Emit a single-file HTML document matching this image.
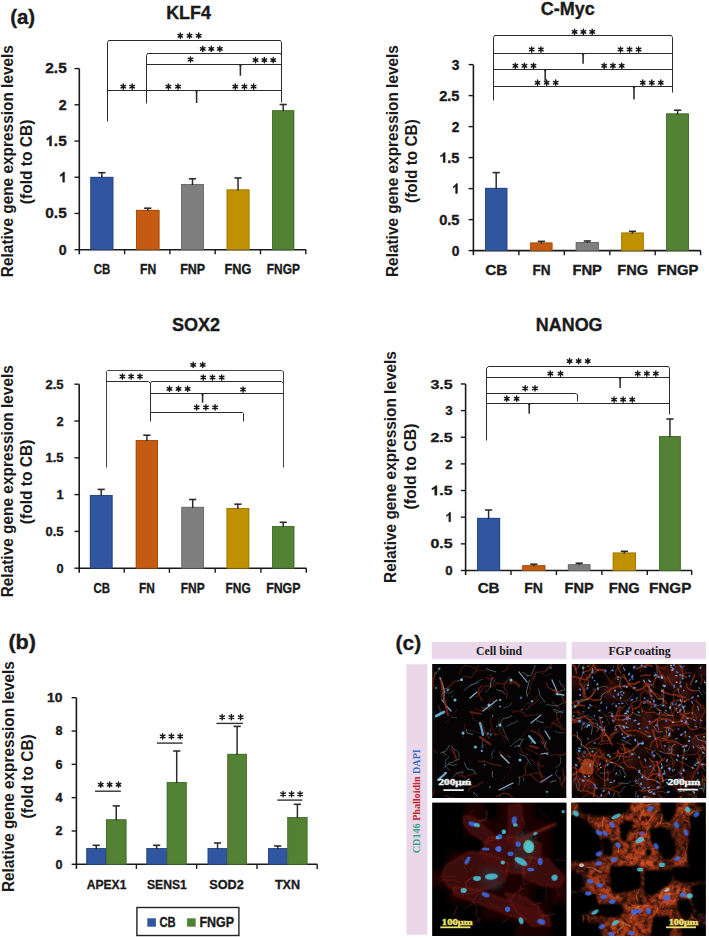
<!DOCTYPE html>
<html><head><meta charset="utf-8"><style>html,body{margin:0;padding:0;background:#fff}svg{display:block}</style></head>
<body>
<svg width="709" height="938" viewBox="0 0 709 938">
<rect width="709" height="938" fill="#fff"/>
<text x="10.20" y="24.00" font-size="19.8" font-weight="bold" text-anchor="start" fill="#1a1a1a" font-family="'Liberation Sans', sans-serif" textLength="25.0" lengthAdjust="spacingAndGlyphs"  stroke="#1a1a1a" stroke-width="0.35">(a)</text>
<text x="188.50" y="18.60" font-size="18" font-weight="bold" text-anchor="middle" fill="#1a1a1a" font-family="'Liberation Sans', sans-serif" textLength="44.7" lengthAdjust="spacingAndGlyphs"  stroke="#1a1a1a" stroke-width="0.35">KLF4</text>
<text transform="translate(13.30,161.10) rotate(-90)" font-size="15.6" font-weight="bold" text-anchor="middle" fill="#1a1a1a" font-family="'Liberation Sans', sans-serif" textLength="232.1" lengthAdjust="spacingAndGlyphs">Relative gene expression levels</text>
<text transform="translate(31.60,161.90) rotate(-90)" font-size="15.6" font-weight="bold" text-anchor="middle" fill="#1a1a1a" font-family="'Liberation Sans', sans-serif" textLength="84.6" lengthAdjust="spacingAndGlyphs">(fold to CB)</text>
<line x1="79.30" y1="68.57" x2="79.30" y2="254.30" stroke="#1a1a1a" stroke-width="1.6"/>
<line x1="78.50" y1="249.70" x2="306.20" y2="249.70" stroke="#1a1a1a" stroke-width="1.6"/>
<line x1="74.50" y1="249.70" x2="79.30" y2="249.70" stroke="#1a1a1a" stroke-width="1.4"/>
<text x="66.70" y="254.60" font-size="14.2" font-weight="bold" text-anchor="end" fill="#1a1a1a" font-family="'Liberation Sans', sans-serif"  stroke="#1a1a1a" stroke-width="0.35">0</text>
<line x1="74.50" y1="213.47" x2="79.30" y2="213.47" stroke="#1a1a1a" stroke-width="1.4"/>
<text x="66.70" y="218.38" font-size="14.2" font-weight="bold" text-anchor="end" fill="#1a1a1a" font-family="'Liberation Sans', sans-serif" textLength="21.4" lengthAdjust="spacingAndGlyphs"  stroke="#1a1a1a" stroke-width="0.35">0.5</text>
<line x1="74.50" y1="177.25" x2="79.30" y2="177.25" stroke="#1a1a1a" stroke-width="1.4"/>
<path transform="translate(58.80,182.15) scale(0.01420,-0.01420)" d="M410,0 L270,0 L270,505 Q195,435 95,395 L95,520 Q165,550 230,605 Q290,660 320,716 L410,716 Z" fill="#1a1a1a" stroke="#1a1a1a" stroke-width="24.6"/>
<line x1="74.50" y1="141.02" x2="79.30" y2="141.02" stroke="#1a1a1a" stroke-width="1.4"/>
<path transform="translate(45.30,145.92) scale(0.01540,-0.01420)" d="M410,0 L270,0 L270,505 Q195,435 95,395 L95,520 Q165,550 230,605 Q290,660 320,716 L410,716 Z" fill="#1a1a1a" stroke="#1a1a1a" stroke-width="24.6"/>
<text x="66.70" y="145.92" font-size="14.2" font-weight="bold" text-anchor="end" fill="#1a1a1a" font-family="'Liberation Sans', sans-serif" textLength="12.839999999999996" lengthAdjust="spacingAndGlyphs"  stroke="#1a1a1a" stroke-width="0.35">.5</text>
<line x1="74.50" y1="104.80" x2="79.30" y2="104.80" stroke="#1a1a1a" stroke-width="1.4"/>
<text x="66.70" y="109.70" font-size="14.2" font-weight="bold" text-anchor="end" fill="#1a1a1a" font-family="'Liberation Sans', sans-serif"  stroke="#1a1a1a" stroke-width="0.35">2</text>
<line x1="74.50" y1="68.57" x2="79.30" y2="68.57" stroke="#1a1a1a" stroke-width="1.4"/>
<text x="66.70" y="73.47" font-size="14.2" font-weight="bold" text-anchor="end" fill="#1a1a1a" font-family="'Liberation Sans', sans-serif" textLength="21.4" lengthAdjust="spacingAndGlyphs"  stroke="#1a1a1a" stroke-width="0.35">2.5</text>
<line x1="124.60" y1="249.70" x2="124.60" y2="254.30" stroke="#1a1a1a" stroke-width="1.4"/>
<line x1="169.90" y1="249.70" x2="169.90" y2="254.30" stroke="#1a1a1a" stroke-width="1.4"/>
<line x1="215.20" y1="249.70" x2="215.20" y2="254.30" stroke="#1a1a1a" stroke-width="1.4"/>
<line x1="260.50" y1="249.70" x2="260.50" y2="254.30" stroke="#1a1a1a" stroke-width="1.4"/>
<line x1="305.80" y1="249.70" x2="305.80" y2="254.30" stroke="#1a1a1a" stroke-width="1.4"/>
<rect x="90.40" y="176.90" width="22.90" height="72.80" fill="#3056a0" />
<rect x="90.80" y="177.30" width="22.10" height="72.40" fill="none" stroke="#274683" stroke-width="0.8"/>
<line x1="101.85" y1="177.90" x2="101.85" y2="172.70" stroke="#2c2c2c" stroke-width="1.5"/>
<line x1="98.25" y1="172.70" x2="105.45" y2="172.70" stroke="#2c2c2c" stroke-width="1.6"/>
<rect x="136.10" y="209.90" width="23.30" height="39.80" fill="#c55a11" />
<rect x="136.50" y="210.30" width="22.50" height="39.40" fill="none" stroke="#a1490d" stroke-width="0.8"/>
<line x1="147.75" y1="210.90" x2="147.75" y2="208.20" stroke="#2c2c2c" stroke-width="1.5"/>
<line x1="144.15" y1="208.20" x2="151.35" y2="208.20" stroke="#2c2c2c" stroke-width="1.6"/>
<rect x="181.10" y="184.10" width="22.80" height="65.60" fill="#7f7f7f" />
<rect x="181.50" y="184.50" width="22.00" height="65.20" fill="none" stroke="#686868" stroke-width="0.8"/>
<line x1="192.50" y1="185.10" x2="192.50" y2="178.80" stroke="#2c2c2c" stroke-width="1.5"/>
<line x1="188.90" y1="178.80" x2="196.10" y2="178.80" stroke="#2c2c2c" stroke-width="1.6"/>
<rect x="226.70" y="189.50" width="22.70" height="60.20" fill="#bf9000" />
<rect x="227.10" y="189.90" width="21.90" height="59.80" fill="none" stroke="#9c7600" stroke-width="0.8"/>
<line x1="238.05" y1="190.50" x2="238.05" y2="178.00" stroke="#2c2c2c" stroke-width="1.5"/>
<line x1="234.45" y1="178.00" x2="241.65" y2="178.00" stroke="#2c2c2c" stroke-width="1.6"/>
<rect x="272.20" y="110.30" width="22.00" height="139.40" fill="#548235" />
<rect x="272.60" y="110.70" width="21.20" height="139.00" fill="none" stroke="#446a2b" stroke-width="0.8"/>
<line x1="283.20" y1="111.30" x2="283.20" y2="104.50" stroke="#2c2c2c" stroke-width="1.5"/>
<line x1="279.60" y1="104.50" x2="286.80" y2="104.50" stroke="#2c2c2c" stroke-width="1.6"/>
<text x="101.90" y="274.00" font-size="13.8" font-weight="bold" text-anchor="middle" fill="#1a1a1a" font-family="'Liberation Sans', sans-serif" textLength="16.5" lengthAdjust="spacingAndGlyphs"  stroke="#1a1a1a" stroke-width="0.35">CB</text>
<text x="148.10" y="274.00" font-size="13.8" font-weight="bold" text-anchor="middle" fill="#1a1a1a" font-family="'Liberation Sans', sans-serif" textLength="16.2" lengthAdjust="spacingAndGlyphs"  stroke="#1a1a1a" stroke-width="0.35">FN</text>
<text x="192.70" y="274.00" font-size="13.8" font-weight="bold" text-anchor="middle" fill="#1a1a1a" font-family="'Liberation Sans', sans-serif" textLength="24.9" lengthAdjust="spacingAndGlyphs"  stroke="#1a1a1a" stroke-width="0.35">FNP</text>
<text x="237.90" y="274.00" font-size="13.8" font-weight="bold" text-anchor="middle" fill="#1a1a1a" font-family="'Liberation Sans', sans-serif" textLength="26.8" lengthAdjust="spacingAndGlyphs"  stroke="#1a1a1a" stroke-width="0.35">FNG</text>
<text x="283.40" y="274.00" font-size="13.8" font-weight="bold" text-anchor="middle" fill="#1a1a1a" font-family="'Liberation Sans', sans-serif" textLength="33.1" lengthAdjust="spacingAndGlyphs"  stroke="#1a1a1a" stroke-width="0.35">FNGP</text>
<polyline points="107.50,121.50 107.50,42.50 108.50,40.50 280.50,40.50 281.50,42.50 281.50,102.50" fill="none" stroke="#2a2a2a" stroke-width="1.0" stroke-linejoin="round"/>
<polyline points="146.50,103.50 146.50,55.50 147.50,53.50 280.50,53.50 281.50,55.50" fill="none" stroke="#2a2a2a" stroke-width="1.0" stroke-linejoin="round"/>
<line x1="146.20" y1="64.50" x2="281.80" y2="64.50" stroke="#2a2a2a" stroke-width="1.0"/>
<polygon points="238.80,64.00 242.00,64.00 241.20,66.50 241.15,75.70 239.65,75.70 239.60,66.50" fill="#2a2a2a"/>
<line x1="107.00" y1="90.50" x2="281.80" y2="90.50" stroke="#2a2a2a" stroke-width="1.0"/>
<polygon points="195.00,90.00 198.20,90.00 197.40,92.50 197.35,103.00 195.85,103.00 195.80,92.50" fill="#2a2a2a"/>
<path d="M180.28,33.05L180.28,38.35M177.99,34.37L182.58,37.02M182.58,34.37L177.99,37.02" stroke="#151515" stroke-width="1.4" stroke-linecap="round"/>
<path d="M189.50,33.05L189.50,38.35M187.21,34.37L191.79,37.02M191.79,34.37L187.21,37.02" stroke="#151515" stroke-width="1.4" stroke-linecap="round"/>
<path d="M198.72,33.05L198.72,38.35M196.42,34.37L201.01,37.02M201.01,34.37L196.42,37.02" stroke="#151515" stroke-width="1.4" stroke-linecap="round"/>
<path d="M202.78,46.25L202.78,51.55M200.49,47.57L205.08,50.23M205.08,47.57L200.49,50.23" stroke="#151515" stroke-width="1.4" stroke-linecap="round"/>
<path d="M211.30,46.25L211.30,51.55M209.01,47.57L213.59,50.23M213.59,47.57L209.01,50.23" stroke="#151515" stroke-width="1.4" stroke-linecap="round"/>
<path d="M219.82,46.25L219.82,51.55M217.52,47.57L222.11,50.23M222.11,47.57L217.52,50.23" stroke="#151515" stroke-width="1.4" stroke-linecap="round"/>
<path d="M190.50,56.85L190.50,62.15M188.21,58.17L192.79,60.83M192.79,58.17L188.21,60.83" stroke="#151515" stroke-width="1.4" stroke-linecap="round"/>
<path d="M255.48,57.45L255.48,62.75M253.19,58.77L257.78,61.43M257.78,58.77L253.19,61.43" stroke="#151515" stroke-width="1.4" stroke-linecap="round"/>
<path d="M264.35,57.45L264.35,62.75M262.06,58.77L266.64,61.43M266.64,58.77L262.06,61.43" stroke="#151515" stroke-width="1.4" stroke-linecap="round"/>
<path d="M273.22,57.45L273.22,62.75M270.92,58.77L275.51,61.43M275.51,58.77L270.92,61.43" stroke="#151515" stroke-width="1.4" stroke-linecap="round"/>
<path d="M123.28,83.95L123.28,89.25M120.99,85.27L125.58,87.92M125.58,85.27L120.99,87.92" stroke="#151515" stroke-width="1.4" stroke-linecap="round"/>
<path d="M132.22,83.95L132.22,89.25M129.92,85.27L134.51,87.92M134.51,85.27L129.92,87.92" stroke="#151515" stroke-width="1.4" stroke-linecap="round"/>
<path d="M168.38,83.95L168.38,89.25M166.09,85.27L170.68,87.92M170.68,85.27L166.09,87.92" stroke="#151515" stroke-width="1.4" stroke-linecap="round"/>
<path d="M178.02,83.95L178.02,89.25M175.72,85.27L180.31,87.92M180.31,85.27L175.72,87.92" stroke="#151515" stroke-width="1.4" stroke-linecap="round"/>
<path d="M235.28,83.95L235.28,89.25M232.99,85.27L237.58,87.92M237.58,85.27L232.99,87.92" stroke="#151515" stroke-width="1.4" stroke-linecap="round"/>
<path d="M244.45,83.95L244.45,89.25M242.16,85.27L246.74,87.92M246.74,85.27L242.16,87.92" stroke="#151515" stroke-width="1.4" stroke-linecap="round"/>
<path d="M253.62,83.95L253.62,89.25M251.32,85.27L255.91,87.92M255.91,85.27L251.32,87.92" stroke="#151515" stroke-width="1.4" stroke-linecap="round"/>
<text x="567.80" y="15.20" font-size="18" font-weight="bold" text-anchor="middle" fill="#1a1a1a" font-family="'Liberation Sans', sans-serif" textLength="53.9" lengthAdjust="spacingAndGlyphs"  stroke="#1a1a1a" stroke-width="0.35">C-Myc</text>
<text transform="translate(398.00,161.05) rotate(-90)" font-size="16.3" font-weight="bold" text-anchor="middle" fill="#1a1a1a" font-family="'Liberation Sans', sans-serif" textLength="232" lengthAdjust="spacingAndGlyphs">Relative gene expression levels</text>
<text transform="translate(417.20,161.05) rotate(-90)" font-size="16.3" font-weight="bold" text-anchor="middle" fill="#1a1a1a" font-family="'Liberation Sans', sans-serif" textLength="83.7" lengthAdjust="spacingAndGlyphs">(fold to CB)</text>
<line x1="473.40" y1="64.60" x2="473.40" y2="255.20" stroke="#1a1a1a" stroke-width="1.6"/>
<line x1="472.60" y1="250.60" x2="700.80" y2="250.60" stroke="#1a1a1a" stroke-width="1.6"/>
<line x1="468.60" y1="250.60" x2="473.40" y2="250.60" stroke="#1a1a1a" stroke-width="1.4"/>
<text x="459.50" y="255.50" font-size="13.8" font-weight="bold" text-anchor="end" fill="#1a1a1a" font-family="'Liberation Sans', sans-serif"  stroke="#1a1a1a" stroke-width="0.35">0</text>
<line x1="468.60" y1="219.60" x2="473.40" y2="219.60" stroke="#1a1a1a" stroke-width="1.4"/>
<text x="459.50" y="224.50" font-size="13.8" font-weight="bold" text-anchor="end" fill="#1a1a1a" font-family="'Liberation Sans', sans-serif" textLength="20.3" lengthAdjust="spacingAndGlyphs"  stroke="#1a1a1a" stroke-width="0.35">0.5</text>
<line x1="468.60" y1="188.60" x2="473.40" y2="188.60" stroke="#1a1a1a" stroke-width="1.4"/>
<path transform="translate(451.83,193.50) scale(0.01380,-0.01380)" d="M410,0 L270,0 L270,505 Q195,435 95,395 L95,520 Q165,550 230,605 Q290,660 320,716 L410,716 Z" fill="#1a1a1a" stroke="#1a1a1a" stroke-width="25.4"/>
<line x1="468.60" y1="157.60" x2="473.40" y2="157.60" stroke="#1a1a1a" stroke-width="1.4"/>
<path transform="translate(439.20,162.50) scale(0.01460,-0.01380)" d="M410,0 L270,0 L270,505 Q195,435 95,395 L95,520 Q165,550 230,605 Q290,660 320,716 L410,716 Z" fill="#1a1a1a" stroke="#1a1a1a" stroke-width="25.4"/>
<text x="459.50" y="162.50" font-size="13.8" font-weight="bold" text-anchor="end" fill="#1a1a1a" font-family="'Liberation Sans', sans-serif" textLength="12.179999999999998" lengthAdjust="spacingAndGlyphs"  stroke="#1a1a1a" stroke-width="0.35">.5</text>
<line x1="468.60" y1="126.60" x2="473.40" y2="126.60" stroke="#1a1a1a" stroke-width="1.4"/>
<text x="459.50" y="131.50" font-size="13.8" font-weight="bold" text-anchor="end" fill="#1a1a1a" font-family="'Liberation Sans', sans-serif"  stroke="#1a1a1a" stroke-width="0.35">2</text>
<line x1="468.60" y1="95.60" x2="473.40" y2="95.60" stroke="#1a1a1a" stroke-width="1.4"/>
<text x="459.50" y="100.50" font-size="13.8" font-weight="bold" text-anchor="end" fill="#1a1a1a" font-family="'Liberation Sans', sans-serif" textLength="20.3" lengthAdjust="spacingAndGlyphs"  stroke="#1a1a1a" stroke-width="0.35">2.5</text>
<line x1="468.60" y1="64.60" x2="473.40" y2="64.60" stroke="#1a1a1a" stroke-width="1.4"/>
<text x="459.50" y="69.50" font-size="13.8" font-weight="bold" text-anchor="end" fill="#1a1a1a" font-family="'Liberation Sans', sans-serif"  stroke="#1a1a1a" stroke-width="0.35">3</text>
<line x1="518.90" y1="250.60" x2="518.90" y2="255.20" stroke="#1a1a1a" stroke-width="1.4"/>
<line x1="564.30" y1="250.60" x2="564.30" y2="255.20" stroke="#1a1a1a" stroke-width="1.4"/>
<line x1="609.80" y1="250.60" x2="609.80" y2="255.20" stroke="#1a1a1a" stroke-width="1.4"/>
<line x1="655.20" y1="250.60" x2="655.20" y2="255.20" stroke="#1a1a1a" stroke-width="1.4"/>
<line x1="700.60" y1="250.60" x2="700.60" y2="255.20" stroke="#1a1a1a" stroke-width="1.4"/>
<rect x="485.10" y="187.90" width="22.20" height="62.70" fill="#3056a0" />
<rect x="485.50" y="188.30" width="21.40" height="62.30" fill="none" stroke="#274683" stroke-width="0.8"/>
<line x1="496.20" y1="188.90" x2="496.20" y2="172.60" stroke="#2c2c2c" stroke-width="1.5"/>
<line x1="492.60" y1="172.60" x2="499.80" y2="172.60" stroke="#2c2c2c" stroke-width="1.6"/>
<rect x="530.30" y="242.60" width="22.10" height="8.00" fill="#c55a11" />
<rect x="530.70" y="243.00" width="21.30" height="7.60" fill="none" stroke="#a1490d" stroke-width="0.8"/>
<line x1="541.35" y1="243.60" x2="541.35" y2="241.40" stroke="#2c2c2c" stroke-width="1.5"/>
<line x1="537.75" y1="241.40" x2="544.95" y2="241.40" stroke="#2c2c2c" stroke-width="1.6"/>
<rect x="575.80" y="242.00" width="23.10" height="8.60" fill="#7f7f7f" />
<rect x="576.20" y="242.40" width="22.30" height="8.20" fill="none" stroke="#686868" stroke-width="0.8"/>
<line x1="587.35" y1="243.00" x2="587.35" y2="241.00" stroke="#2c2c2c" stroke-width="1.5"/>
<line x1="583.75" y1="241.00" x2="590.95" y2="241.00" stroke="#2c2c2c" stroke-width="1.6"/>
<rect x="621.30" y="232.60" width="22.40" height="18.00" fill="#bf9000" />
<rect x="621.70" y="233.00" width="21.60" height="17.60" fill="none" stroke="#9c7600" stroke-width="0.8"/>
<line x1="632.50" y1="233.60" x2="632.50" y2="231.30" stroke="#2c2c2c" stroke-width="1.5"/>
<line x1="628.90" y1="231.30" x2="636.10" y2="231.30" stroke="#2c2c2c" stroke-width="1.6"/>
<rect x="666.20" y="113.50" width="22.80" height="137.10" fill="#548235" />
<rect x="666.60" y="113.90" width="22.00" height="136.70" fill="none" stroke="#446a2b" stroke-width="0.8"/>
<line x1="677.60" y1="114.50" x2="677.60" y2="110.20" stroke="#2c2c2c" stroke-width="1.5"/>
<line x1="674.00" y1="110.20" x2="681.20" y2="110.20" stroke="#2c2c2c" stroke-width="1.6"/>
<text x="496.20" y="275.00" font-size="14.8" font-weight="bold" text-anchor="middle" fill="#1a1a1a" font-family="'Liberation Sans', sans-serif" textLength="22.1" lengthAdjust="spacingAndGlyphs"  stroke="#1a1a1a" stroke-width="0.35">CB</text>
<text x="541.60" y="275.00" font-size="14.8" font-weight="bold" text-anchor="middle" fill="#1a1a1a" font-family="'Liberation Sans', sans-serif" textLength="18.1" lengthAdjust="spacingAndGlyphs"  stroke="#1a1a1a" stroke-width="0.35">FN</text>
<text x="587.20" y="275.00" font-size="14.8" font-weight="bold" text-anchor="middle" fill="#1a1a1a" font-family="'Liberation Sans', sans-serif" textLength="29.6" lengthAdjust="spacingAndGlyphs"  stroke="#1a1a1a" stroke-width="0.35">FNP</text>
<text x="632.70" y="275.00" font-size="14.8" font-weight="bold" text-anchor="middle" fill="#1a1a1a" font-family="'Liberation Sans', sans-serif" textLength="30.9" lengthAdjust="spacingAndGlyphs"  stroke="#1a1a1a" stroke-width="0.35">FNG</text>
<text x="677.80" y="275.00" font-size="14.8" font-weight="bold" text-anchor="middle" fill="#1a1a1a" font-family="'Liberation Sans', sans-serif" textLength="41.3" lengthAdjust="spacingAndGlyphs"  stroke="#1a1a1a" stroke-width="0.35">FNGP</text>
<polyline points="493.50,100.50 493.50,37.50 494.50,35.50 671.50,35.50 672.50,37.50 672.50,92.50" fill="none" stroke="#2a2a2a" stroke-width="1.0" stroke-linejoin="round"/>
<line x1="493.30" y1="53.50" x2="672.80" y2="53.50" stroke="#2a2a2a" stroke-width="1.0"/>
<polygon points="581.50,53.00 584.70,53.00 583.90,55.50 583.85,63.80 582.35,63.80 582.30,55.50" fill="#2a2a2a"/>
<line x1="493.30" y1="69.50" x2="672.80" y2="69.50" stroke="#2a2a2a" stroke-width="1.0"/>
<polygon points="543.60,69.00 546.80,69.00 546.00,71.50 545.95,80.70 544.45,80.70 544.40,71.50" fill="#2a2a2a"/>
<line x1="493.30" y1="86.50" x2="672.80" y2="86.50" stroke="#2a2a2a" stroke-width="1.0"/>
<polygon points="632.40,86.00 635.60,86.00 634.80,88.50 634.75,99.40 633.25,99.40 633.20,88.50" fill="#2a2a2a"/>
<path d="M574.58,29.25L574.58,34.55M572.29,30.58L576.88,33.23M576.88,30.58L572.29,33.23" stroke="#151515" stroke-width="1.4" stroke-linecap="round"/>
<path d="M583.40,29.25L583.40,34.55M581.11,30.58L585.69,33.23M585.69,30.58L581.11,33.23" stroke="#151515" stroke-width="1.4" stroke-linecap="round"/>
<path d="M592.22,29.25L592.22,34.55M589.92,30.58L594.51,33.23M594.51,30.58L589.92,33.23" stroke="#151515" stroke-width="1.4" stroke-linecap="round"/>
<path d="M531.68,46.85L531.68,52.15M529.39,48.17L533.98,50.83M533.98,48.17L529.39,50.83" stroke="#151515" stroke-width="1.4" stroke-linecap="round"/>
<path d="M540.92,46.85L540.92,52.15M538.62,48.17L543.21,50.83M543.21,48.17L538.62,50.83" stroke="#151515" stroke-width="1.4" stroke-linecap="round"/>
<path d="M620.48,46.85L620.48,52.15M618.19,48.17L622.78,50.83M622.78,48.17L618.19,50.83" stroke="#151515" stroke-width="1.4" stroke-linecap="round"/>
<path d="M629.55,46.85L629.55,52.15M627.26,48.17L631.84,50.83M631.84,48.17L627.26,50.83" stroke="#151515" stroke-width="1.4" stroke-linecap="round"/>
<path d="M638.62,46.85L638.62,52.15M636.32,48.17L640.91,50.83M640.91,48.17L636.32,50.83" stroke="#151515" stroke-width="1.4" stroke-linecap="round"/>
<path d="M515.38,63.15L515.38,68.45M513.09,64.47L517.68,67.12M517.68,64.47L513.09,67.12" stroke="#151515" stroke-width="1.4" stroke-linecap="round"/>
<path d="M524.45,63.15L524.45,68.45M522.16,64.47L526.74,67.12M526.74,64.47L522.16,67.12" stroke="#151515" stroke-width="1.4" stroke-linecap="round"/>
<path d="M533.52,63.15L533.52,68.45M531.22,64.47L535.81,67.12M535.81,64.47L531.22,67.12" stroke="#151515" stroke-width="1.4" stroke-linecap="round"/>
<path d="M604.18,63.15L604.18,68.45M601.89,64.47L606.48,67.12M606.48,64.47L601.89,67.12" stroke="#151515" stroke-width="1.4" stroke-linecap="round"/>
<path d="M612.95,63.15L612.95,68.45M610.66,64.47L615.24,67.12M615.24,64.47L610.66,67.12" stroke="#151515" stroke-width="1.4" stroke-linecap="round"/>
<path d="M621.72,63.15L621.72,68.45M619.42,64.47L624.01,67.12M624.01,64.47L619.42,67.12" stroke="#151515" stroke-width="1.4" stroke-linecap="round"/>
<path d="M537.58,80.05L537.58,85.35M535.29,81.37L539.88,84.02M539.88,81.37L535.29,84.02" stroke="#151515" stroke-width="1.4" stroke-linecap="round"/>
<path d="M546.65,80.05L546.65,85.35M544.36,81.37L548.94,84.02M548.94,81.37L544.36,84.02" stroke="#151515" stroke-width="1.4" stroke-linecap="round"/>
<path d="M555.72,80.05L555.72,85.35M553.42,81.37L558.01,84.02M558.01,81.37L553.42,84.02" stroke="#151515" stroke-width="1.4" stroke-linecap="round"/>
<path d="M642.78,80.05L642.78,85.35M640.49,81.37L645.08,84.02M645.08,81.37L640.49,84.02" stroke="#151515" stroke-width="1.4" stroke-linecap="round"/>
<path d="M651.80,80.05L651.80,85.35M649.51,81.37L654.09,84.02M654.09,81.37L649.51,84.02" stroke="#151515" stroke-width="1.4" stroke-linecap="round"/>
<path d="M660.82,80.05L660.82,85.35M658.52,81.37L663.11,84.02M663.11,81.37L658.52,84.02" stroke="#151515" stroke-width="1.4" stroke-linecap="round"/>
<text x="196.00" y="331.30" font-size="18" font-weight="bold" text-anchor="middle" fill="#1a1a1a" font-family="'Liberation Sans', sans-serif" textLength="48.2" lengthAdjust="spacingAndGlyphs"  stroke="#1a1a1a" stroke-width="0.35">SOX2</text>
<text transform="translate(13.30,481.25) rotate(-90)" font-size="15.6" font-weight="bold" text-anchor="middle" fill="#1a1a1a" font-family="'Liberation Sans', sans-serif" textLength="232.2" lengthAdjust="spacingAndGlyphs">Relative gene expression levels</text>
<text transform="translate(31.60,481.90) rotate(-90)" font-size="15.6" font-weight="bold" text-anchor="middle" fill="#1a1a1a" font-family="'Liberation Sans', sans-serif" textLength="84.6" lengthAdjust="spacingAndGlyphs">(fold to CB)</text>
<line x1="79.20" y1="384.20" x2="79.20" y2="572.80" stroke="#1a1a1a" stroke-width="1.6"/>
<line x1="78.40" y1="568.20" x2="306.50" y2="568.20" stroke="#1a1a1a" stroke-width="1.6"/>
<line x1="74.40" y1="568.20" x2="79.20" y2="568.20" stroke="#1a1a1a" stroke-width="1.4"/>
<text x="63.60" y="572.70" font-size="12.8" font-weight="bold" text-anchor="end" fill="#1a1a1a" font-family="'Liberation Sans', sans-serif"  stroke="#1a1a1a" stroke-width="0.35">0</text>
<line x1="74.40" y1="531.40" x2="79.20" y2="531.40" stroke="#1a1a1a" stroke-width="1.4"/>
<text x="63.60" y="535.90" font-size="12.8" font-weight="bold" text-anchor="end" fill="#1a1a1a" font-family="'Liberation Sans', sans-serif" textLength="18.1" lengthAdjust="spacingAndGlyphs"  stroke="#1a1a1a" stroke-width="0.35">0.5</text>
<line x1="74.40" y1="494.60" x2="79.20" y2="494.60" stroke="#1a1a1a" stroke-width="1.4"/>
<text x="63.60" y="499.10" font-size="12.8" font-weight="bold" text-anchor="end" fill="#1a1a1a" font-family="'Liberation Sans', sans-serif"  stroke="#1a1a1a" stroke-width="0.35">1</text>
<line x1="74.40" y1="457.80" x2="79.20" y2="457.80" stroke="#1a1a1a" stroke-width="1.4"/>
<text x="63.60" y="462.30" font-size="12.8" font-weight="bold" text-anchor="end" fill="#1a1a1a" font-family="'Liberation Sans', sans-serif" textLength="18.1" lengthAdjust="spacingAndGlyphs"  stroke="#1a1a1a" stroke-width="0.35">1.5</text>
<line x1="74.40" y1="421.00" x2="79.20" y2="421.00" stroke="#1a1a1a" stroke-width="1.4"/>
<text x="63.60" y="425.50" font-size="12.8" font-weight="bold" text-anchor="end" fill="#1a1a1a" font-family="'Liberation Sans', sans-serif"  stroke="#1a1a1a" stroke-width="0.35">2</text>
<line x1="74.40" y1="384.20" x2="79.20" y2="384.20" stroke="#1a1a1a" stroke-width="1.4"/>
<text x="63.60" y="388.70" font-size="12.8" font-weight="bold" text-anchor="end" fill="#1a1a1a" font-family="'Liberation Sans', sans-serif" textLength="18.1" lengthAdjust="spacingAndGlyphs"  stroke="#1a1a1a" stroke-width="0.35">2.5</text>
<line x1="124.20" y1="568.20" x2="124.20" y2="572.80" stroke="#1a1a1a" stroke-width="1.4"/>
<line x1="169.40" y1="568.20" x2="169.40" y2="572.80" stroke="#1a1a1a" stroke-width="1.4"/>
<line x1="215.20" y1="568.20" x2="215.20" y2="572.80" stroke="#1a1a1a" stroke-width="1.4"/>
<line x1="260.90" y1="568.20" x2="260.90" y2="572.80" stroke="#1a1a1a" stroke-width="1.4"/>
<line x1="306.30" y1="568.20" x2="306.30" y2="572.80" stroke="#1a1a1a" stroke-width="1.4"/>
<rect x="89.90" y="495.10" width="22.60" height="73.10" fill="#3056a0" />
<rect x="90.30" y="495.50" width="21.80" height="72.70" fill="none" stroke="#274683" stroke-width="0.8"/>
<line x1="101.20" y1="496.10" x2="101.20" y2="489.40" stroke="#2c2c2c" stroke-width="1.5"/>
<line x1="97.60" y1="489.40" x2="104.80" y2="489.40" stroke="#2c2c2c" stroke-width="1.6"/>
<rect x="135.80" y="440.10" width="22.20" height="128.10" fill="#c55a11" />
<rect x="136.20" y="440.50" width="21.40" height="127.70" fill="none" stroke="#a1490d" stroke-width="0.8"/>
<line x1="146.90" y1="441.10" x2="146.90" y2="435.20" stroke="#2c2c2c" stroke-width="1.5"/>
<line x1="143.30" y1="435.20" x2="150.50" y2="435.20" stroke="#2c2c2c" stroke-width="1.6"/>
<rect x="181.40" y="506.90" width="22.60" height="61.30" fill="#7f7f7f" />
<rect x="181.80" y="507.30" width="21.80" height="60.90" fill="none" stroke="#686868" stroke-width="0.8"/>
<line x1="192.70" y1="507.90" x2="192.70" y2="499.50" stroke="#2c2c2c" stroke-width="1.5"/>
<line x1="189.10" y1="499.50" x2="196.30" y2="499.50" stroke="#2c2c2c" stroke-width="1.6"/>
<rect x="226.60" y="508.00" width="22.60" height="60.20" fill="#bf9000" />
<rect x="227.00" y="508.40" width="21.80" height="59.80" fill="none" stroke="#9c7600" stroke-width="0.8"/>
<line x1="237.90" y1="509.00" x2="237.90" y2="504.20" stroke="#2c2c2c" stroke-width="1.5"/>
<line x1="234.30" y1="504.20" x2="241.50" y2="504.20" stroke="#2c2c2c" stroke-width="1.6"/>
<rect x="272.20" y="526.10" width="22.10" height="42.10" fill="#548235" />
<rect x="272.60" y="526.50" width="21.30" height="41.70" fill="none" stroke="#446a2b" stroke-width="0.8"/>
<line x1="283.25" y1="527.10" x2="283.25" y2="522.30" stroke="#2c2c2c" stroke-width="1.5"/>
<line x1="279.65" y1="522.30" x2="286.85" y2="522.30" stroke="#2c2c2c" stroke-width="1.6"/>
<text x="101.80" y="593.40" font-size="13.8" font-weight="bold" text-anchor="middle" fill="#1a1a1a" font-family="'Liberation Sans', sans-serif" textLength="16.5" lengthAdjust="spacingAndGlyphs"  stroke="#1a1a1a" stroke-width="0.35">CB</text>
<text x="146.90" y="593.40" font-size="13.8" font-weight="bold" text-anchor="middle" fill="#1a1a1a" font-family="'Liberation Sans', sans-serif" textLength="15.8" lengthAdjust="spacingAndGlyphs"  stroke="#1a1a1a" stroke-width="0.35">FN</text>
<text x="192.70" y="593.40" font-size="13.8" font-weight="bold" text-anchor="middle" fill="#1a1a1a" font-family="'Liberation Sans', sans-serif" textLength="23.9" lengthAdjust="spacingAndGlyphs"  stroke="#1a1a1a" stroke-width="0.35">FNP</text>
<text x="238.10" y="593.40" font-size="13.8" font-weight="bold" text-anchor="middle" fill="#1a1a1a" font-family="'Liberation Sans', sans-serif" textLength="25.2" lengthAdjust="spacingAndGlyphs"  stroke="#1a1a1a" stroke-width="0.35">FNG</text>
<text x="283.30" y="593.40" font-size="13.8" font-weight="bold" text-anchor="middle" fill="#1a1a1a" font-family="'Liberation Sans', sans-serif" textLength="34.3" lengthAdjust="spacingAndGlyphs"  stroke="#1a1a1a" stroke-width="0.35">FNGP</text>
<polyline points="106.50,467.50 106.50,371.50 107.50,370.50 281.50,370.50 283.50,371.50 283.50,467.50" fill="none" stroke="#444" stroke-width="1.0" stroke-linejoin="round"/>
<polyline points="106.50,381.50 148.50,381.50 150.50,383.50 150.50,421.50" fill="none" stroke="#2a2a2a" stroke-width="1.0" stroke-linejoin="round"/>
<polyline points="150.50,383.50 151.50,381.50 281.50,381.50 283.50,383.50" fill="none" stroke="#2a2a2a" stroke-width="1.0" stroke-linejoin="round"/>
<line x1="150.20" y1="393.50" x2="283.60" y2="393.50" stroke="#2a2a2a" stroke-width="1.0"/>
<polygon points="201.00,393.00 204.20,393.00 203.40,395.50 203.35,402.70 201.85,402.70 201.80,395.50" fill="#2a2a2a"/>
<polyline points="150.50,412.50 242.50,412.50 243.50,413.50 243.50,421.50" fill="none" stroke="#2a2a2a" stroke-width="1.0" stroke-linejoin="round"/>
<path d="M193.18,362.25L193.18,367.55M190.89,363.58L195.48,366.23M195.48,363.58L190.89,366.23" stroke="#151515" stroke-width="1.4" stroke-linecap="round"/>
<path d="M202.72,362.25L202.72,367.55M200.42,363.58L205.01,366.23M205.01,363.58L200.42,366.23" stroke="#151515" stroke-width="1.4" stroke-linecap="round"/>
<path d="M122.38,373.85L122.38,379.15M120.09,375.18L124.68,377.83M124.68,375.18L120.09,377.83" stroke="#151515" stroke-width="1.4" stroke-linecap="round"/>
<path d="M131.15,373.85L131.15,379.15M128.86,375.18L133.44,377.83M133.44,375.18L128.86,377.83" stroke="#151515" stroke-width="1.4" stroke-linecap="round"/>
<path d="M139.92,373.85L139.92,379.15M137.62,375.18L142.21,377.83M142.21,375.18L137.62,377.83" stroke="#151515" stroke-width="1.4" stroke-linecap="round"/>
<path d="M203.28,374.85L203.28,380.15M200.99,376.18L205.58,378.83M205.58,376.18L200.99,378.83" stroke="#151515" stroke-width="1.4" stroke-linecap="round"/>
<path d="M212.50,374.85L212.50,380.15M210.21,376.18L214.79,378.83M214.79,376.18L210.21,378.83" stroke="#151515" stroke-width="1.4" stroke-linecap="round"/>
<path d="M221.72,374.85L221.72,380.15M219.42,376.18L224.01,378.83M224.01,376.18L219.42,378.83" stroke="#151515" stroke-width="1.4" stroke-linecap="round"/>
<path d="M169.48,386.25L169.48,391.55M167.19,387.58L171.78,390.23M171.78,387.58L167.19,390.23" stroke="#151515" stroke-width="1.4" stroke-linecap="round"/>
<path d="M178.55,386.25L178.55,391.55M176.26,387.58L180.84,390.23M180.84,387.58L176.26,390.23" stroke="#151515" stroke-width="1.4" stroke-linecap="round"/>
<path d="M187.62,386.25L187.62,391.55M185.32,387.58L189.91,390.23M189.91,387.58L185.32,390.23" stroke="#151515" stroke-width="1.4" stroke-linecap="round"/>
<path d="M243.05,386.85L243.05,392.15M240.76,388.18L245.34,390.83M245.34,388.18L240.76,390.83" stroke="#151515" stroke-width="1.4" stroke-linecap="round"/>
<path d="M196.68,404.75L196.68,410.05M194.39,406.08L198.98,408.73M198.98,406.08L194.39,408.73" stroke="#151515" stroke-width="1.4" stroke-linecap="round"/>
<path d="M205.90,404.75L205.90,410.05M203.61,406.08L208.19,408.73M208.19,406.08L203.61,408.73" stroke="#151515" stroke-width="1.4" stroke-linecap="round"/>
<path d="M215.12,404.75L215.12,410.05M212.82,406.08L217.41,408.73M217.41,406.08L212.82,408.73" stroke="#151515" stroke-width="1.4" stroke-linecap="round"/>
<text x="569.20" y="331.30" font-size="18" font-weight="bold" text-anchor="middle" fill="#1a1a1a" font-family="'Liberation Sans', sans-serif" textLength="66.7" lengthAdjust="spacingAndGlyphs"  stroke="#1a1a1a" stroke-width="0.35">NANOG</text>
<text transform="translate(396.30,467.00) rotate(-90)" font-size="16.3" font-weight="bold" text-anchor="middle" fill="#1a1a1a" font-family="'Liberation Sans', sans-serif" textLength="231.8" lengthAdjust="spacingAndGlyphs">Relative gene expression levels</text>
<text transform="translate(415.50,466.50) rotate(-90)" font-size="16.3" font-weight="bold" text-anchor="middle" fill="#1a1a1a" font-family="'Liberation Sans', sans-serif" textLength="86" lengthAdjust="spacingAndGlyphs">(fold to CB)</text>
<line x1="465.60" y1="383.95" x2="465.60" y2="575.10" stroke="#1a1a1a" stroke-width="1.6"/>
<line x1="464.80" y1="570.50" x2="691.90" y2="570.50" stroke="#1a1a1a" stroke-width="1.6"/>
<line x1="460.80" y1="570.50" x2="465.60" y2="570.50" stroke="#1a1a1a" stroke-width="1.4"/>
<text x="452.60" y="575.10" font-size="13.3" font-weight="bold" text-anchor="end" fill="#1a1a1a" font-family="'Liberation Sans', sans-serif"  stroke="#1a1a1a" stroke-width="0.35">0</text>
<line x1="460.80" y1="543.85" x2="465.60" y2="543.85" stroke="#1a1a1a" stroke-width="1.4"/>
<text x="452.60" y="548.45" font-size="13.3" font-weight="bold" text-anchor="end" fill="#1a1a1a" font-family="'Liberation Sans', sans-serif" textLength="22.2" lengthAdjust="spacingAndGlyphs"  stroke="#1a1a1a" stroke-width="0.35">0.5</text>
<line x1="460.80" y1="517.20" x2="465.60" y2="517.20" stroke="#1a1a1a" stroke-width="1.4"/>
<path transform="translate(445.21,521.80) scale(0.01330,-0.01330)" d="M410,0 L270,0 L270,505 Q195,435 95,395 L95,520 Q165,550 230,605 Q290,660 320,716 L410,716 Z" fill="#1a1a1a" stroke="#1a1a1a" stroke-width="26.3"/>
<line x1="460.80" y1="490.55" x2="465.60" y2="490.55" stroke="#1a1a1a" stroke-width="1.4"/>
<path transform="translate(430.40,495.15) scale(0.01597,-0.01330)" d="M410,0 L270,0 L270,505 Q195,435 95,395 L95,520 Q165,550 230,605 Q290,660 320,716 L410,716 Z" fill="#1a1a1a" stroke="#1a1a1a" stroke-width="26.3"/>
<text x="452.60" y="495.15" font-size="13.3" font-weight="bold" text-anchor="end" fill="#1a1a1a" font-family="'Liberation Sans', sans-serif" textLength="13.319999999999997" lengthAdjust="spacingAndGlyphs"  stroke="#1a1a1a" stroke-width="0.35">.5</text>
<line x1="460.80" y1="463.90" x2="465.60" y2="463.90" stroke="#1a1a1a" stroke-width="1.4"/>
<text x="452.60" y="468.50" font-size="13.3" font-weight="bold" text-anchor="end" fill="#1a1a1a" font-family="'Liberation Sans', sans-serif"  stroke="#1a1a1a" stroke-width="0.35">2</text>
<line x1="460.80" y1="437.25" x2="465.60" y2="437.25" stroke="#1a1a1a" stroke-width="1.4"/>
<text x="452.60" y="441.85" font-size="13.3" font-weight="bold" text-anchor="end" fill="#1a1a1a" font-family="'Liberation Sans', sans-serif" textLength="22.2" lengthAdjust="spacingAndGlyphs"  stroke="#1a1a1a" stroke-width="0.35">2.5</text>
<line x1="460.80" y1="410.60" x2="465.60" y2="410.60" stroke="#1a1a1a" stroke-width="1.4"/>
<text x="452.60" y="415.20" font-size="13.3" font-weight="bold" text-anchor="end" fill="#1a1a1a" font-family="'Liberation Sans', sans-serif"  stroke="#1a1a1a" stroke-width="0.35">3</text>
<line x1="460.80" y1="383.95" x2="465.60" y2="383.95" stroke="#1a1a1a" stroke-width="1.4"/>
<text x="452.60" y="388.55" font-size="13.3" font-weight="bold" text-anchor="end" fill="#1a1a1a" font-family="'Liberation Sans', sans-serif" textLength="22.2" lengthAdjust="spacingAndGlyphs"  stroke="#1a1a1a" stroke-width="0.35">3.5</text>
<line x1="511.00" y1="570.50" x2="511.00" y2="575.10" stroke="#1a1a1a" stroke-width="1.4"/>
<line x1="556.40" y1="570.50" x2="556.40" y2="575.10" stroke="#1a1a1a" stroke-width="1.4"/>
<line x1="601.90" y1="570.50" x2="601.90" y2="575.10" stroke="#1a1a1a" stroke-width="1.4"/>
<line x1="647.30" y1="570.50" x2="647.30" y2="575.10" stroke="#1a1a1a" stroke-width="1.4"/>
<line x1="691.70" y1="570.50" x2="691.70" y2="575.10" stroke="#1a1a1a" stroke-width="1.4"/>
<rect x="477.10" y="517.90" width="23.00" height="52.60" fill="#3056a0" />
<rect x="477.50" y="518.30" width="22.20" height="52.20" fill="none" stroke="#274683" stroke-width="0.8"/>
<line x1="488.60" y1="518.90" x2="488.60" y2="510.00" stroke="#2c2c2c" stroke-width="1.5"/>
<line x1="485.00" y1="510.00" x2="492.20" y2="510.00" stroke="#2c2c2c" stroke-width="1.6"/>
<rect x="522.30" y="565.30" width="23.00" height="5.20" fill="#c55a11" />
<rect x="522.70" y="565.70" width="22.20" height="4.80" fill="none" stroke="#a1490d" stroke-width="0.8"/>
<line x1="533.80" y1="566.30" x2="533.80" y2="564.20" stroke="#2c2c2c" stroke-width="1.5"/>
<line x1="530.20" y1="564.20" x2="537.40" y2="564.20" stroke="#2c2c2c" stroke-width="1.6"/>
<rect x="567.90" y="564.30" width="22.50" height="6.20" fill="#7f7f7f" />
<rect x="568.30" y="564.70" width="21.70" height="5.80" fill="none" stroke="#686868" stroke-width="0.8"/>
<line x1="579.15" y1="565.30" x2="579.15" y2="563.20" stroke="#2c2c2c" stroke-width="1.5"/>
<line x1="575.55" y1="563.20" x2="582.75" y2="563.20" stroke="#2c2c2c" stroke-width="1.6"/>
<rect x="612.80" y="552.60" width="23.10" height="17.90" fill="#bf9000" />
<rect x="613.20" y="553.00" width="22.30" height="17.50" fill="none" stroke="#9c7600" stroke-width="0.8"/>
<line x1="624.35" y1="553.60" x2="624.35" y2="551.30" stroke="#2c2c2c" stroke-width="1.5"/>
<line x1="620.75" y1="551.30" x2="627.95" y2="551.30" stroke="#2c2c2c" stroke-width="1.6"/>
<rect x="659.20" y="436.20" width="21.50" height="134.30" fill="#548235" />
<rect x="659.60" y="436.60" width="20.70" height="133.90" fill="none" stroke="#446a2b" stroke-width="0.8"/>
<line x1="669.95" y1="437.20" x2="669.95" y2="419.00" stroke="#2c2c2c" stroke-width="1.5"/>
<line x1="666.35" y1="419.00" x2="673.55" y2="419.00" stroke="#2c2c2c" stroke-width="1.6"/>
<text x="488.60" y="593.40" font-size="14.8" font-weight="bold" text-anchor="middle" fill="#1a1a1a" font-family="'Liberation Sans', sans-serif" textLength="21.9" lengthAdjust="spacingAndGlyphs"  stroke="#1a1a1a" stroke-width="0.35">CB</text>
<text x="533.60" y="593.40" font-size="14.8" font-weight="bold" text-anchor="middle" fill="#1a1a1a" font-family="'Liberation Sans', sans-serif" textLength="18.7" lengthAdjust="spacingAndGlyphs"  stroke="#1a1a1a" stroke-width="0.35">FN</text>
<text x="579.10" y="593.40" font-size="14.8" font-weight="bold" text-anchor="middle" fill="#1a1a1a" font-family="'Liberation Sans', sans-serif" textLength="29.1" lengthAdjust="spacingAndGlyphs"  stroke="#1a1a1a" stroke-width="0.35">FNP</text>
<text x="624.20" y="593.40" font-size="14.8" font-weight="bold" text-anchor="middle" fill="#1a1a1a" font-family="'Liberation Sans', sans-serif" textLength="30.9" lengthAdjust="spacingAndGlyphs"  stroke="#1a1a1a" stroke-width="0.35">FNG</text>
<text x="670.20" y="593.40" font-size="14.8" font-weight="bold" text-anchor="middle" fill="#1a1a1a" font-family="'Liberation Sans', sans-serif" textLength="42.2" lengthAdjust="spacingAndGlyphs"  stroke="#1a1a1a" stroke-width="0.35">FNGP</text>
<polyline points="486.50,440.50 486.50,368.50 488.50,366.50 668.50,366.50 669.50,368.50 669.50,414.50" fill="none" stroke="#2a2a2a" stroke-width="1.0" stroke-linejoin="round"/>
<line x1="486.80" y1="377.50" x2="669.90" y2="377.50" stroke="#2a2a2a" stroke-width="1.0"/>
<polygon points="618.50,377.00 621.70,377.00 620.90,379.50 620.85,387.90 619.35,387.90 619.30,379.50" fill="#2a2a2a"/>
<polyline points="486.50,393.50 575.50,393.50 577.50,394.50 577.50,401.50" fill="none" stroke="#2a2a2a" stroke-width="1.0" stroke-linejoin="round"/>
<line x1="486.80" y1="403.50" x2="669.90" y2="403.50" stroke="#2a2a2a" stroke-width="1.0"/>
<polygon points="527.60,403.00 530.80,403.00 530.00,405.50 529.95,413.70 528.45,413.70 528.40,405.50" fill="#2a2a2a"/>
<path d="M569.58,358.45L569.58,363.75M567.29,359.78L571.88,362.43M571.88,359.78L567.29,362.43" stroke="#151515" stroke-width="1.4" stroke-linecap="round"/>
<path d="M578.65,358.45L578.65,363.75M576.36,359.78L580.94,362.43M580.94,359.78L576.36,362.43" stroke="#151515" stroke-width="1.4" stroke-linecap="round"/>
<path d="M587.72,358.45L587.72,363.75M585.42,359.78L590.01,362.43M590.01,359.78L585.42,362.43" stroke="#151515" stroke-width="1.4" stroke-linecap="round"/>
<path d="M550.38,370.95L550.38,376.25M548.09,372.28L552.68,374.93M552.68,372.28L548.09,374.93" stroke="#151515" stroke-width="1.4" stroke-linecap="round"/>
<path d="M560.52,370.95L560.52,376.25M558.22,372.28L562.81,374.93M562.81,372.28L558.22,374.93" stroke="#151515" stroke-width="1.4" stroke-linecap="round"/>
<path d="M637.78,370.95L637.78,376.25M635.49,372.28L640.08,374.93M640.08,372.28L635.49,374.93" stroke="#151515" stroke-width="1.4" stroke-linecap="round"/>
<path d="M646.80,370.95L646.80,376.25M644.51,372.28L649.09,374.93M649.09,372.28L644.51,374.93" stroke="#151515" stroke-width="1.4" stroke-linecap="round"/>
<path d="M655.82,370.95L655.82,376.25M653.52,372.28L658.11,374.93M658.11,372.28L653.52,374.93" stroke="#151515" stroke-width="1.4" stroke-linecap="round"/>
<path d="M525.18,385.75L525.18,391.05M522.89,387.08L527.48,389.73M527.48,387.08L522.89,389.73" stroke="#151515" stroke-width="1.4" stroke-linecap="round"/>
<path d="M535.02,385.75L535.02,391.05M532.72,387.08L537.31,389.73M537.31,387.08L532.72,389.73" stroke="#151515" stroke-width="1.4" stroke-linecap="round"/>
<path d="M506.78,396.05L506.78,401.35M504.49,397.38L509.08,400.03M509.08,397.38L504.49,400.03" stroke="#151515" stroke-width="1.4" stroke-linecap="round"/>
<path d="M516.62,396.05L516.62,401.35M514.32,397.38L518.91,400.03M518.91,397.38L514.32,400.03" stroke="#151515" stroke-width="1.4" stroke-linecap="round"/>
<path d="M614.08,396.95L614.08,402.25M611.79,398.28L616.38,400.93M616.38,398.28L611.79,400.93" stroke="#151515" stroke-width="1.4" stroke-linecap="round"/>
<path d="M623.15,396.95L623.15,402.25M620.86,398.28L625.44,400.93M625.44,398.28L620.86,400.93" stroke="#151515" stroke-width="1.4" stroke-linecap="round"/>
<path d="M632.22,396.95L632.22,402.25M629.92,398.28L634.51,400.93M634.51,398.28L629.92,400.93" stroke="#151515" stroke-width="1.4" stroke-linecap="round"/>
<text x="8.40" y="649.30" font-size="19.8" font-weight="bold" text-anchor="start" fill="#1a1a1a" font-family="'Liberation Sans', sans-serif" textLength="27.6" lengthAdjust="spacingAndGlyphs"  stroke="#1a1a1a" stroke-width="0.35">(b)</text>
<text transform="translate(13.80,776.60) rotate(-90)" font-size="15.6" font-weight="bold" text-anchor="middle" fill="#1a1a1a" font-family="'Liberation Sans', sans-serif" textLength="231" lengthAdjust="spacingAndGlyphs">Relative gene expression levels</text>
<text transform="translate(33.20,776.35) rotate(-90)" font-size="16" font-weight="bold" text-anchor="middle" fill="#1a1a1a" font-family="'Liberation Sans', sans-serif" textLength="84.1" lengthAdjust="spacingAndGlyphs">(fold to CB)</text>
<line x1="76.40" y1="697.70" x2="76.40" y2="868.90" stroke="#1a1a1a" stroke-width="1.6"/>
<line x1="75.60" y1="864.30" x2="317.40" y2="864.30" stroke="#1a1a1a" stroke-width="1.6"/>
<line x1="71.60" y1="864.30" x2="76.40" y2="864.30" stroke="#1a1a1a" stroke-width="1.4"/>
<text x="62.40" y="868.70" font-size="12.6" font-weight="bold" text-anchor="end" fill="#1a1a1a" font-family="'Liberation Sans', sans-serif"  stroke="#1a1a1a" stroke-width="0.35">0</text>
<line x1="71.60" y1="830.98" x2="76.40" y2="830.98" stroke="#1a1a1a" stroke-width="1.4"/>
<text x="62.40" y="835.38" font-size="12.6" font-weight="bold" text-anchor="end" fill="#1a1a1a" font-family="'Liberation Sans', sans-serif"  stroke="#1a1a1a" stroke-width="0.35">2</text>
<line x1="71.60" y1="797.66" x2="76.40" y2="797.66" stroke="#1a1a1a" stroke-width="1.4"/>
<text x="62.40" y="802.06" font-size="12.6" font-weight="bold" text-anchor="end" fill="#1a1a1a" font-family="'Liberation Sans', sans-serif"  stroke="#1a1a1a" stroke-width="0.35">4</text>
<line x1="71.60" y1="764.34" x2="76.40" y2="764.34" stroke="#1a1a1a" stroke-width="1.4"/>
<text x="62.40" y="768.74" font-size="12.6" font-weight="bold" text-anchor="end" fill="#1a1a1a" font-family="'Liberation Sans', sans-serif"  stroke="#1a1a1a" stroke-width="0.35">6</text>
<line x1="71.60" y1="731.02" x2="76.40" y2="731.02" stroke="#1a1a1a" stroke-width="1.4"/>
<text x="62.40" y="735.42" font-size="12.6" font-weight="bold" text-anchor="end" fill="#1a1a1a" font-family="'Liberation Sans', sans-serif"  stroke="#1a1a1a" stroke-width="0.35">8</text>
<line x1="71.60" y1="697.70" x2="76.40" y2="697.70" stroke="#1a1a1a" stroke-width="1.4"/>
<text x="62.40" y="702.10" font-size="12.6" font-weight="bold" text-anchor="end" fill="#1a1a1a" font-family="'Liberation Sans', sans-serif" textLength="15.4" lengthAdjust="spacingAndGlyphs"  stroke="#1a1a1a" stroke-width="0.35">10</text>
<line x1="136.40" y1="864.30" x2="136.40" y2="868.90" stroke="#1a1a1a" stroke-width="1.4"/>
<line x1="196.60" y1="864.30" x2="196.60" y2="868.90" stroke="#1a1a1a" stroke-width="1.4"/>
<line x1="257.00" y1="864.30" x2="257.00" y2="868.90" stroke="#1a1a1a" stroke-width="1.4"/>
<line x1="317.20" y1="864.30" x2="317.20" y2="868.90" stroke="#1a1a1a" stroke-width="1.4"/>
<rect x="86.40" y="848.20" width="19.70" height="16.10" fill="#3056a0" />
<rect x="86.80" y="848.60" width="18.90" height="15.70" fill="none" stroke="#274683" stroke-width="0.8"/>
<line x1="96.25" y1="849.20" x2="96.25" y2="845.30" stroke="#2c2c2c" stroke-width="1.5"/>
<line x1="92.65" y1="845.30" x2="99.85" y2="845.30" stroke="#2c2c2c" stroke-width="1.6"/>
<rect x="106.10" y="819.40" width="20.30" height="44.90" fill="#548235" />
<rect x="106.50" y="819.80" width="19.50" height="44.50" fill="none" stroke="#446a2b" stroke-width="0.8"/>
<line x1="116.25" y1="820.40" x2="116.25" y2="805.90" stroke="#2c2c2c" stroke-width="1.5"/>
<line x1="112.65" y1="805.90" x2="119.85" y2="805.90" stroke="#2c2c2c" stroke-width="1.6"/>
<rect x="146.50" y="848.20" width="20.30" height="16.10" fill="#3056a0" />
<rect x="146.90" y="848.60" width="19.50" height="15.70" fill="none" stroke="#274683" stroke-width="0.8"/>
<line x1="156.65" y1="849.20" x2="156.65" y2="845.30" stroke="#2c2c2c" stroke-width="1.5"/>
<line x1="153.05" y1="845.30" x2="160.25" y2="845.30" stroke="#2c2c2c" stroke-width="1.6"/>
<rect x="166.80" y="782.10" width="19.80" height="82.20" fill="#548235" />
<rect x="167.20" y="782.50" width="19.00" height="81.80" fill="none" stroke="#446a2b" stroke-width="0.8"/>
<line x1="176.70" y1="783.10" x2="176.70" y2="751.00" stroke="#2c2c2c" stroke-width="1.5"/>
<line x1="173.10" y1="751.00" x2="180.30" y2="751.00" stroke="#2c2c2c" stroke-width="1.6"/>
<rect x="207.70" y="848.20" width="19.70" height="16.10" fill="#3056a0" />
<rect x="208.10" y="848.60" width="18.90" height="15.70" fill="none" stroke="#274683" stroke-width="0.8"/>
<line x1="217.55" y1="849.20" x2="217.55" y2="843.00" stroke="#2c2c2c" stroke-width="1.5"/>
<line x1="213.95" y1="843.00" x2="221.15" y2="843.00" stroke="#2c2c2c" stroke-width="1.6"/>
<rect x="227.40" y="753.90" width="19.40" height="110.40" fill="#548235" />
<rect x="227.80" y="754.30" width="18.60" height="110.00" fill="none" stroke="#446a2b" stroke-width="0.8"/>
<line x1="237.10" y1="754.90" x2="237.10" y2="726.40" stroke="#2c2c2c" stroke-width="1.5"/>
<line x1="233.50" y1="726.40" x2="240.70" y2="726.40" stroke="#2c2c2c" stroke-width="1.6"/>
<rect x="268.00" y="848.20" width="19.40" height="16.10" fill="#3056a0" />
<rect x="268.40" y="848.60" width="18.60" height="15.70" fill="none" stroke="#274683" stroke-width="0.8"/>
<line x1="277.70" y1="849.20" x2="277.70" y2="846.00" stroke="#2c2c2c" stroke-width="1.5"/>
<line x1="274.10" y1="846.00" x2="281.30" y2="846.00" stroke="#2c2c2c" stroke-width="1.6"/>
<rect x="287.40" y="817.20" width="20.00" height="47.10" fill="#548235" />
<rect x="287.80" y="817.60" width="19.20" height="46.70" fill="none" stroke="#446a2b" stroke-width="0.8"/>
<line x1="297.40" y1="818.20" x2="297.40" y2="804.30" stroke="#2c2c2c" stroke-width="1.5"/>
<line x1="293.80" y1="804.30" x2="301.00" y2="804.30" stroke="#2c2c2c" stroke-width="1.6"/>
<text x="106.60" y="888.60" font-size="13.6" font-weight="bold" text-anchor="middle" fill="#1a1a1a" font-family="'Liberation Sans', sans-serif" textLength="39.5" lengthAdjust="spacingAndGlyphs"  stroke="#1a1a1a" stroke-width="0.35">APEX1</text>
<text x="166.90" y="888.60" font-size="13.6" font-weight="bold" text-anchor="middle" fill="#1a1a1a" font-family="'Liberation Sans', sans-serif" textLength="39.8" lengthAdjust="spacingAndGlyphs"  stroke="#1a1a1a" stroke-width="0.35">SENS1</text>
<text x="226.50" y="888.60" font-size="13.6" font-weight="bold" text-anchor="middle" fill="#1a1a1a" font-family="'Liberation Sans', sans-serif" textLength="34.5" lengthAdjust="spacingAndGlyphs"  stroke="#1a1a1a" stroke-width="0.35">SOD2</text>
<text x="287.50" y="888.60" font-size="13.6" font-weight="bold" text-anchor="middle" fill="#1a1a1a" font-family="'Liberation Sans', sans-serif" textLength="25.1" lengthAdjust="spacingAndGlyphs"  stroke="#1a1a1a" stroke-width="0.35">TXN</text>
<line x1="95.00" y1="791.20" x2="120.80" y2="791.20" stroke="#333" stroke-width="1.4"/>
<path d="M100.78,782.05L100.78,787.35M98.49,783.37L103.08,786.02M103.08,783.37L98.49,786.02" stroke="#151515" stroke-width="1.4" stroke-linecap="round"/>
<path d="M109.65,782.05L109.65,787.35M107.36,783.37L111.94,786.02M111.94,783.37L107.36,786.02" stroke="#151515" stroke-width="1.4" stroke-linecap="round"/>
<path d="M118.52,782.05L118.52,787.35M116.22,783.37L120.81,786.02M120.81,783.37L116.22,786.02" stroke="#151515" stroke-width="1.4" stroke-linecap="round"/>
<line x1="156.90" y1="743.10" x2="182.50" y2="743.10" stroke="#333" stroke-width="1.4"/>
<path d="M162.68,733.75L162.68,739.05M160.39,735.07L164.98,737.73M164.98,735.07L160.39,737.73" stroke="#151515" stroke-width="1.4" stroke-linecap="round"/>
<path d="M171.45,733.75L171.45,739.05M169.16,735.07L173.74,737.73M173.74,735.07L169.16,737.73" stroke="#151515" stroke-width="1.4" stroke-linecap="round"/>
<path d="M180.22,733.75L180.22,739.05M177.92,735.07L182.51,737.73M182.51,735.07L177.92,737.73" stroke="#151515" stroke-width="1.4" stroke-linecap="round"/>
<line x1="216.40" y1="723.40" x2="242.90" y2="723.40" stroke="#333" stroke-width="1.4"/>
<path d="M222.18,714.55L222.18,719.85M219.89,715.87L224.48,718.52M224.48,715.87L219.89,718.52" stroke="#151515" stroke-width="1.4" stroke-linecap="round"/>
<path d="M231.40,714.55L231.40,719.85M229.11,715.87L233.69,718.52M233.69,715.87L229.11,718.52" stroke="#151515" stroke-width="1.4" stroke-linecap="round"/>
<path d="M240.62,714.55L240.62,719.85M238.32,715.87L242.91,718.52M242.91,715.87L238.32,718.52" stroke="#151515" stroke-width="1.4" stroke-linecap="round"/>
<line x1="277.30" y1="800.10" x2="302.40" y2="800.10" stroke="#333" stroke-width="1.4"/>
<path d="M283.08,791.55L283.08,796.85M280.79,792.87L285.38,795.52M285.38,792.87L280.79,795.52" stroke="#151515" stroke-width="1.4" stroke-linecap="round"/>
<path d="M291.60,791.55L291.60,796.85M289.31,792.87L293.89,795.52M293.89,792.87L289.31,795.52" stroke="#151515" stroke-width="1.4" stroke-linecap="round"/>
<path d="M300.12,791.55L300.12,796.85M297.82,792.87L302.41,795.52M302.41,792.87L297.82,795.52" stroke="#151515" stroke-width="1.4" stroke-linecap="round"/>
<rect x="136.9" y="907.5" width="102" height="28" fill="none" stroke="#222" stroke-width="1.4"/>
<rect x="147.30" y="918.30" width="8.60" height="8.40" fill="#3056a0" />
<text x="167.60" y="926.60" font-size="14.4" font-weight="bold" text-anchor="middle" fill="#1a1a1a" font-family="'Liberation Sans', sans-serif" textLength="16.2" lengthAdjust="spacingAndGlyphs"  stroke="#1a1a1a" stroke-width="0.35">CB</text>
<rect x="187.10" y="918.30" width="8.60" height="8.40" fill="#548235" />
<text x="216.80" y="926.60" font-size="14.4" font-weight="bold" text-anchor="middle" fill="#1a1a1a" font-family="'Liberation Sans', sans-serif" textLength="34.7" lengthAdjust="spacingAndGlyphs"  stroke="#1a1a1a" stroke-width="0.35">FNGP</text>
<text x="395.60" y="649.60" font-size="20.2" font-weight="bold" text-anchor="start" fill="#1a1a1a" font-family="'Liberation Sans', sans-serif" textLength="25.6" lengthAdjust="spacingAndGlyphs"  stroke="#1a1a1a" stroke-width="0.35">(c)</text>
<rect x="431.80" y="641.90" width="134.60" height="17.30" fill="#ead7ea" />
<rect x="571.70" y="641.90" width="134.20" height="17.30" fill="#ead7ea" />
<text x="499.00" y="655.00" font-size="11.5" font-weight="bold" text-anchor="middle" fill="#1a1a1a" font-family="'Liberation Serif', serif" textLength="46.2" lengthAdjust="spacingAndGlyphs" >Cell bind</text>
<text x="639.50" y="655.00" font-size="11.5" font-weight="bold" text-anchor="middle" fill="#1a1a1a" font-family="'Liberation Serif', serif" textLength="62.2" lengthAdjust="spacingAndGlyphs" >FGP coating</text>
<rect x="406.40" y="664.20" width="21.00" height="270.50" fill="#ead7ea" />
<text transform="translate(419.8,801.2) rotate(-90)" font-size="10.6" font-weight="bold" text-anchor="middle" font-family="'Liberation Serif', serif" textLength="104" lengthAdjust="spacingAndGlyphs"><tspan fill="#3aa58a">CD146 </tspan><tspan fill="#c0282a">Phalloidin </tspan><tspan fill="#3a6fc0">DAPI</tspan></text>
<rect x="432.20" y="664.00" width="134.10" height="134.00" fill="#050303" />
<rect x="571.80" y="664.00" width="134.40" height="134.00" fill="#050303" />
<rect x="432.40" y="802.80" width="133.90" height="133.20" fill="#050303" />
<rect x="571.30" y="802.80" width="134.30" height="133.20" fill="#050303" />
<defs>
<clipPath id="cpTL"><rect x="432.2" y="664.0" width="134.10" height="134.00"/></clipPath>
<clipPath id="cpTR"><rect x="571.8" y="664.0" width="134.40" height="134.00"/></clipPath>
<clipPath id="cpBL"><rect x="432.4" y="802.8" width="133.90" height="133.20"/></clipPath>
<clipPath id="cpBR"><rect x="571.3" y="802.8" width="134.30" height="133.20"/></clipPath>
<filter id="bl4" x="-10%" y="-10%" width="120%" height="120%"><feGaussianBlur stdDeviation="4.5"/></filter>
<filter id="bl3" x="-10%" y="-10%" width="120%" height="120%"><feGaussianBlur stdDeviation="3"/></filter>
<filter id="nz1" x="0" y="0" width="100%" height="100%"><feTurbulence type="fractalNoise" baseFrequency="0.18" numOctaves="3" seed="7"/><feColorMatrix type="matrix" values="0 0 0 0 0  0 0 0 0 0  0 0 0 0 0  2.4 0 0 0 -0.9"/></filter>
<filter id="nz2" x="0" y="0" width="100%" height="100%"><feTurbulence type="fractalNoise" baseFrequency="0.3" numOctaves="2" seed="3"/><feColorMatrix type="matrix" values="0 0 0 0 0.95  0 0 0 0 0.55  0 0 0 0 0.3  0 2.2 0 0 -1.1"/></filter>
<filter id="bl1"><feGaussianBlur stdDeviation="0.9"/></filter>
<filter id="bl05"><feGaussianBlur stdDeviation="0.5"/></filter>
</defs>
<g clip-path="url(#cpBR)"><g filter="url(#bl3)">
<rect x="563.3" y="794.8" width="25.4" height="25.3" fill="#6a200e"/>
<rect x="588.1" y="794.8" width="17.4" height="25.3" fill="#2e0e08"/>
<rect x="604.9" y="794.8" width="17.4" height="25.3" fill="#6a200e"/>
<rect x="621.7" y="794.8" width="17.4" height="25.3" fill="#a83818"/>
<rect x="638.5" y="794.8" width="17.4" height="25.3" fill="#a83818"/>
<rect x="655.2" y="794.8" width="17.4" height="25.3" fill="#6a200e"/>
<rect x="672.0" y="794.8" width="17.4" height="25.3" fill="#a83818"/>
<rect x="688.8" y="794.8" width="25.4" height="25.3" fill="#6a200e"/>
<rect x="563.3" y="819.4" width="25.4" height="17.3" fill="#2e0e08"/>
<rect x="588.1" y="819.4" width="17.4" height="17.3" fill="#a83818"/>
<rect x="604.9" y="819.4" width="17.4" height="17.3" fill="#a83818"/>
<rect x="621.7" y="819.4" width="17.4" height="17.3" fill="#6a200e"/>
<rect x="638.5" y="819.4" width="17.4" height="17.3" fill="#a83818"/>
<rect x="655.2" y="819.4" width="17.4" height="17.3" fill="#6a200e"/>
<rect x="672.0" y="819.4" width="17.4" height="17.3" fill="#6a200e"/>
<rect x="688.8" y="819.4" width="25.4" height="17.3" fill="#2e0e08"/>
<rect x="563.3" y="836.1" width="25.4" height="17.3" fill="#050303"/>
<rect x="588.1" y="836.1" width="17.4" height="17.3" fill="#2e0e08"/>
<rect x="604.9" y="836.1" width="17.4" height="17.3" fill="#6a200e"/>
<rect x="621.7" y="836.1" width="17.4" height="17.3" fill="#a83818"/>
<rect x="638.5" y="836.1" width="17.4" height="17.3" fill="#cc4a20"/>
<rect x="655.2" y="836.1" width="17.4" height="17.3" fill="#2e0e08"/>
<rect x="672.0" y="836.1" width="17.4" height="17.3" fill="#6a200e"/>
<rect x="688.8" y="836.1" width="25.4" height="17.3" fill="#050303"/>
<rect x="563.3" y="852.8" width="25.4" height="17.3" fill="#6a200e"/>
<rect x="588.1" y="852.8" width="17.4" height="17.3" fill="#6a200e"/>
<rect x="604.9" y="852.8" width="17.4" height="17.3" fill="#a83818"/>
<rect x="621.7" y="852.8" width="17.4" height="17.3" fill="#a83818"/>
<rect x="638.5" y="852.8" width="17.4" height="17.3" fill="#cc4a20"/>
<rect x="655.2" y="852.8" width="17.4" height="17.3" fill="#6a200e"/>
<rect x="672.0" y="852.8" width="17.4" height="17.3" fill="#a83818"/>
<rect x="688.8" y="852.8" width="25.4" height="17.3" fill="#050303"/>
<rect x="563.3" y="869.4" width="25.4" height="17.3" fill="#2e0e08"/>
<rect x="588.1" y="869.4" width="17.4" height="17.3" fill="#a83818"/>
<rect x="604.9" y="869.4" width="17.4" height="17.3" fill="#6a200e"/>
<rect x="621.7" y="869.4" width="17.4" height="17.3" fill="#050303"/>
<rect x="638.5" y="869.4" width="17.4" height="17.3" fill="#6a200e"/>
<rect x="655.2" y="869.4" width="17.4" height="17.3" fill="#6a200e"/>
<rect x="672.0" y="869.4" width="17.4" height="17.3" fill="#2e0e08"/>
<rect x="688.8" y="869.4" width="25.4" height="17.3" fill="#2e0e08"/>
<rect x="563.3" y="886.0" width="25.4" height="17.3" fill="#2e0e08"/>
<rect x="588.1" y="886.0" width="17.4" height="17.3" fill="#a83818"/>
<rect x="604.9" y="886.0" width="17.4" height="17.3" fill="#a83818"/>
<rect x="621.7" y="886.0" width="17.4" height="17.3" fill="#6a200e"/>
<rect x="638.5" y="886.0" width="17.4" height="17.3" fill="#6a200e"/>
<rect x="655.2" y="886.0" width="17.4" height="17.3" fill="#cc4a20"/>
<rect x="672.0" y="886.0" width="17.4" height="17.3" fill="#cc4a20"/>
<rect x="688.8" y="886.0" width="25.4" height="17.3" fill="#6a200e"/>
<rect x="563.3" y="902.7" width="25.4" height="17.3" fill="#050303"/>
<rect x="588.1" y="902.7" width="17.4" height="17.3" fill="#6a200e"/>
<rect x="604.9" y="902.7" width="17.4" height="17.3" fill="#2e0e08"/>
<rect x="621.7" y="902.7" width="17.4" height="17.3" fill="#a83818"/>
<rect x="638.5" y="902.7" width="17.4" height="17.3" fill="#a83818"/>
<rect x="655.2" y="902.7" width="17.4" height="17.3" fill="#a83818"/>
<rect x="672.0" y="902.7" width="17.4" height="17.3" fill="#6a200e"/>
<rect x="688.8" y="902.7" width="25.4" height="17.3" fill="#2e0e08"/>
<rect x="563.3" y="919.4" width="25.4" height="25.3" fill="#050303"/>
<rect x="588.1" y="919.4" width="17.4" height="25.3" fill="#2e0e08"/>
<rect x="604.9" y="919.4" width="17.4" height="25.3" fill="#a83818"/>
<rect x="621.7" y="919.4" width="17.4" height="25.3" fill="#a83818"/>
<rect x="638.5" y="919.4" width="17.4" height="25.3" fill="#a83818"/>
<rect x="655.2" y="919.4" width="17.4" height="25.3" fill="#a83818"/>
<rect x="672.0" y="919.4" width="17.4" height="25.3" fill="#6a200e"/>
<rect x="688.8" y="919.4" width="25.4" height="25.3" fill="#2e0e08"/>
</g>
<rect x="571.3" y="802.8" width="134.3" height="133.2" filter="url(#nz1)" opacity="0.8"/>
<rect x="571.3" y="802.8" width="134.3" height="133.2" filter="url(#nz2)" opacity="0.25"/>
<path d="M635.0,890.4 Q632.7,887.8 630.3,885.2 Q629.1,883.1 628.7,880.7" fill="none" stroke="#d06030" stroke-width="0.83" stroke-linecap="round" stroke-linejoin="round" opacity="0.55"/>
<path d="M660.1,822.2 Q658.6,823.3 657.0,824.4 Q656.0,826.7 654.3,828.6" fill="none" stroke="#d06030" stroke-width="1.28" stroke-linecap="round" stroke-linejoin="round" opacity="0.55"/>
<path d="M573.8,810.9 Q575.6,807.9 577.2,804.8 Q578.2,802.2 580.2,800.2 Q582.7,798.1 585.3,796.1 Q588.5,796.8 591.6,797.6" fill="none" stroke="#d06030" stroke-width="1.11" stroke-linecap="round" stroke-linejoin="round" opacity="0.55"/>
<path d="M625.1,858.6 Q623.3,856.7 621.7,854.7 Q619.9,854.3 618.2,853.6 Q614.8,853.5 611.6,852.4" fill="none" stroke="#701a0c" stroke-width="0.99" stroke-linecap="round" stroke-linejoin="round" opacity="0.55"/>
<path d="M586.6,834.1 Q584.3,836.1 582.7,838.7 Q581.6,841.7 581.9,844.9 Q584.2,846.6 587.0,847.3 Q589.6,846.4 592.3,846.2" fill="none" stroke="#d06030" stroke-width="0.82" stroke-linecap="round" stroke-linejoin="round" opacity="0.55"/>
<path d="M664.8,807.7 Q663.7,810.5 662.7,813.2 Q662.4,815.4 662.2,817.6 Q660.9,820.5 660.2,823.6" fill="none" stroke="#c07040" stroke-width="1.59" stroke-linecap="round" stroke-linejoin="round" opacity="0.55"/>
<path d="M695.4,851.3 Q697.5,853.0 698.8,855.4 Q698.0,858.4 698.1,861.5 Q696.8,863.7 696.1,866.1 Q697.0,868.2 697.8,870.2" fill="none" stroke="#701a0c" stroke-width="0.75" stroke-linecap="round" stroke-linejoin="round" opacity="0.55"/>
<path d="M689.7,891.9 Q690.5,894.3 691.3,896.7 Q691.5,898.7 690.9,900.7" fill="none" stroke="#a83818" stroke-width="1.49" stroke-linecap="round" stroke-linejoin="round" opacity="0.55"/>
<path d="M631.6,885.0 Q632.7,887.2 633.5,889.6 Q633.4,891.5 633.6,893.5 Q635.2,895.9 636.3,898.5" fill="none" stroke="#701a0c" stroke-width="0.73" stroke-linecap="round" stroke-linejoin="round" opacity="0.55"/>
<path d="M627.7,834.9 Q625.1,835.7 622.4,835.5 Q620.5,833.1 618.5,830.9" fill="none" stroke="#c07040" stroke-width="1.19" stroke-linecap="round" stroke-linejoin="round" opacity="0.55"/>
<path d="M677.3,880.1 Q675.6,881.6 674.4,883.5 Q673.0,884.6 672.1,886.2 Q672.7,887.8 673.4,889.3" fill="none" stroke="#c07040" stroke-width="0.80" stroke-linecap="round" stroke-linejoin="round" opacity="0.55"/>
<path d="M677.7,897.4 Q676.6,900.1 675.4,902.7 Q674.3,904.1 673.2,905.4 Q671.2,906.6 669.6,908.1" fill="none" stroke="#701a0c" stroke-width="1.01" stroke-linecap="round" stroke-linejoin="round" opacity="0.55"/>
<path d="M582.4,847.1 Q580.4,844.9 579.0,842.4 Q578.3,839.1 577.2,835.9 Q574.9,835.0 572.6,834.2 Q569.8,834.9 567.2,835.9" fill="none" stroke="#701a0c" stroke-width="0.84" stroke-linecap="round" stroke-linejoin="round" opacity="0.55"/>
<path d="M584.3,832.7 Q585.9,831.6 587.3,830.4 Q588.6,827.3 589.8,824.2 Q591.1,822.8 592.2,821.4" fill="none" stroke="#a83818" stroke-width="1.21" stroke-linecap="round" stroke-linejoin="round" opacity="0.55"/>
<path d="M633.1,907.4 Q636.0,907.8 638.6,909.0 Q640.8,910.0 643.2,910.1" fill="none" stroke="#e07838" stroke-width="0.71" stroke-linecap="round" stroke-linejoin="round" opacity="0.55"/>
<path d="M662.7,849.5 Q664.0,846.4 665.5,843.5 Q665.3,841.1 665.8,838.7 Q664.6,836.4 663.3,834.3" fill="none" stroke="#c07040" stroke-width="0.96" stroke-linecap="round" stroke-linejoin="round" opacity="0.55"/>
<path d="M697.0,882.6 Q696.1,884.1 695.0,885.4 Q692.4,886.2 689.7,886.2 Q687.0,886.7 684.5,887.7 Q682.5,888.9 680.8,890.3" fill="none" stroke="#a83818" stroke-width="1.00" stroke-linecap="round" stroke-linejoin="round" opacity="0.55"/>
<path d="M594.1,830.1 Q594.0,831.7 593.4,833.2 Q590.7,834.8 588.2,836.7 Q586.1,837.2 584.4,838.3" fill="none" stroke="#a83818" stroke-width="1.47" stroke-linecap="round" stroke-linejoin="round" opacity="0.55"/>
<path d="M671.9,917.3 Q670.3,918.2 669.1,919.6 Q667.2,920.5 665.6,921.9" fill="none" stroke="#701a0c" stroke-width="0.78" stroke-linecap="round" stroke-linejoin="round" opacity="0.55"/>
<path d="M644.6,805.7 Q647.2,805.1 649.6,804.4 Q652.4,803.8 655.2,803.9 Q657.9,804.1 660.7,804.2" fill="none" stroke="#c07040" stroke-width="1.23" stroke-linecap="round" stroke-linejoin="round" opacity="0.55"/>
<path d="M685.8,921.7 Q687.2,920.6 688.9,919.8 Q690.2,918.7 691.8,918.0 Q694.3,918.4 696.5,919.8" fill="none" stroke="#d06030" stroke-width="0.97" stroke-linecap="round" stroke-linejoin="round" opacity="0.55"/>
<path d="M684.0,820.0 Q687.0,820.8 689.6,822.4 Q690.0,824.0 690.1,825.5" fill="none" stroke="#d06030" stroke-width="1.16" stroke-linecap="round" stroke-linejoin="round" opacity="0.55"/>
<path d="M651.0,881.0 Q650.4,878.0 649.6,875.1 Q649.2,873.0 648.4,871.1 Q645.9,870.0 644.0,868.0 Q644.4,865.0 645.9,862.4" fill="none" stroke="#701a0c" stroke-width="0.96" stroke-linecap="round" stroke-linejoin="round" opacity="0.55"/>
<path d="M587.7,867.5 Q589.7,867.4 591.7,867.4 Q594.6,868.5 597.2,870.4 Q599.3,871.1 601.1,872.5" fill="none" stroke="#c07040" stroke-width="1.59" stroke-linecap="round" stroke-linejoin="round" opacity="0.55"/>
<path d="M617.3,921.3 Q615.7,920.2 614.0,919.2 Q612.6,918.1 611.3,916.9 Q611.3,913.9 610.6,911.0 Q609.9,909.4 609.6,907.8" fill="none" stroke="#a83818" stroke-width="1.23" stroke-linecap="round" stroke-linejoin="round" opacity="0.55"/>
<path d="M620.0,823.6 Q618.2,822.5 616.2,821.6 Q615.7,819.6 615.1,817.5 Q614.5,815.7 613.8,814.0" fill="none" stroke="#701a0c" stroke-width="0.80" stroke-linecap="round" stroke-linejoin="round" opacity="0.55"/>
<path d="M654.6,884.9 Q655.3,882.8 656.3,880.9 Q656.9,878.4 657.9,876.1" fill="none" stroke="#e07838" stroke-width="0.67" stroke-linecap="round" stroke-linejoin="round" opacity="0.55"/>
<path d="M584.9,836.1 Q586.1,834.7 587.1,833.2 Q587.9,830.1 587.9,826.9" fill="none" stroke="#d06030" stroke-width="0.80" stroke-linecap="round" stroke-linejoin="round" opacity="0.55"/>
<path d="M656.9,881.4 Q653.6,882.1 650.4,883.1 Q648.3,883.9 646.1,884.2 Q644.2,883.7 642.3,883.1" fill="none" stroke="#e07838" stroke-width="1.33" stroke-linecap="round" stroke-linejoin="round" opacity="0.55"/>
<path d="M659.8,898.1 Q660.6,896.1 660.4,894.0 Q662.3,891.6 663.9,888.9 Q667.1,888.3 670.0,886.7" fill="none" stroke="#c07040" stroke-width="1.44" stroke-linecap="round" stroke-linejoin="round" opacity="0.55"/>
<path d="M648.8,826.7 Q647.8,828.9 646.7,831.0 Q646.7,832.9 646.2,834.8" fill="none" stroke="#e07838" stroke-width="1.15" stroke-linecap="round" stroke-linejoin="round" opacity="0.55"/>
<path d="M637.1,882.9 Q639.4,883.3 641.6,883.8 Q644.9,883.0 648.3,883.3" fill="none" stroke="#a83818" stroke-width="1.39" stroke-linecap="round" stroke-linejoin="round" opacity="0.55"/>
<path d="M693.6,904.7 Q691.0,905.0 688.6,904.4 Q686.1,905.5 684.1,907.4" fill="none" stroke="#d06030" stroke-width="1.44" stroke-linecap="round" stroke-linejoin="round" opacity="0.55"/>
<path d="M629.8,805.7 Q628.4,804.8 627.1,803.8 Q626.6,801.4 626.7,799.0 Q629.0,797.1 631.2,795.0" fill="none" stroke="#e07838" stroke-width="0.61" stroke-linecap="round" stroke-linejoin="round" opacity="0.55"/>
<path d="M621.3,922.7 Q624.0,923.3 626.2,924.9 Q628.5,925.3 630.6,926.2" fill="none" stroke="#e07838" stroke-width="1.35" stroke-linecap="round" stroke-linejoin="round" opacity="0.55"/>
<path d="M582.1,893.3 Q584.0,894.5 586.1,895.3 Q587.7,894.6 589.0,893.4 Q590.7,893.5 592.5,893.7" fill="none" stroke="#e07838" stroke-width="0.73" stroke-linecap="round" stroke-linejoin="round" opacity="0.55"/>
<path d="M642.8,826.4 Q644.7,825.9 646.6,825.3 Q648.7,825.3 650.7,825.3 Q653.5,826.5 655.8,828.4" fill="none" stroke="#701a0c" stroke-width="1.35" stroke-linecap="round" stroke-linejoin="round" opacity="0.55"/>
<path d="M629.4,904.5 Q628.3,906.5 627.6,908.6 Q626.5,910.5 625.7,912.6" fill="none" stroke="#701a0c" stroke-width="0.64" stroke-linecap="round" stroke-linejoin="round" opacity="0.55"/>
<path d="M643.7,873.4 Q646.6,872.0 649.3,870.1 Q650.8,870.4 652.5,870.4" fill="none" stroke="#a83818" stroke-width="1.53" stroke-linecap="round" stroke-linejoin="round" opacity="0.55"/>
<path d="M690.1,814.4 Q691.6,812.7 693.6,811.4 Q697.1,810.6 700.5,810.7 Q703.9,810.4 707.1,809.5 Q708.7,806.5 711.3,804.2" fill="none" stroke="#c07040" stroke-width="1.26" stroke-linecap="round" stroke-linejoin="round" opacity="0.55"/>
<path d="M692.4,917.4 Q691.2,915.2 690.6,912.8 Q689.2,911.5 688.3,909.8" fill="none" stroke="#c07040" stroke-width="1.13" stroke-linecap="round" stroke-linejoin="round" opacity="0.55"/>
<path d="M666.2,934.0 Q666.0,931.1 665.9,928.3 Q667.1,925.0 667.2,921.5 Q667.7,919.7 667.9,917.8 Q666.3,915.9 665.5,913.6" fill="none" stroke="#d06030" stroke-width="1.05" stroke-linecap="round" stroke-linejoin="round" opacity="0.55"/>
<path d="M629.6,855.0 Q629.7,857.8 630.7,860.4 Q631.2,862.1 632.0,863.8 Q632.5,865.6 633.4,867.2 Q633.7,869.6 633.1,872.0" fill="none" stroke="#d06030" stroke-width="0.76" stroke-linecap="round" stroke-linejoin="round" opacity="0.55"/>
<path d="M686.5,864.1 Q688.3,864.2 689.8,865.1 Q692.8,866.7 696.0,867.2 Q698.6,866.6 700.9,865.5 Q702.9,865.8 704.9,865.4" fill="none" stroke="#701a0c" stroke-width="0.76" stroke-linecap="round" stroke-linejoin="round" opacity="0.55"/>
<path d="M694.3,875.4 Q692.8,874.9 691.5,873.9 Q689.6,874.0 687.7,874.2" fill="none" stroke="#a83818" stroke-width="1.46" stroke-linecap="round" stroke-linejoin="round" opacity="0.55"/>
<path d="M661.6,892.4 Q663.1,893.3 664.8,893.9 Q667.1,893.5 669.4,894.0" fill="none" stroke="#e07838" stroke-width="1.44" stroke-linecap="round" stroke-linejoin="round" opacity="0.55"/>
<path d="M680.9,870.8 Q683.3,868.5 684.5,865.4 Q684.7,862.0 683.9,858.7" fill="none" stroke="#701a0c" stroke-width="0.68" stroke-linecap="round" stroke-linejoin="round" opacity="0.55"/>
<path d="M673.3,852.2 Q674.3,854.9 676.0,857.1 Q677.3,859.8 677.7,862.8 Q678.5,866.1 679.7,869.4" fill="none" stroke="#701a0c" stroke-width="1.55" stroke-linecap="round" stroke-linejoin="round" opacity="0.55"/>
<path d="M705.4,816.9 Q706.0,820.2 705.7,823.6 Q705.6,825.8 706.2,827.9 Q707.1,829.5 708.0,831.0 Q709.3,833.3 709.8,835.8" fill="none" stroke="#c07040" stroke-width="1.41" stroke-linecap="round" stroke-linejoin="round" opacity="0.55"/>
<path d="M664.2,815.1 Q665.8,814.2 667.7,814.1 Q669.7,815.4 671.7,816.7" fill="none" stroke="#a83818" stroke-width="1.56" stroke-linecap="round" stroke-linejoin="round" opacity="0.55"/>
<path d="M577.6,919.2 Q576.1,921.8 573.7,923.5 Q570.6,923.1 567.5,922.9 Q565.8,924.3 564.3,925.8" fill="none" stroke="#701a0c" stroke-width="0.92" stroke-linecap="round" stroke-linejoin="round" opacity="0.55"/>
<path d="M619.0,844.1 Q618.5,846.0 618.4,847.9 Q618.7,849.8 618.5,851.7" fill="none" stroke="#e07838" stroke-width="1.58" stroke-linecap="round" stroke-linejoin="round" opacity="0.55"/>
<path d="M680.6,901.2 Q683.1,902.9 685.4,905.1 Q686.0,906.5 686.9,907.8" fill="none" stroke="#701a0c" stroke-width="1.46" stroke-linecap="round" stroke-linejoin="round" opacity="0.55"/>
<path d="M599.6,931.7 Q599.0,928.4 598.5,925.1 Q599.4,923.4 600.5,921.9" fill="none" stroke="#701a0c" stroke-width="1.32" stroke-linecap="round" stroke-linejoin="round" opacity="0.55"/>
<path d="M628.7,827.6 Q629.2,830.9 631.1,833.6 Q633.6,834.1 636.1,834.0 Q637.5,833.4 638.8,832.6" fill="none" stroke="#c07040" stroke-width="1.15" stroke-linecap="round" stroke-linejoin="round" opacity="0.55"/>
<path d="M687.3,846.5 Q687.1,849.4 685.7,851.8 Q686.5,855.0 686.1,858.3 Q684.5,860.4 682.6,862.3" fill="none" stroke="#c07040" stroke-width="1.08" stroke-linecap="round" stroke-linejoin="round" opacity="0.55"/>
<path d="M649.0,875.7 Q648.3,877.1 647.8,878.5 Q646.0,879.1 644.2,878.9 Q642.6,877.6 641.0,876.2 Q640.4,874.4 640.4,872.5" fill="none" stroke="#d06030" stroke-width="1.43" stroke-linecap="round" stroke-linejoin="round" opacity="0.55"/>
<path d="M594.2,877.3 Q597.7,877.1 601.1,877.4 Q602.8,878.2 604.1,879.4 Q604.4,882.7 604.6,886.0" fill="none" stroke="#a83818" stroke-width="0.92" stroke-linecap="round" stroke-linejoin="round" opacity="0.55"/>
<path d="M695.5,933.9 Q698.3,932.0 701.5,930.9 Q703.7,928.9 705.9,927.0 Q707.8,925.1 709.7,923.0 Q712.2,921.5 713.8,919.1" fill="none" stroke="#e07838" stroke-width="1.24" stroke-linecap="round" stroke-linejoin="round" opacity="0.55"/>
<path d="M687.7,874.2 Q685.8,872.5 684.6,870.2 Q681.6,869.4 678.4,868.7" fill="none" stroke="#d06030" stroke-width="1.04" stroke-linecap="round" stroke-linejoin="round" opacity="0.55"/>
<path d="M653.6,915.3 Q654.5,914.0 655.9,913.1 Q656.6,910.3 657.7,907.7" fill="none" stroke="#e07838" stroke-width="0.88" stroke-linecap="round" stroke-linejoin="round" opacity="0.55"/>
<path d="M596.5,855.0 Q594.7,855.7 593.0,856.4 Q590.2,857.8 587.2,858.2" fill="none" stroke="#d06030" stroke-width="1.36" stroke-linecap="round" stroke-linejoin="round" opacity="0.55"/>
<path d="M643.9,815.0 Q642.2,812.5 640.3,810.1 Q638.6,808.0 637.0,805.9 Q635.9,803.8 635.3,801.5" fill="none" stroke="#c07040" stroke-width="0.74" stroke-linecap="round" stroke-linejoin="round" opacity="0.55"/>
<path d="M631.4,893.3 Q630.4,891.6 629.4,889.9 Q628.4,886.9 626.3,884.5 Q626.8,881.4 627.3,878.2" fill="none" stroke="#701a0c" stroke-width="1.25" stroke-linecap="round" stroke-linejoin="round" opacity="0.55"/>
<path d="M602.3,808.6 Q600.1,807.0 597.9,805.4 Q597.0,804.0 596.3,802.4 Q594.1,800.9 592.1,799.1 Q591.5,796.4 590.2,794.1" fill="none" stroke="#701a0c" stroke-width="1.42" stroke-linecap="round" stroke-linejoin="round" opacity="0.55"/>
<path d="M704.9,881.9 Q706.4,883.6 707.4,885.5 Q707.0,887.4 705.8,889.0" fill="none" stroke="#701a0c" stroke-width="1.17" stroke-linecap="round" stroke-linejoin="round" opacity="0.55"/>
<path d="M587.0,842.3 Q587.4,845.1 586.8,847.8 Q585.4,848.5 583.8,849.0 Q582.9,850.6 582.6,852.5" fill="none" stroke="#c07040" stroke-width="1.46" stroke-linecap="round" stroke-linejoin="round" opacity="0.55"/>
<path d="M587.8,916.3 Q588.2,917.9 588.8,919.5 Q589.2,921.2 590.0,922.8 Q589.3,924.6 588.0,926.0 Q586.3,928.2 585.2,930.9" fill="none" stroke="#a83818" stroke-width="1.14" stroke-linecap="round" stroke-linejoin="round" opacity="0.55"/>
<path d="M606.9,841.4 Q608.2,839.8 610.0,838.8 Q612.5,839.2 615.0,839.6 Q617.6,838.7 620.0,837.4" fill="none" stroke="#e07838" stroke-width="0.61" stroke-linecap="round" stroke-linejoin="round" opacity="0.55"/>
<path d="M639.1,886.4 Q639.0,888.3 638.9,890.1 Q638.2,892.9 636.4,895.0 Q636.4,897.6 637.3,900.1" fill="none" stroke="#c07040" stroke-width="1.10" stroke-linecap="round" stroke-linejoin="round" opacity="0.55"/>
<path d="M626.9,879.5 Q624.8,881.4 622.4,882.8 Q620.0,885.0 618.9,888.1 Q616.5,889.2 614.3,890.7" fill="none" stroke="#e07838" stroke-width="0.63" stroke-linecap="round" stroke-linejoin="round" opacity="0.55"/>
<path d="M640.2,820.2 Q640.0,818.4 640.1,816.6 Q641.6,813.9 643.0,811.2 Q643.7,809.6 644.0,807.8" fill="none" stroke="#e07838" stroke-width="1.19" stroke-linecap="round" stroke-linejoin="round" opacity="0.55"/>
<path d="M626.0,814.4 Q624.5,817.2 622.5,819.7 Q620.7,822.0 619.5,824.8 Q617.9,826.6 615.7,827.7 Q613.5,829.6 611.3,831.5" fill="none" stroke="#701a0c" stroke-width="1.19" stroke-linecap="round" stroke-linejoin="round" opacity="0.55"/>
<path d="M646.6,824.1 Q647.5,822.8 648.5,821.6 Q650.3,819.0 652.4,816.4 Q653.8,813.6 656.2,811.5" fill="none" stroke="#c07040" stroke-width="1.33" stroke-linecap="round" stroke-linejoin="round" opacity="0.55"/>
<path d="M611.6,926.3 Q614.2,924.9 616.5,923.0 Q619.0,922.0 621.4,921.0 Q624.2,922.3 626.6,924.0 Q629.1,925.2 631.0,927.1" fill="none" stroke="#d06030" stroke-width="1.31" stroke-linecap="round" stroke-linejoin="round" opacity="0.55"/>
<path d="M572.4,814.7 Q570.1,815.6 567.6,815.9 Q566.2,817.9 564.5,819.8 Q563.9,822.3 563.8,824.9 Q563.1,827.4 562.8,830.0" fill="none" stroke="#c07040" stroke-width="1.39" stroke-linecap="round" stroke-linejoin="round" opacity="0.55"/>
<path d="M619.8,827.8 Q621.9,828.0 624.0,828.5 Q625.7,827.2 627.7,826.2 Q629.0,825.4 630.3,824.5 Q632.8,825.0 635.1,825.9" fill="none" stroke="#d06030" stroke-width="0.98" stroke-linecap="round" stroke-linejoin="round" opacity="0.55"/>
<path d="M641.8,910.8 Q640.2,909.1 638.9,907.2 Q635.9,906.3 632.9,905.2 Q630.6,903.7 628.2,902.2" fill="none" stroke="#e07838" stroke-width="0.73" stroke-linecap="round" stroke-linejoin="round" opacity="0.55"/>
<path d="M572.9,877.3 Q574.6,877.3 576.3,877.0 Q577.1,875.6 577.9,874.2 Q577.4,872.2 576.7,870.4 Q574.7,869.4 572.8,868.1" fill="none" stroke="#701a0c" stroke-width="1.19" stroke-linecap="round" stroke-linejoin="round" opacity="0.55"/>
<path d="M692.6,815.6 Q690.3,814.5 688.2,813.1 Q686.8,812.1 685.6,811.0 Q683.2,809.8 681.5,807.8" fill="none" stroke="#d06030" stroke-width="0.92" stroke-linecap="round" stroke-linejoin="round" opacity="0.55"/>
<path d="M638.3,914.7 Q640.3,913.1 642.2,911.4 Q644.9,910.8 647.0,909.1 Q649.4,907.6 651.6,905.8 Q654.6,905.5 657.4,906.2" fill="none" stroke="#a83818" stroke-width="0.89" stroke-linecap="round" stroke-linejoin="round" opacity="0.55"/>
<path d="M646.7,848.2 Q646.3,851.0 645.6,853.7 Q646.4,855.2 647.1,856.7" fill="none" stroke="#d06030" stroke-width="0.71" stroke-linecap="round" stroke-linejoin="round" opacity="0.55"/>
<path d="M572.3,865.2 Q570.0,864.6 568.2,863.0 Q568.3,860.8 568.8,858.8" fill="none" stroke="#d06030" stroke-width="0.93" stroke-linecap="round" stroke-linejoin="round" opacity="0.55"/>
<path d="M687.1,902.7 Q684.0,903.5 680.9,904.4 Q678.3,903.1 675.3,902.6" fill="none" stroke="#a83818" stroke-width="0.62" stroke-linecap="round" stroke-linejoin="round" opacity="0.55"/>
<path d="M689.4,898.4 Q689.9,899.9 690.6,901.3 Q691.1,903.2 691.1,905.2 Q692.0,907.2 693.1,909.1" fill="none" stroke="#d06030" stroke-width="1.45" stroke-linecap="round" stroke-linejoin="round" opacity="0.55"/>
<path d="M595.6,841.8 Q595.2,838.8 594.9,835.8 Q595.5,833.0 595.2,830.1" fill="none" stroke="#701a0c" stroke-width="0.79" stroke-linecap="round" stroke-linejoin="round" opacity="0.55"/>
<path d="M600.8,835.2 Q602.3,835.8 603.8,836.7 Q604.1,838.4 603.7,840.2 Q603.1,842.7 601.6,844.9 Q599.9,847.5 597.4,849.4" fill="none" stroke="#701a0c" stroke-width="1.12" stroke-linecap="round" stroke-linejoin="round" opacity="0.55"/>
<path d="M603.3,907.0 Q605.9,906.9 608.3,907.6 Q610.5,907.5 612.4,906.5 Q613.5,904.0 614.6,901.5 Q616.7,900.3 618.5,898.8" fill="none" stroke="#a83818" stroke-width="0.99" stroke-linecap="round" stroke-linejoin="round" opacity="0.55"/>
<path d="M647.9,905.5 Q644.5,905.9 641.0,905.6 Q638.3,906.3 636.0,907.9 Q635.1,910.9 633.8,913.7 Q632.1,915.7 630.8,917.9" fill="none" stroke="#e07838" stroke-width="1.44" stroke-linecap="round" stroke-linejoin="round" opacity="0.55"/>
<path d="M573.6,827.8 Q575.8,827.9 578.0,828.3 Q580.4,830.7 582.5,833.4 Q584.2,834.1 585.6,835.2 Q587.3,835.7 589.0,836.4" fill="none" stroke="#a83818" stroke-width="1.02" stroke-linecap="round" stroke-linejoin="round" opacity="0.55"/>
<path d="M698.7,879.8 Q700.0,878.0 700.6,875.7 Q699.8,873.8 699.1,871.7 Q696.8,870.2 694.3,868.9 Q691.2,868.6 688.1,867.5" fill="none" stroke="#701a0c" stroke-width="1.05" stroke-linecap="round" stroke-linejoin="round" opacity="0.55"/>
<path d="M612.0,813.2 Q610.9,812.2 609.5,811.6 Q608.8,809.1 608.1,806.6 Q605.6,804.8 603.8,802.4" fill="none" stroke="#701a0c" stroke-width="0.91" stroke-linecap="round" stroke-linejoin="round" opacity="0.55"/>
<path d="M687.4,870.1 Q687.3,871.6 687.7,873.1 Q689.8,875.4 690.8,878.4" fill="none" stroke="#c07040" stroke-width="1.46" stroke-linecap="round" stroke-linejoin="round" opacity="0.55"/>
<path d="M589.1,822.6 Q588.5,819.8 589.0,816.9 Q589.4,814.9 590.2,813.1" fill="none" stroke="#a83818" stroke-width="1.53" stroke-linecap="round" stroke-linejoin="round" opacity="0.55"/>
<path d="M700.9,905.3 Q704.0,906.0 707.1,906.0 Q708.3,905.0 709.5,903.9" fill="none" stroke="#a83818" stroke-width="1.05" stroke-linecap="round" stroke-linejoin="round" opacity="0.55"/>
<path d="M622.2,817.7 Q623.2,815.8 623.4,813.6 Q621.7,811.7 619.8,810.0" fill="none" stroke="#c07040" stroke-width="1.38" stroke-linecap="round" stroke-linejoin="round" opacity="0.55"/>
<path d="M680.0,930.3 Q681.6,927.9 682.5,925.2 Q683.2,922.3 684.2,919.4" fill="none" stroke="#701a0c" stroke-width="0.88" stroke-linecap="round" stroke-linejoin="round" opacity="0.55"/>
<path d="M654.8,887.6 Q652.4,885.9 650.9,883.5 Q647.6,883.1 644.5,881.8 Q642.2,880.8 640.0,879.8 Q638.1,876.8 635.2,874.8" fill="none" stroke="#701a0c" stroke-width="0.86" stroke-linecap="round" stroke-linejoin="round" opacity="0.55"/>
<path d="M633.8,843.7 Q634.6,846.4 635.9,849.0 Q636.7,850.3 637.9,851.2 Q639.6,851.3 641.2,851.3" fill="none" stroke="#a83818" stroke-width="1.41" stroke-linecap="round" stroke-linejoin="round" opacity="0.55"/>
<path d="M575.7,914.9 Q577.7,914.5 579.7,914.0 Q582.0,915.1 583.7,917.0 Q583.6,920.1 583.3,923.3 Q584.5,925.6 585.7,928.0" fill="none" stroke="#e07838" stroke-width="1.25" stroke-linecap="round" stroke-linejoin="round" opacity="0.55"/>
<path d="M689.5,814.0 Q692.0,814.3 694.5,814.3 Q697.6,813.4 700.8,813.4" fill="none" stroke="#c07040" stroke-width="1.22" stroke-linecap="round" stroke-linejoin="round" opacity="0.55"/>
<path d="M623.6,922.1 Q623.5,924.3 623.1,926.4 Q620.6,928.3 618.0,930.2 Q617.5,931.7 617.6,933.3" fill="none" stroke="#e07838" stroke-width="1.42" stroke-linecap="round" stroke-linejoin="round" opacity="0.55"/>
<path d="M590.1,880.0 Q592.8,881.7 594.5,884.2 Q594.3,887.7 595.3,890.9" fill="none" stroke="#701a0c" stroke-width="0.74" stroke-linecap="round" stroke-linejoin="round" opacity="0.55"/>
<path d="M662.6,823.3 Q664.5,823.5 666.3,823.2 Q668.6,823.6 670.8,824.5" fill="none" stroke="#e07838" stroke-width="0.81" stroke-linecap="round" stroke-linejoin="round" opacity="0.55"/>
<path d="M635.1,885.4 Q637.5,883.8 639.1,881.5 Q639.3,879.8 639.0,878.2 Q638.7,875.1 639.3,872.0" fill="none" stroke="#a83818" stroke-width="1.51" stroke-linecap="round" stroke-linejoin="round" opacity="0.55"/>
<path d="M608.2,832.2 Q607.3,834.1 606.8,836.0 Q606.5,838.2 605.8,840.3 Q603.5,841.8 601.9,844.2" fill="none" stroke="#701a0c" stroke-width="1.40" stroke-linecap="round" stroke-linejoin="round" opacity="0.55"/>
<path d="M703.4,827.9 Q706.8,827.6 710.3,827.5 Q711.8,825.9 713.2,824.1 Q714.4,822.7 716.1,821.9" fill="none" stroke="#e07838" stroke-width="0.98" stroke-linecap="round" stroke-linejoin="round" opacity="0.55"/>
<path d="M614.2,807.6 Q615.9,809.5 617.3,811.5 Q618.4,813.0 619.8,814.2 Q621.3,815.5 622.7,817.0" fill="none" stroke="#d06030" stroke-width="1.29" stroke-linecap="round" stroke-linejoin="round" opacity="0.55"/>
<path d="M599.2,912.5 Q601.0,911.4 602.8,910.3 Q604.7,907.8 606.4,905.1" fill="none" stroke="#a83818" stroke-width="0.75" stroke-linecap="round" stroke-linejoin="round" opacity="0.55"/>
<path d="M601.0,811.3 Q602.1,813.2 603.6,814.9 Q603.7,816.8 604.1,818.8 Q603.3,820.1 602.7,821.5 Q603.0,823.9 602.5,826.2" fill="none" stroke="#e07838" stroke-width="1.56" stroke-linecap="round" stroke-linejoin="round" opacity="0.55"/>
<g filter="url(#bl1)">
<polygon points="577.1,800.8 632.2,800.8 627.8,812.3 613.2,816.2 594.8,816.2 579.8,812.3" fill="#060303"/>
<polygon points="568.5,814.6 579.5,816.3 590.4,823.8 597.8,831.9 601.3,842.2 600.7,852.6 596.1,860.0 585.8,862.3 568.5,861.3" fill="#060303"/>
<polygon points="601.9,839.0 608.1,837.2 612.9,844.8 611.5,857.1 603.5,855.1" fill="#060303"/>
<polygon points="624.1,820.3 633.0,821.4 631.4,831.6 625.1,829.5" fill="#060303"/>
<polygon points="689.1,815.9 707.7,807.0 707.7,874.2 691.2,874.2 686.9,857.7 689.1,840.1 691.2,826.8" fill="#060303"/>
<polygon points="694.6,801.6 706.7,801.6 706.7,808.3 697.5,806.2" fill="#060303"/>
<polygon points="659.9,800.6 677.7,800.6 675.4,813.8 669.8,822.6 664.3,820.5 661.1,811.6" fill="#060303"/>
<polygon points="649.5,828.9 661.7,826.6 670.5,831.1 673.8,842.1 676.7,853.1 670.5,860.2 662.8,858.7 658.4,848.7 650.7,843.1" fill="#060303"/>
<polygon points="645.3,848.5 651.8,849.6 650.8,856.2 646.0,856.2" fill="#060303"/>
<polygon points="571.0,893.2 585.2,892.0 596.3,894.3 598.4,903.1 595.1,910.8 583.0,914.1 580.7,920.8 590.7,923.0 599.5,923.0 601.8,939.4 568.7,939.4 568.7,905.4" fill="#060303"/>
<polygon points="610.3,865.9 641.2,865.9 641.2,887.9 629.1,891.2 615.9,894.5 610.3,887.9" fill="#060303"/>
<polygon points="606.3,903.6 621.8,903.6 624.0,912.4 615.2,916.9 606.3,913.5" fill="#060303"/>
<polygon points="643.9,870.0 673.7,870.0 671.4,882.2 661.5,889.9 651.6,896.5 643.9,892.1" fill="#060303"/>
<polygon points="672.0,866.7 708.3,866.7 708.3,882.1 696.2,881.1 685.3,883.3 674.3,879.9" fill="#060303"/>
<polygon points="690.6,885.4 707.1,883.2 707.1,914.0 697.2,912.8 691.7,901.9" fill="#060303"/>
<polygon points="677.3,899.4 688.4,898.3 693.8,908.3 690.5,917.2 681.7,917.2 677.3,909.3" fill="#060303"/>
<polygon points="681.3,926.8 707.7,924.6 707.7,936.7 681.3,936.7" fill="#060303"/>
<polygon points="619.7,823.9 626.3,822.5 628.8,832.0 625.1,842.8 620.5,838.9" fill="#060303"/>
<polygon points="594.4,904.2 610.5,903.8 620.1,908.8 612.8,917.5 596.7,915.7" fill="#060303"/>
<polygon points="570.2,871.6 580.5,873.9 583.7,884.2 578.2,892.1 570.2,890.0" fill="#060303"/>
<polygon points="652.7,916.7 668.8,915.0 673.0,925.9 668.8,937.4 650.4,937.4" fill="#060303"/>
</g>
<ellipse cx="575.8" cy="813.5" rx="3.5" ry="2.5" transform="rotate(40 575.8 813.5)" fill="#4cc8e0" opacity="0.85" filter="url(#bl05)"/>
<ellipse cx="598.8" cy="832.7" rx="3.4" ry="2.3" transform="rotate(35 598.8 832.7)" fill="#3d6ee8" opacity="0.85" filter="url(#bl05)"/>
<ellipse cx="605.0" cy="833.6" rx="3" ry="2.2" transform="rotate(40 605.0 833.6)" fill="#3d6ee8" opacity="0.85" filter="url(#bl05)"/>
<ellipse cx="612.2" cy="825.0" rx="3.3" ry="2.2" transform="rotate(60 612.2 825.0)" fill="#3d6ee8" opacity="0.85" filter="url(#bl05)"/>
<ellipse cx="616.0" cy="816.4" rx="5" ry="1.8" transform="rotate(-25 616.0 816.4)" fill="#4cc8e0" opacity="0.85" filter="url(#bl05)"/>
<ellipse cx="618.0" cy="845.1" rx="3.2" ry="2.2" transform="rotate(45 618.0 845.1)" fill="#3d6ee8" opacity="0.85" filter="url(#bl05)"/>
<ellipse cx="598.8" cy="853.8" rx="3.2" ry="2.3" transform="rotate(-30 598.8 853.8)" fill="#3d6ee8" opacity="0.85" filter="url(#bl05)"/>
<ellipse cx="614.1" cy="859.5" rx="3.3" ry="2.3" transform="rotate(-20 614.1 859.5)" fill="#3d6ee8" opacity="0.85" filter="url(#bl05)"/>
<ellipse cx="598.8" cy="863.4" rx="3.3" ry="2.2" transform="rotate(-10 598.8 863.4)" fill="#3d6ee8" opacity="0.85" filter="url(#bl05)"/>
<ellipse cx="581.5" cy="865.3" rx="2.5" ry="2" transform="rotate(0 581.5 865.3)" fill="#e0d0c0" opacity="0.85" filter="url(#bl05)"/>
<ellipse cx="638.0" cy="841.3" rx="2.5" ry="2" transform="rotate(0 638.0 841.3)" fill="#4cc8e0" opacity="0.85" filter="url(#bl05)"/>
<ellipse cx="650.5" cy="808.7" rx="3.4" ry="2.4" transform="rotate(-30 650.5 808.7)" fill="#3d6ee8" opacity="0.85" filter="url(#bl05)"/>
<ellipse cx="640.9" cy="839.4" rx="3" ry="2.3" transform="rotate(0 640.9 839.4)" fill="#4cc8e0" opacity="0.85" filter="url(#bl05)"/>
<ellipse cx="656.2" cy="846.1" rx="3.2" ry="2.2" transform="rotate(60 656.2 846.1)" fill="#3d6ee8" opacity="0.85" filter="url(#bl05)"/>
<ellipse cx="662.0" cy="864.8" rx="3" ry="2.3" transform="rotate(0 662.0 864.8)" fill="#4cc8e0" opacity="0.85" filter="url(#bl05)"/>
<ellipse cx="676.4" cy="825.0" rx="3.3" ry="2.4" transform="rotate(60 676.4 825.0)" fill="#3d6ee8" opacity="0.85" filter="url(#bl05)"/>
<ellipse cx="686.0" cy="832.7" rx="3.2" ry="2.1" transform="rotate(70 686.0 832.7)" fill="#3d6ee8" opacity="0.85" filter="url(#bl05)"/>
<ellipse cx="677.3" cy="858.6" rx="3.4" ry="2.2" transform="rotate(-25 677.3 858.6)" fill="#3d6ee8" opacity="0.85" filter="url(#bl05)"/>
<ellipse cx="687.9" cy="809.7" rx="3" ry="2.4" transform="rotate(60 687.9 809.7)" fill="#4cc8e0" opacity="0.85" filter="url(#bl05)"/>
<ellipse cx="696.5" cy="814.5" rx="3.2" ry="2.2" transform="rotate(-40 696.5 814.5)" fill="#3d6ee8" opacity="0.85" filter="url(#bl05)"/>
<ellipse cx="641.8" cy="833.6" rx="2.5" ry="2" transform="rotate(0 641.8 833.6)" fill="#7050c0" opacity="0.85" filter="url(#bl05)"/>
<ellipse cx="590.2" cy="881.4" rx="3.3" ry="2.2" transform="rotate(20 590.2 881.4)" fill="#3d6ee8" opacity="0.85" filter="url(#bl05)"/>
<ellipse cx="599.8" cy="885.3" rx="3.1" ry="2.2" transform="rotate(20 599.8 885.3)" fill="#3d6ee8" opacity="0.85" filter="url(#bl05)"/>
<ellipse cx="588.3" cy="893.4" rx="3.2" ry="2.2" transform="rotate(0 588.3 893.4)" fill="#3d6ee8" opacity="0.85" filter="url(#bl05)"/>
<ellipse cx="603.6" cy="896.8" rx="3.3" ry="2.3" transform="rotate(-20 603.6 896.8)" fill="#3d6ee8" opacity="0.85" filter="url(#bl05)"/>
<ellipse cx="612.2" cy="901.6" rx="3.4" ry="2.3" transform="rotate(-10 612.2 901.6)" fill="#3d6ee8" opacity="0.85" filter="url(#bl05)"/>
<ellipse cx="595.0" cy="912.1" rx="4" ry="1.8" transform="rotate(-30 595.0 912.1)" fill="#4cc8e0" opacity="0.85" filter="url(#bl05)"/>
<ellipse cx="634.3" cy="912.1" rx="3.5" ry="2.8" transform="rotate(0 634.3 912.1)" fill="#3d6ee8" opacity="0.85" filter="url(#bl05)"/>
<ellipse cx="601.7" cy="926.5" rx="3.2" ry="2.3" transform="rotate(-30 601.7 926.5)" fill="#3d6ee8" opacity="0.85" filter="url(#bl05)"/>
<ellipse cx="615.1" cy="922.7" rx="4" ry="2" transform="rotate(-30 615.1 922.7)" fill="#4cc8e0" opacity="0.85" filter="url(#bl05)"/>
<ellipse cx="611.3" cy="934.2" rx="3" ry="2.2" transform="rotate(0 611.3 934.2)" fill="#3d6ee8" opacity="0.85" filter="url(#bl05)"/>
<ellipse cx="631.4" cy="933.2" rx="3" ry="2.2" transform="rotate(0 631.4 933.2)" fill="#3d6ee8" opacity="0.85" filter="url(#bl05)"/>
<ellipse cx="666.8" cy="897.7" rx="3.5" ry="3" transform="rotate(0 666.8 897.7)" fill="#3d6ee8" opacity="0.85" filter="url(#bl05)"/>
<ellipse cx="683.1" cy="894.8" rx="3.2" ry="2.5" transform="rotate(0 683.1 894.8)" fill="#3d6ee8" opacity="0.85" filter="url(#bl05)"/>
<ellipse cx="689.8" cy="895.8" rx="3" ry="2.6" transform="rotate(0 689.8 895.8)" fill="#4cc8e0" opacity="0.85" filter="url(#bl05)"/>
<ellipse cx="648.5" cy="911.1" rx="3.3" ry="2.5" transform="rotate(80 648.5 911.1)" fill="#3d6ee8" opacity="0.85" filter="url(#bl05)"/>
<ellipse cx="639.0" cy="911.1" rx="2.6" ry="2.2" transform="rotate(0 639.0 911.1)" fill="#3d6ee8" opacity="0.85" filter="url(#bl05)"/>
<ellipse cx="640.0" cy="869.5" rx="3" ry="2" transform="rotate(0 640.0 869.5)" fill="#4cc8e0" opacity="0.85" filter="url(#bl05)"/>
<ellipse cx="667.0" cy="890.0" rx="3" ry="1.6" transform="rotate(-30 667.0 890.0)" fill="#e0d0c0" opacity="0.85" filter="url(#bl05)"/>
</g>
<g clip-path="url(#cpBL)"><g filter="url(#bl3)">
<rect x="424.4" y="794.8" width="25.3" height="25.3" fill="#050303"/>
<rect x="449.1" y="794.8" width="17.3" height="25.3" fill="#050303"/>
<rect x="465.9" y="794.8" width="17.3" height="25.3" fill="#1c0606"/>
<rect x="482.6" y="794.8" width="17.3" height="25.3" fill="#050303"/>
<rect x="499.3" y="794.8" width="17.3" height="25.3" fill="#1c0606"/>
<rect x="516.1" y="794.8" width="17.3" height="25.3" fill="#1c0606"/>
<rect x="532.8" y="794.8" width="17.3" height="25.3" fill="#050303"/>
<rect x="549.6" y="794.8" width="25.3" height="25.3" fill="#050303"/>
<rect x="424.4" y="819.4" width="25.3" height="17.3" fill="#050303"/>
<rect x="449.1" y="819.4" width="17.3" height="17.3" fill="#050303"/>
<rect x="465.9" y="819.4" width="17.3" height="17.3" fill="#1c0606"/>
<rect x="482.6" y="819.4" width="17.3" height="17.3" fill="#1c0606"/>
<rect x="499.3" y="819.4" width="17.3" height="17.3" fill="#1c0606"/>
<rect x="516.1" y="819.4" width="17.3" height="17.3" fill="#1c0606"/>
<rect x="532.8" y="819.4" width="17.3" height="17.3" fill="#1c0606"/>
<rect x="549.6" y="819.4" width="25.3" height="17.3" fill="#050303"/>
<rect x="424.4" y="836.1" width="25.3" height="17.3" fill="#050303"/>
<rect x="449.1" y="836.1" width="17.3" height="17.3" fill="#050303"/>
<rect x="465.9" y="836.1" width="17.3" height="17.3" fill="#050303"/>
<rect x="482.6" y="836.1" width="17.3" height="17.3" fill="#1c0606"/>
<rect x="499.3" y="836.1" width="17.3" height="17.3" fill="#1c0606"/>
<rect x="516.1" y="836.1" width="17.3" height="17.3" fill="#143e44"/>
<rect x="532.8" y="836.1" width="17.3" height="17.3" fill="#1c0606"/>
<rect x="549.6" y="836.1" width="25.3" height="17.3" fill="#050303"/>
<rect x="424.4" y="852.8" width="25.3" height="17.3" fill="#050303"/>
<rect x="449.1" y="852.8" width="17.3" height="17.3" fill="#1c0606"/>
<rect x="465.9" y="852.8" width="17.3" height="17.3" fill="#1c0606"/>
<rect x="482.6" y="852.8" width="17.3" height="17.3" fill="#1c0606"/>
<rect x="499.3" y="852.8" width="17.3" height="17.3" fill="#1c0606"/>
<rect x="516.1" y="852.8" width="17.3" height="17.3" fill="#143e44"/>
<rect x="532.8" y="852.8" width="17.3" height="17.3" fill="#1c0606"/>
<rect x="549.6" y="852.8" width="25.3" height="17.3" fill="#050303"/>
<rect x="424.4" y="869.4" width="25.3" height="17.3" fill="#1c0606"/>
<rect x="449.1" y="869.4" width="17.3" height="17.3" fill="#1c0606"/>
<rect x="465.9" y="869.4" width="17.3" height="17.3" fill="#1c0606"/>
<rect x="482.6" y="869.4" width="17.3" height="17.3" fill="#143e44"/>
<rect x="499.3" y="869.4" width="17.3" height="17.3" fill="#1c0606"/>
<rect x="516.1" y="869.4" width="17.3" height="17.3" fill="#1c0606"/>
<rect x="532.8" y="869.4" width="17.3" height="17.3" fill="#1c0606"/>
<rect x="549.6" y="869.4" width="25.3" height="17.3" fill="#1c0606"/>
<rect x="424.4" y="886.0" width="25.3" height="17.3" fill="#050303"/>
<rect x="449.1" y="886.0" width="17.3" height="17.3" fill="#1c0606"/>
<rect x="465.9" y="886.0" width="17.3" height="17.3" fill="#1c0606"/>
<rect x="482.6" y="886.0" width="17.3" height="17.3" fill="#1c0606"/>
<rect x="499.3" y="886.0" width="17.3" height="17.3" fill="#1c0606"/>
<rect x="516.1" y="886.0" width="17.3" height="17.3" fill="#1c0606"/>
<rect x="532.8" y="886.0" width="17.3" height="17.3" fill="#050303"/>
<rect x="549.6" y="886.0" width="25.3" height="17.3" fill="#1c0606"/>
<rect x="424.4" y="902.7" width="25.3" height="17.3" fill="#050303"/>
<rect x="449.1" y="902.7" width="17.3" height="17.3" fill="#050303"/>
<rect x="465.9" y="902.7" width="17.3" height="17.3" fill="#050303"/>
<rect x="482.6" y="902.7" width="17.3" height="17.3" fill="#1c0606"/>
<rect x="499.3" y="902.7" width="17.3" height="17.3" fill="#1c0606"/>
<rect x="516.1" y="902.7" width="17.3" height="17.3" fill="#1c0606"/>
<rect x="532.8" y="902.7" width="17.3" height="17.3" fill="#1c0606"/>
<rect x="549.6" y="902.7" width="25.3" height="17.3" fill="#050303"/>
<rect x="424.4" y="919.4" width="25.3" height="25.3" fill="#050303"/>
<rect x="449.1" y="919.4" width="17.3" height="25.3" fill="#050303"/>
<rect x="465.9" y="919.4" width="17.3" height="25.3" fill="#050303"/>
<rect x="482.6" y="919.4" width="17.3" height="25.3" fill="#050303"/>
<rect x="499.3" y="919.4" width="17.3" height="25.3" fill="#050303"/>
<rect x="516.1" y="919.4" width="17.3" height="25.3" fill="#1c0606"/>
<rect x="532.8" y="919.4" width="17.3" height="25.3" fill="#1c0606"/>
<rect x="549.6" y="919.4" width="25.3" height="25.3" fill="#050303"/>
</g>
<g filter="url(#bl1)">
<polygon points="509.0,805.9 520.8,803.9 522.8,817.7 518.9,831.6 514.9,843.4 507.0,843.4 509.0,827.6" fill="#4c1212" fill-opacity="0.65" stroke="#9a2a1a" stroke-width="1.0" stroke-opacity="0.6"/>
<polygon points="463.6,815.8 475.4,817.7 485.3,827.6 497.1,837.5 503.1,845.4 495.2,849.3 483.3,841.4 469.5,831.6 463.6,823.7" fill="#4c1212" fill-opacity="0.65" stroke="#9a2a1a" stroke-width="1.0" stroke-opacity="0.6"/>
<polygon points="489.2,837.5 512.9,837.5 540.6,843.4 540.6,861.2 528.7,873.0 509.0,873.0 489.2,863.2 479.4,853.3" fill="#4c1212" fill-opacity="0.65" stroke="#9a2a1a" stroke-width="1.0" stroke-opacity="0.6"/>
<polygon points="445.8,865.1 469.5,851.3 493.2,855.3 509.0,863.2 505.0,880.9 485.3,888.8 461.6,892.8 447.8,886.9 441.8,877.0" fill="#4c1212" fill-opacity="0.65" stroke="#9a2a1a" stroke-width="1.0" stroke-opacity="0.6"/>
<polygon points="522.8,857.2 548.5,859.2 564.3,877.0 560.3,886.9 540.6,884.9 522.8,877.0" fill="#4c1212" fill-opacity="0.65" stroke="#9a2a1a" stroke-width="1.0" stroke-opacity="0.6"/>
<polygon points="453.7,886.9 481.3,890.8 512.9,902.7 548.5,916.5 550.5,926.4 512.9,916.5 481.3,904.6 453.7,894.8" fill="#4c1212" fill-opacity="0.65" stroke="#9a2a1a" stroke-width="1.0" stroke-opacity="0.6"/>
<polygon points="505.0,892.8 524.8,896.7 540.6,908.6 544.5,924.4 532.7,926.4 516.9,912.5" fill="#4c1212" fill-opacity="0.65" stroke="#9a2a1a" stroke-width="1.0" stroke-opacity="0.6"/>
<path d="M514.9,843.4 Q535,832 556.4,823.7" stroke="#6a1c14" stroke-width="3" fill="none"/>
</g>
<path d="M466.5,890.9 Q466.1,886.9 465.6,883.0 Q467.1,881.2 468.7,879.4 Q470.6,878.8 472.6,878.9" fill="none" stroke="#7a2218" stroke-width="0.86" stroke-linecap="round" stroke-linejoin="round" opacity="0.55"/>
<path d="M536.9,840.5 Q537.8,844.4 537.7,848.4 Q538.1,851.3 537.4,854.1" fill="none" stroke="#5a1810" stroke-width="0.92" stroke-linecap="round" stroke-linejoin="round" opacity="0.55"/>
<path d="M461.0,919.7 Q459.0,920.5 456.8,920.8 Q455.5,922.7 453.8,924.4" fill="none" stroke="#7a2218" stroke-width="0.84" stroke-linecap="round" stroke-linejoin="round" opacity="0.55"/>
<path d="M468.9,819.1 Q468.8,816.7 469.1,814.3 Q471.2,811.7 474.1,810.1" fill="none" stroke="#5a1810" stroke-width="1.14" stroke-linecap="round" stroke-linejoin="round" opacity="0.55"/>
<path d="M455.9,876.6 Q452.2,877.3 448.4,876.6 Q445.6,876.5 442.9,876.6 Q439.0,877.5 435.3,878.8" fill="none" stroke="#7a2218" stroke-width="0.62" stroke-linecap="round" stroke-linejoin="round" opacity="0.55"/>
<path d="M465.8,893.8 Q468.9,893.4 472.0,893.7 Q474.9,892.4 477.9,891.3" fill="none" stroke="#7a2218" stroke-width="0.97" stroke-linecap="round" stroke-linejoin="round" opacity="0.55"/>
<path d="M523.0,883.9 Q523.8,880.8 524.0,877.6 Q522.8,875.9 522.0,873.9 Q522.4,871.2 523.2,868.6" fill="none" stroke="#5a1810" stroke-width="1.01" stroke-linecap="round" stroke-linejoin="round" opacity="0.55"/>
<path d="M555.3,859.8 Q559.1,860.1 562.8,860.5 Q565.3,860.1 567.7,860.6 Q569.7,859.8 571.8,859.5 Q574.6,860.5 576.9,862.4" fill="none" stroke="#8a2a1c" stroke-width="0.63" stroke-linecap="round" stroke-linejoin="round" opacity="0.55"/>
<path d="M521.7,818.8 Q523.6,820.7 524.7,823.2 Q523.2,826.3 521.8,829.5 Q521.9,833.4 521.8,837.3" fill="none" stroke="#7a2218" stroke-width="1.04" stroke-linecap="round" stroke-linejoin="round" opacity="0.55"/>
<path d="M554.7,913.9 Q551.6,914.4 548.4,915.1 Q544.7,915.4 541.2,916.4" fill="none" stroke="#8a2a1c" stroke-width="0.92" stroke-linecap="round" stroke-linejoin="round" opacity="0.55"/>
<path d="M463.6,894.3 Q461.6,894.1 459.5,893.8 Q456.2,892.3 452.9,890.5" fill="none" stroke="#8a2a1c" stroke-width="0.75" stroke-linecap="round" stroke-linejoin="round" opacity="0.55"/>
<path d="M532.2,904.3 Q534.3,904.6 536.4,904.0 Q538.6,903.2 540.8,903.1" fill="none" stroke="#7a2218" stroke-width="0.99" stroke-linecap="round" stroke-linejoin="round" opacity="0.55"/>
<path d="M482.1,918.6 Q479.9,919.6 477.6,919.9 Q474.8,922.0 471.6,923.4" fill="none" stroke="#5a1810" stroke-width="0.96" stroke-linecap="round" stroke-linejoin="round" opacity="0.55"/>
<path d="M545.9,900.2 Q546.1,896.4 545.9,892.7 Q546.2,889.0 545.7,885.4" fill="none" stroke="#5a1810" stroke-width="1.18" stroke-linecap="round" stroke-linejoin="round" opacity="0.55"/>
<path d="M483.1,819.6 Q479.3,820.8 475.3,820.8 Q472.8,819.2 470.3,817.5 Q468.7,816.2 467.2,814.7" fill="none" stroke="#5a1810" stroke-width="0.79" stroke-linecap="round" stroke-linejoin="round" opacity="0.55"/>
<path d="M482.7,891.9 Q479.8,893.2 477.0,894.9 Q476.0,896.8 474.8,898.5 Q473.1,901.8 470.9,904.9 Q468.2,907.3 464.8,908.3" fill="none" stroke="#7a2218" stroke-width="0.90" stroke-linecap="round" stroke-linejoin="round" opacity="0.55"/>
<path d="M524.1,892.6 Q521.5,893.7 519.3,895.3 Q518.9,898.2 519.2,901.0 Q518.2,904.5 516.6,907.8 Q515.6,910.0 514.9,912.4" fill="none" stroke="#5a1810" stroke-width="0.89" stroke-linecap="round" stroke-linejoin="round" opacity="0.55"/>
<path d="M550.4,887.0 Q553.8,887.7 556.7,889.6 Q558.2,892.4 559.1,895.6" fill="none" stroke="#5a1810" stroke-width="1.00" stroke-linecap="round" stroke-linejoin="round" opacity="0.55"/>
<path d="M526.3,890.1 Q527.0,893.3 526.9,896.5 Q523.8,899.0 522.0,902.6 Q521.7,905.2 521.7,907.8" fill="none" stroke="#5a1810" stroke-width="0.69" stroke-linecap="round" stroke-linejoin="round" opacity="0.55"/>
<path d="M467.6,872.5 Q466.5,869.7 464.6,867.6 Q464.9,864.2 464.3,860.8 Q462.8,857.9 461.8,854.8" fill="none" stroke="#7a2218" stroke-width="0.76" stroke-linecap="round" stroke-linejoin="round" opacity="0.55"/>
<path d="M484.1,843.0 Q487.0,842.2 489.7,840.8 Q493.1,840.3 496.1,838.8" fill="none" stroke="#8a2a1c" stroke-width="0.84" stroke-linecap="round" stroke-linejoin="round" opacity="0.55"/>
<path d="M496.9,882.9 Q495.4,885.7 495.0,889.0 Q492.9,890.3 491.1,891.9" fill="none" stroke="#5a1810" stroke-width="0.98" stroke-linecap="round" stroke-linejoin="round" opacity="0.55"/>
<path d="M489.2,823.2 Q486.6,821.1 483.5,819.5 Q480.7,820.8 478.5,823.0 Q477.3,825.6 475.2,827.7" fill="none" stroke="#7a2218" stroke-width="0.82" stroke-linecap="round" stroke-linejoin="round" opacity="0.55"/>
<path d="M511.9,915.3 Q509.9,917.3 507.3,918.5 Q505.3,920.9 502.7,922.7" fill="none" stroke="#8a2a1c" stroke-width="0.95" stroke-linecap="round" stroke-linejoin="round" opacity="0.55"/>
<path d="M547.0,816.9 Q543.6,815.5 541.1,812.8 Q540.1,810.7 539.1,808.6" fill="none" stroke="#5a1810" stroke-width="0.92" stroke-linecap="round" stroke-linejoin="round" opacity="0.55"/>
<path d="M517.5,866.8 Q516.8,864.6 515.7,862.6 Q515.2,860.6 515.2,858.6 Q516.0,856.4 515.9,854.0" fill="none" stroke="#8a2a1c" stroke-width="1.10" stroke-linecap="round" stroke-linejoin="round" opacity="0.55"/>
<path d="M478.2,821.5 Q481.8,820.9 485.2,819.9 Q486.3,817.7 487.1,815.4 Q486.9,813.0 486.0,810.8" fill="none" stroke="#8a2a1c" stroke-width="1.17" stroke-linecap="round" stroke-linejoin="round" opacity="0.55"/>
<path d="M456.8,906.0 Q456.2,909.2 455.2,912.2 Q454.2,914.0 453.3,915.8" fill="none" stroke="#8a2a1c" stroke-width="0.89" stroke-linecap="round" stroke-linejoin="round" opacity="0.55"/>
<path d="M538.4,914.7 Q538.0,911.4 537.9,908.1 Q538.3,905.9 538.3,903.7" fill="none" stroke="#8a2a1c" stroke-width="0.73" stroke-linecap="round" stroke-linejoin="round" opacity="0.55"/>
<path d="M552.9,902.3 Q555.1,901.1 556.6,899.0 Q558.0,895.8 558.4,892.3 Q560.9,890.6 563.2,888.8" fill="none" stroke="#5a1810" stroke-width="0.74" stroke-linecap="round" stroke-linejoin="round" opacity="0.55"/>
<path d="M510.1,900.3 Q511.7,898.4 513.4,896.6 Q515.0,893.7 517.5,891.4 Q520.7,889.1 524.6,888.1" fill="none" stroke="#7a2218" stroke-width="1.17" stroke-linecap="round" stroke-linejoin="round" opacity="0.55"/>
<path d="M558.2,896.4 Q560.2,894.1 562.9,892.7 Q564.9,891.6 566.6,890.2" fill="none" stroke="#5a1810" stroke-width="0.85" stroke-linecap="round" stroke-linejoin="round" opacity="0.55"/>
<path d="M500.0,869.4 Q502.1,871.4 504.4,873.1 Q506.5,874.6 508.5,876.1" fill="none" stroke="#7a2218" stroke-width="0.88" stroke-linecap="round" stroke-linejoin="round" opacity="0.55"/>
<path d="M536.4,852.0 Q532.9,851.8 529.9,850.2 Q527.2,849.4 524.5,849.9 Q521.3,849.5 518.2,848.9" fill="none" stroke="#7a2218" stroke-width="1.20" stroke-linecap="round" stroke-linejoin="round" opacity="0.55"/>
<path d="M502.4,910.7 Q500.8,909.4 499.7,907.7 Q497.2,906.8 494.6,906.2 Q491.9,905.2 489.4,903.7" fill="none" stroke="#8a2a1c" stroke-width="0.64" stroke-linecap="round" stroke-linejoin="round" opacity="0.55"/>
<path d="M532.1,856.2 Q530.2,859.6 529.2,863.3 Q526.3,865.7 524.5,869.0 Q523.9,872.2 524.5,875.5" fill="none" stroke="#8a2a1c" stroke-width="1.10" stroke-linecap="round" stroke-linejoin="round" opacity="0.55"/>
<path d="M459.7,882.9 Q456.9,881.7 454.4,880.1 Q451.0,879.8 447.7,880.1 Q445.0,879.6 442.3,879.8 Q440.7,881.2 438.9,882.3" fill="none" stroke="#7a2218" stroke-width="0.85" stroke-linecap="round" stroke-linejoin="round" opacity="0.55"/>
<path d="M532.7,881.2 Q529.6,882.6 526.5,884.0 Q523.6,885.1 520.7,886.3 Q519.6,890.0 519.7,893.9 Q520.3,896.8 520.5,899.6" fill="none" stroke="#5a1810" stroke-width="1.03" stroke-linecap="round" stroke-linejoin="round" opacity="0.55"/>
<path d="M473.0,901.8 Q475.5,904.6 477.2,907.8 Q476.4,911.2 476.0,914.7 Q477.0,916.5 478.4,918.0 Q479.3,920.4 479.2,923.0" fill="none" stroke="#7a2218" stroke-width="0.87" stroke-linecap="round" stroke-linejoin="round" opacity="0.55"/>
<path d="M465.0,883.7 Q466.5,881.9 468.2,880.3 Q470.2,879.2 471.7,877.5" fill="none" stroke="#7a2218" stroke-width="1.02" stroke-linecap="round" stroke-linejoin="round" opacity="0.55"/>
<ellipse cx="472.3" cy="824.0" rx="4" ry="2.4" transform="rotate(20 472.3 824.0)" fill="#3d6ee8" opacity="0.85" filter="url(#bl05)"/>
<ellipse cx="477.0" cy="825.0" rx="3" ry="2" transform="rotate(20 477.0 825.0)" fill="#4cc8e0" opacity="0.85" filter="url(#bl05)"/>
<ellipse cx="498.2" cy="837.5" rx="2.6" ry="2" transform="rotate(0 498.2 837.5)" fill="#4cc8e0" opacity="0.85" filter="url(#bl05)"/>
<ellipse cx="485.7" cy="849.0" rx="4" ry="1.6" transform="rotate(0 485.7 849.0)" fill="#3d6ee8" opacity="0.85" filter="url(#bl05)"/>
<ellipse cx="498.2" cy="849.0" rx="3" ry="2.5" transform="rotate(0 498.2 849.0)" fill="#3d6ee8" opacity="0.85" filter="url(#bl05)"/>
<ellipse cx="467.5" cy="860.5" rx="4.5" ry="2" transform="rotate(-60 467.5 860.5)" fill="#3d6ee8" opacity="0.85" filter="url(#bl05)"/>
<ellipse cx="514.3" cy="820.2" rx="2.6" ry="4" transform="rotate(10 514.3 820.2)" fill="#3d6ee8" opacity="0.85" filter="url(#bl05)"/>
<ellipse cx="515.3" cy="825.0" rx="2.5" ry="1.8" transform="rotate(0 515.3 825.0)" fill="#4cc8e0" opacity="0.85" filter="url(#bl05)"/>
<ellipse cx="503.8" cy="831.7" rx="2.3" ry="2.5" transform="rotate(0 503.8 831.7)" fill="#4cc8e0" opacity="0.85" filter="url(#bl05)"/>
<ellipse cx="500.0" cy="836.5" rx="2.5" ry="2.5" transform="rotate(0 500.0 836.5)" fill="#3d6ee8" opacity="0.85" filter="url(#bl05)"/>
<ellipse cx="499.0" cy="849.0" rx="2.5" ry="3" transform="rotate(0 499.0 849.0)" fill="#3d6ee8" opacity="0.85" filter="url(#bl05)"/>
<ellipse cx="518.2" cy="844.2" rx="2.6" ry="2.6" transform="rotate(0 518.2 844.2)" fill="#3d6ee8" opacity="0.85" filter="url(#bl05)"/>
<ellipse cx="528.7" cy="846.6" rx="5.5" ry="6.5" transform="rotate(-10 528.7 846.6)" fill="#6ad0a0" opacity="0.85" filter="url(#bl05)"/>
<ellipse cx="529.0" cy="847.0" rx="4" ry="5" transform="rotate(-10 529.0 847.0)" fill="#4cc8e0" opacity="0.85" filter="url(#bl05)"/>
<ellipse cx="510.5" cy="853.8" rx="3" ry="2.3" transform="rotate(0 510.5 853.8)" fill="#3d6ee8" opacity="0.85" filter="url(#bl05)"/>
<ellipse cx="502.8" cy="862.4" rx="2.2" ry="2" transform="rotate(0 502.8 862.4)" fill="#4cc8e0" opacity="0.85" filter="url(#bl05)"/>
<ellipse cx="521.0" cy="861.4" rx="7" ry="3.2" transform="rotate(30 521.0 861.4)" fill="#4cc8e0" opacity="0.85" filter="url(#bl05)"/>
<ellipse cx="540.2" cy="861.4" rx="2.5" ry="3.5" transform="rotate(0 540.2 861.4)" fill="#3d6ee8" opacity="0.85" filter="url(#bl05)"/>
<ellipse cx="563.2" cy="811.6" rx="1.6" ry="1.6" transform="rotate(0 563.2 811.6)" fill="#4cc8e0" opacity="0.85" filter="url(#bl05)"/>
<ellipse cx="535.4" cy="833.6" rx="2.2" ry="1.5" transform="rotate(-30 535.4 833.6)" fill="#4cc8e0" opacity="0.85" filter="url(#bl05)"/>
<ellipse cx="477.0" cy="878.5" rx="4" ry="2.4" transform="rotate(0 477.0 878.5)" fill="#4cc8e0" opacity="0.85" filter="url(#bl05)"/>
<ellipse cx="491.4" cy="876.6" rx="6.5" ry="3.2" transform="rotate(-5 491.4 876.6)" fill="#4cc8e0" opacity="0.85" filter="url(#bl05)"/>
<ellipse cx="463.6" cy="890.5" rx="3" ry="2.4" transform="rotate(0 463.6 890.5)" fill="#4cc8e0" opacity="0.85" filter="url(#bl05)"/>
<ellipse cx="485.7" cy="894.8" rx="4" ry="2.4" transform="rotate(20 485.7 894.8)" fill="#3d6ee8" opacity="0.85" filter="url(#bl05)"/>
<ellipse cx="554.6" cy="877.6" rx="3" ry="3.2" transform="rotate(50 554.6 877.6)" fill="#4cc8e0" opacity="0.85" filter="url(#bl05)"/>
<ellipse cx="507.6" cy="909.2" rx="2.7" ry="2.7" transform="rotate(0 507.6 909.2)" fill="#3d6ee8" opacity="0.85" filter="url(#bl05)"/>
<ellipse cx="521.0" cy="920.7" rx="2.3" ry="3.5" transform="rotate(-20 521.0 920.7)" fill="#4cc8e0" opacity="0.85" filter="url(#bl05)"/>
<ellipse cx="541.2" cy="921.7" rx="4" ry="2.6" transform="rotate(20 541.2 921.7)" fill="#3d6ee8" opacity="0.85" filter="url(#bl05)"/>
<ellipse cx="530.6" cy="869.5" rx="3.5" ry="1.8" transform="rotate(0 530.6 869.5)" fill="#3d6ee8" opacity="0.85" filter="url(#bl05)"/>
</g>
<g clip-path="url(#cpTL)">
<path d="M433.8,679.1 Q433.6,683.0 433.1,686.8 Q432.1,688.8 430.3,690.2 Q430.1,692.3 430.4,694.4 Q429.6,697.4 429.7,700.4" fill="none" stroke="#6a1c10" stroke-width="1.23" stroke-linecap="round" stroke-linejoin="round" opacity="0.6"/>
<path d="M434.9,789.9 Q433.8,792.5 432.4,794.9 Q432.2,798.3 432.2,801.8" fill="none" stroke="#6a1c10" stroke-width="1.30" stroke-linecap="round" stroke-linejoin="round" opacity="0.6"/>
<path d="M560.1,776.4 Q560.0,780.0 560.3,783.6 Q562.5,785.6 564.9,787.6" fill="none" stroke="#5a1a10" stroke-width="1.43" stroke-linecap="round" stroke-linejoin="round" opacity="0.6"/>
<path d="M539.0,761.8 Q538.4,764.7 538.4,767.7 Q539.5,770.6 540.6,773.5 Q540.9,776.1 541.9,778.6 Q541.7,780.8 541.0,782.8" fill="none" stroke="#7a2a18" stroke-width="1.51" stroke-linecap="round" stroke-linejoin="round" opacity="0.6"/>
<path d="M444.7,689.8 Q447.7,687.2 451.0,685.1 Q452.5,683.0 454.6,681.4 Q456.8,681.5 459.0,681.0 Q461.4,679.6 463.1,677.4" fill="none" stroke="#7a2a18" stroke-width="1.34" stroke-linecap="round" stroke-linejoin="round" opacity="0.6"/>
<path d="M445.5,795.7 Q447.7,796.2 449.6,797.6 Q451.7,797.7 453.8,797.9" fill="none" stroke="#7a2a18" stroke-width="1.16" stroke-linecap="round" stroke-linejoin="round" opacity="0.6"/>
<path d="M563.8,729.7 Q560.7,727.8 557.9,725.7 Q554.9,723.5 551.3,722.8" fill="none" stroke="#8a3020" stroke-width="1.14" stroke-linecap="round" stroke-linejoin="round" opacity="0.6"/>
<path d="M479.0,665.5 Q476.4,668.6 475.0,672.3 Q473.5,675.2 471.1,677.3 Q467.5,677.3 464.2,676.0" fill="none" stroke="#5a1a10" stroke-width="1.48" stroke-linecap="round" stroke-linejoin="round" opacity="0.6"/>
<path d="M506.6,738.8 Q504.5,737.0 502.4,735.1 Q501.2,732.4 500.5,729.5 Q499.9,727.4 498.6,725.5 Q498.1,722.1 499.1,718.7" fill="none" stroke="#5a1a10" stroke-width="1.32" stroke-linecap="round" stroke-linejoin="round" opacity="0.6"/>
<path d="M437.8,753.5 Q435.9,751.5 433.7,749.9 Q430.7,748.2 427.8,746.4" fill="none" stroke="#7a2a18" stroke-width="0.92" stroke-linecap="round" stroke-linejoin="round" opacity="0.6"/>
<path d="M530.8,774.8 Q532.6,776.7 534.3,778.6 Q536.9,780.8 539.9,782.3 Q542.6,781.2 545.4,780.6 Q547.5,779.0 549.2,777.0" fill="none" stroke="#6a1c10" stroke-width="1.56" stroke-linecap="round" stroke-linejoin="round" opacity="0.6"/>
<path d="M535.6,672.8 Q534.3,676.4 533.2,680.0 Q531.4,682.8 529.8,685.7 Q530.5,687.9 530.5,690.2 Q528.2,693.5 526.7,697.2" fill="none" stroke="#7a2a18" stroke-width="0.95" stroke-linecap="round" stroke-linejoin="round" opacity="0.6"/>
<path d="M472.5,786.3 Q471.1,782.6 468.9,779.3 Q465.8,778.3 463.0,776.5 Q461.8,773.4 461.2,770.1" fill="none" stroke="#8a3020" stroke-width="0.72" stroke-linecap="round" stroke-linejoin="round" opacity="0.6"/>
<path d="M558.4,754.2 Q555.7,754.8 552.9,755.0 Q550.5,754.9 548.0,755.1 Q545.9,753.8 544.0,752.1" fill="none" stroke="#8a3020" stroke-width="0.74" stroke-linecap="round" stroke-linejoin="round" opacity="0.6"/>
<path d="M523.9,707.4 Q525.5,705.4 527.0,703.5 Q529.3,703.5 531.4,702.5 Q532.9,701.1 534.4,699.6 Q536.4,697.6 537.8,695.0" fill="none" stroke="#8a3020" stroke-width="0.72" stroke-linecap="round" stroke-linejoin="round" opacity="0.6"/>
<path d="M491.2,728.3 Q489.5,731.2 486.7,733.1 Q484.4,733.9 481.9,733.6 Q479.2,733.5 476.8,732.3 Q473.1,731.4 469.6,730.1" fill="none" stroke="#5a1a10" stroke-width="0.88" stroke-linecap="round" stroke-linejoin="round" opacity="0.6"/>
<path d="M558.9,755.7 Q561.5,754.8 564.3,754.5 Q567.2,751.8 570.7,750.0" fill="none" stroke="#7a2a18" stroke-width="1.56" stroke-linecap="round" stroke-linejoin="round" opacity="0.6"/>
<path d="M489.6,738.5 Q487.6,735.4 485.0,732.7 Q484.1,730.4 483.5,728.1 Q482.8,725.7 481.6,723.4" fill="none" stroke="#7a2a18" stroke-width="1.53" stroke-linecap="round" stroke-linejoin="round" opacity="0.6"/>
<path d="M544.0,744.1 Q544.4,741.8 544.2,739.4 Q542.3,736.1 539.6,733.5 Q538.8,731.4 538.6,729.2" fill="none" stroke="#8a3020" stroke-width="0.94" stroke-linecap="round" stroke-linejoin="round" opacity="0.6"/>
<path d="M490.1,674.5 Q491.0,677.3 492.8,679.7 Q494.4,681.4 496.3,682.7 Q499.8,683.7 503.5,684.1 Q505.6,682.5 507.9,681.2" fill="none" stroke="#5a1a10" stroke-width="1.46" stroke-linecap="round" stroke-linejoin="round" opacity="0.6"/>
<path d="M506.1,743.3 Q504.8,741.1 503.2,739.0 Q501.5,737.1 499.9,735.0 Q498.7,731.7 498.0,728.3" fill="none" stroke="#5a1a10" stroke-width="0.85" stroke-linecap="round" stroke-linejoin="round" opacity="0.6"/>
<path d="M495.8,735.6 Q495.2,732.7 493.8,730.2 Q492.6,728.3 492.0,726.1 Q490.7,723.7 490.3,720.9 Q491.4,718.5 492.6,716.1" fill="none" stroke="#5a1a10" stroke-width="1.30" stroke-linecap="round" stroke-linejoin="round" opacity="0.6"/>
<path d="M528.8,728.8 Q526.5,731.3 524.0,733.7 Q522.0,736.9 519.4,739.5" fill="none" stroke="#7a2a18" stroke-width="0.76" stroke-linecap="round" stroke-linejoin="round" opacity="0.6"/>
<path d="M541.3,672.7 Q543.3,674.5 545.7,675.7 Q548.4,674.9 550.9,673.5" fill="none" stroke="#7a2a18" stroke-width="0.75" stroke-linecap="round" stroke-linejoin="round" opacity="0.6"/>
<path d="M485.8,677.2 Q487.7,678.5 490.0,679.0 Q491.9,677.8 494.2,677.6" fill="none" stroke="#6a1c10" stroke-width="1.48" stroke-linecap="round" stroke-linejoin="round" opacity="0.6"/>
<path d="M475.8,697.4 Q478.1,694.7 480.5,692.1 Q482.7,688.7 485.4,685.8 Q488.8,685.8 492.2,686.3 Q494.5,685.5 496.2,683.8" fill="none" stroke="#6a1c10" stroke-width="1.36" stroke-linecap="round" stroke-linejoin="round" opacity="0.6"/>
<path d="M552.6,701.6 Q554.0,703.4 555.5,705.2 Q557.5,706.7 559.3,708.4" fill="none" stroke="#7a2a18" stroke-width="1.30" stroke-linecap="round" stroke-linejoin="round" opacity="0.6"/>
<path d="M562.1,726.4 Q560.1,724.4 558.3,722.2 Q557.7,720.3 557.1,718.3 Q556.4,715.2 556.6,712.1" fill="none" stroke="#8a3020" stroke-width="1.08" stroke-linecap="round" stroke-linejoin="round" opacity="0.6"/>
<path d="M498.1,734.4 Q494.7,734.8 491.5,733.8 Q490.3,731.6 490.2,729.0" fill="none" stroke="#8a3020" stroke-width="0.95" stroke-linecap="round" stroke-linejoin="round" opacity="0.6"/>
<path d="M465.1,723.7 Q463.9,727.4 464.1,731.3 Q463.3,734.4 463.2,737.6" fill="none" stroke="#7a2a18" stroke-width="0.73" stroke-linecap="round" stroke-linejoin="round" opacity="0.6"/>
<path d="M525.4,747.8 Q528.0,749.1 530.6,750.5 Q534.2,752.1 537.8,753.6 Q540.5,755.9 542.1,759.0" fill="none" stroke="#7a2a18" stroke-width="0.85" stroke-linecap="round" stroke-linejoin="round" opacity="0.6"/>
<path d="M482.0,685.7 Q480.2,687.1 478.7,688.8 Q479.0,692.1 479.3,695.4 Q480.5,698.1 482.3,700.3" fill="none" stroke="#8a3020" stroke-width="1.34" stroke-linecap="round" stroke-linejoin="round" opacity="0.6"/>
<path d="M502.3,671.6 Q504.4,670.7 506.5,669.9 Q507.4,668.0 507.7,665.8" fill="none" stroke="#7a2a18" stroke-width="1.04" stroke-linecap="round" stroke-linejoin="round" opacity="0.6"/>
<path d="M475.9,774.1 Q473.8,773.9 471.8,774.4 Q468.0,775.8 464.3,777.0 Q462.0,776.1 459.7,775.3 Q457.8,773.7 455.9,772.1" fill="none" stroke="#6a1c10" stroke-width="1.44" stroke-linecap="round" stroke-linejoin="round" opacity="0.6"/>
<path d="M525.6,775.1 Q528.9,775.1 532.0,774.1 Q534.1,773.2 536.3,772.5 Q538.3,773.3 540.4,774.1 Q542.7,775.7 544.5,777.7" fill="none" stroke="#7a2a18" stroke-width="1.13" stroke-linecap="round" stroke-linejoin="round" opacity="0.6"/>
<path d="M520.9,744.9 Q520.3,748.0 520.7,751.1 Q522.7,752.3 524.3,753.9 Q526.6,754.1 528.7,754.8" fill="none" stroke="#5a1a10" stroke-width="1.31" stroke-linecap="round" stroke-linejoin="round" opacity="0.6"/>
<path d="M526.6,709.8 Q528.5,707.8 530.0,705.4 Q533.2,704.2 536.0,702.3 Q537.3,700.5 538.8,698.9" fill="none" stroke="#7a2a18" stroke-width="1.08" stroke-linecap="round" stroke-linejoin="round" opacity="0.6"/>
<path d="M547.9,750.1 Q545.8,747.1 543.9,744.0 Q543.3,740.3 541.3,737.2 Q539.2,735.6 537.4,733.6 Q534.4,731.7 531.0,730.5" fill="none" stroke="#8a3020" stroke-width="1.55" stroke-linecap="round" stroke-linejoin="round" opacity="0.6"/>
<path d="M510.1,665.1 Q509.9,661.1 511.1,657.3 Q511.0,654.3 511.4,651.3 Q513.3,649.4 515.0,647.5 Q514.4,643.8 512.4,640.7" fill="none" stroke="#6a1c10" stroke-width="1.27" stroke-linecap="round" stroke-linejoin="round" opacity="0.6"/>
<path d="M512.1,764.1 Q511.6,767.0 510.8,769.9 Q508.4,772.7 507.1,776.1 Q504.3,778.2 502.1,780.8" fill="none" stroke="#5a1a10" stroke-width="0.78" stroke-linecap="round" stroke-linejoin="round" opacity="0.6"/>
<path d="M483.7,722.1 Q481.2,721.9 478.7,722.5 Q476.2,720.7 473.4,719.5 Q472.2,716.9 472.2,714.1 Q472.2,711.6 471.6,709.1" fill="none" stroke="#7a2a18" stroke-width="0.71" stroke-linecap="round" stroke-linejoin="round" opacity="0.6"/>
<path d="M509.6,677.1 Q507.7,680.0 505.5,682.6 Q504.4,684.7 503.8,687.0 Q505.6,689.8 507.1,692.7 Q507.0,695.6 506.3,698.4" fill="none" stroke="#7a2a18" stroke-width="1.20" stroke-linecap="round" stroke-linejoin="round" opacity="0.6"/>
<path d="M459.4,674.3 Q460.4,671.8 460.9,669.2 Q462.7,667.5 464.4,665.6 Q467.0,665.4 469.6,666.0 Q472.9,668.0 476.7,668.3" fill="none" stroke="#6a1c10" stroke-width="1.04" stroke-linecap="round" stroke-linejoin="round" opacity="0.6"/>
<path d="M562.7,769.5 Q563.4,771.6 563.2,773.8 Q564.3,776.3 564.5,779.1 Q563.5,781.4 563.0,783.8" fill="none" stroke="#7a2a18" stroke-width="1.34" stroke-linecap="round" stroke-linejoin="round" opacity="0.6"/>
<path d="M468.5,790.8 Q470.0,788.5 472.0,786.7 Q474.4,786.5 476.7,786.0 Q479.7,783.9 482.9,782.0" fill="none" stroke="#7a2a18" stroke-width="1.42" stroke-linecap="round" stroke-linejoin="round" opacity="0.6"/>
<path d="M499.8,751.6 Q500.7,753.8 501.5,756.2 Q504.1,758.6 506.8,761.0" fill="none" stroke="#8a3020" stroke-width="1.56" stroke-linecap="round" stroke-linejoin="round" opacity="0.6"/>
<path d="M532.0,678.7 Q534.4,675.6 536.6,672.3 Q539.9,671.5 543.2,671.8" fill="none" stroke="#8a3020" stroke-width="1.04" stroke-linecap="round" stroke-linejoin="round" opacity="0.6"/>
<path d="M493.6,699.0 Q493.5,702.6 492.3,705.9 Q490.7,707.9 488.4,709.2 Q485.3,707.9 482.0,707.4" fill="none" stroke="#8a3020" stroke-width="1.11" stroke-linecap="round" stroke-linejoin="round" opacity="0.6"/>
<path d="M561.5,714.3 Q560.9,716.5 560.0,718.4 Q557.3,719.7 554.5,720.5 Q552.5,724.0 549.8,726.9 Q546.6,727.1 543.4,726.7" fill="none" stroke="#5a1a10" stroke-width="1.11" stroke-linecap="round" stroke-linejoin="round" opacity="0.6"/>
<path d="M561.6,784.6 Q563.4,781.4 565.4,778.3 Q566.1,774.8 568.1,771.8 Q569.0,769.9 569.9,768.0" fill="none" stroke="#7a2a18" stroke-width="1.17" stroke-linecap="round" stroke-linejoin="round" opacity="0.6"/>
<path d="M557.5,690.8 Q559.6,692.8 561.7,694.7 Q562.2,698.2 564.1,701.3 Q566.2,703.6 568.7,705.4" fill="none" stroke="#8a3020" stroke-width="1.39" stroke-linecap="round" stroke-linejoin="round" opacity="0.6"/>
<path d="M546.0,682.1 Q546.9,685.4 549.1,688.1 Q551.2,689.2 553.4,690.1 Q555.8,692.4 558.8,693.6" fill="none" stroke="#8a3020" stroke-width="1.10" stroke-linecap="round" stroke-linejoin="round" opacity="0.6"/>
<path d="M538.6,714.7 Q534.7,714.4 530.9,715.4 Q528.4,716.0 525.7,715.8 Q523.2,713.0 520.4,710.6 Q516.5,710.8 512.7,712.0" fill="none" stroke="#6a1c10" stroke-width="1.44" stroke-linecap="round" stroke-linejoin="round" opacity="0.6"/>
<path d="M530.3,758.7 Q531.7,760.1 533.3,761.3 Q534.8,762.9 536.7,763.9 Q540.0,765.8 543.8,766.6" fill="none" stroke="#6a1c10" stroke-width="1.15" stroke-linecap="round" stroke-linejoin="round" opacity="0.6"/>
<path d="M501.2,765.8 Q499.0,765.6 496.8,765.0 Q493.6,764.5 490.6,763.4 Q487.5,762.8 484.8,761.0 Q481.8,761.8 478.8,761.3" fill="none" stroke="#7a2a18" stroke-width="1.49" stroke-linecap="round" stroke-linejoin="round" opacity="0.6"/>
<path d="M545.4,671.1 Q546.9,668.9 549.1,667.5 Q550.5,664.5 553.2,662.4" fill="none" stroke="#8a3020" stroke-width="1.58" stroke-linecap="round" stroke-linejoin="round" opacity="0.6"/>
<path d="M435.5,672.1 Q434.6,674.6 434.1,677.2 Q433.3,679.9 431.4,682.0 Q431.9,685.2 432.7,688.3" fill="none" stroke="#8a3020" stroke-width="1.60" stroke-linecap="round" stroke-linejoin="round" opacity="0.6"/>
<path d="M527.9,761.7 Q526.8,764.8 525.2,767.5 Q525.6,770.6 525.7,773.7 Q524.2,775.3 522.2,776.3 Q520.3,777.4 518.1,778.1" fill="none" stroke="#7a2a18" stroke-width="1.12" stroke-linecap="round" stroke-linejoin="round" opacity="0.6"/>
<path d="M561.5,684.2 Q564.5,685.6 567.6,686.8 Q570.5,685.2 572.5,682.6" fill="none" stroke="#8a3020" stroke-width="0.79" stroke-linecap="round" stroke-linejoin="round" opacity="0.6"/>
<path d="M500.1,795.6 Q500.5,799.5 499.6,803.2 Q501.2,806.2 502.8,809.2 Q505.5,809.8 507.9,811.1 Q509.4,812.9 511.3,814.4" fill="none" stroke="#8a3020" stroke-width="1.11" stroke-linecap="round" stroke-linejoin="round" opacity="0.6"/>
<path d="M564.7,728.9 Q568.6,729.5 572.5,728.4 Q574.8,725.5 577.5,723.0" fill="none" stroke="#7a2a18" stroke-width="0.82" stroke-linecap="round" stroke-linejoin="round" opacity="0.6"/>
<path d="M457.2,709.0 Q455.8,711.5 453.8,713.5 Q452.1,715.5 450.8,717.8 Q448.4,720.7 445.0,722.6" fill="none" stroke="#7a2a18" stroke-width="0.72" stroke-linecap="round" stroke-linejoin="round" opacity="0.6"/>
<path d="M512.5,797.6 Q510.8,796.3 509.5,794.7 Q506.4,793.5 503.1,793.2 Q499.9,795.1 496.5,796.5" fill="none" stroke="#8a3020" stroke-width="1.28" stroke-linecap="round" stroke-linejoin="round" opacity="0.6"/>
<path d="M474.9,708.3 Q477.8,710.3 481.2,711.0 Q483.5,709.2 485.1,706.7 Q486.8,704.7 489.0,703.3 Q490.2,700.6 491.1,697.7" fill="none" stroke="#7a2a18" stroke-width="0.91" stroke-linecap="round" stroke-linejoin="round" opacity="0.6"/>
<path d="M476.0,671.2 Q479.2,670.2 482.5,670.4 Q484.9,670.6 487.3,670.7" fill="none" stroke="#6a1c10" stroke-width="0.84" stroke-linecap="round" stroke-linejoin="round" opacity="0.6"/>
<path d="M442.6,692.6 Q441.6,695.4 441.7,698.3" fill="none" stroke="#8ab4d4" stroke-width="0.80" stroke-linecap="round" stroke-linejoin="round" opacity="0.5"/>
<path d="M502.3,790.6 Q504.5,789.2 507.0,788.4 Q509.3,787.8 511.8,787.8" fill="none" stroke="#70a0c8" stroke-width="0.68" stroke-linecap="round" stroke-linejoin="round" opacity="0.5"/>
<path d="M560.1,691.0 Q562.5,690.2 565.0,689.9" fill="none" stroke="#c0d8e8" stroke-width="0.78" stroke-linecap="round" stroke-linejoin="round" opacity="0.5"/>
<path d="M438.8,669.1 Q437.2,671.6 435.5,674.1" fill="none" stroke="#70a0c8" stroke-width="0.81" stroke-linecap="round" stroke-linejoin="round" opacity="0.5"/>
<path d="M508.4,741.1 Q507.9,739.1 506.7,737.5 Q505.6,734.4 504.0,731.7 Q503.5,728.7 501.7,726.1" fill="none" stroke="#a0c8e8" stroke-width="0.67" stroke-linecap="round" stroke-linejoin="round" opacity="0.5"/>
<path d="M526.4,676.2 Q529.0,676.1 531.4,675.2 Q532.5,672.7 533.5,670.2 Q534.6,667.9 535.2,665.4" fill="none" stroke="#c0d8e8" stroke-width="0.74" stroke-linecap="round" stroke-linejoin="round" opacity="0.5"/>
<path d="M560.2,779.6 Q558.9,778.1 557.5,776.7 Q556.1,774.9 555.3,772.9 Q556.1,771.3 557.1,769.9" fill="none" stroke="#70a0c8" stroke-width="0.74" stroke-linecap="round" stroke-linejoin="round" opacity="0.5"/>
<path d="M450.7,697.2 Q451.8,696.2 453.2,695.7" fill="none" stroke="#70a0c8" stroke-width="0.67" stroke-linecap="round" stroke-linejoin="round" opacity="0.5"/>
<path d="M536.5,719.9 Q538.2,721.2 540.1,722.0 Q541.8,722.2 543.4,722.7" fill="none" stroke="#a0c8e8" stroke-width="0.99" stroke-linecap="round" stroke-linejoin="round" opacity="0.5"/>
<path d="M449.6,756.7 Q448.0,758.3 446.0,759.3 Q445.1,762.6 445.2,766.0 Q447.8,768.0 449.9,770.5" fill="none" stroke="#70a0c8" stroke-width="0.87" stroke-linecap="round" stroke-linejoin="round" opacity="0.5"/>
<path d="M482.8,679.3 Q480.9,679.9 479.1,680.5 Q476.0,681.8 473.9,684.3 Q471.9,684.9 470.0,685.3" fill="none" stroke="#8ab4d4" stroke-width="0.65" stroke-linecap="round" stroke-linejoin="round" opacity="0.5"/>
<path d="M529.7,680.2 Q528.3,682.8 528.0,685.8 Q527.1,689.2 526.2,692.5 Q527.1,694.2 527.3,696.0" fill="none" stroke="#a0c8e8" stroke-width="0.99" stroke-linecap="round" stroke-linejoin="round" opacity="0.5"/>
<path d="M563.1,712.9 Q559.8,711.7 556.7,710.1 Q555.2,709.8 553.7,709.5" fill="none" stroke="#a0c8e8" stroke-width="0.90" stroke-linecap="round" stroke-linejoin="round" opacity="0.5"/>
<path d="M446.6,755.3 Q444.7,753.9 442.9,752.1" fill="none" stroke="#a0c8e8" stroke-width="0.81" stroke-linecap="round" stroke-linejoin="round" opacity="0.5"/>
<path d="M492.2,758.4 Q492.2,756.1 491.6,753.9 Q492.4,751.9 494.0,750.4" fill="none" stroke="#70a0c8" stroke-width="0.92" stroke-linecap="round" stroke-linejoin="round" opacity="0.5"/>
<path d="M519.3,776.8 Q519.6,778.5 519.9,780.3 Q519.1,782.5 518.8,784.9" fill="none" stroke="#70a0c8" stroke-width="0.97" stroke-linecap="round" stroke-linejoin="round" opacity="0.5"/>
<path d="M560.4,757.4 Q560.7,759.1 560.5,760.9 Q560.6,762.6 560.1,764.2 Q558.0,765.9 555.8,767.5" fill="none" stroke="#a0c8e8" stroke-width="0.63" stroke-linecap="round" stroke-linejoin="round" opacity="0.5"/>
<path d="M472.7,734.2 Q470.0,734.1 467.6,733.2 Q466.7,731.4 466.1,729.4" fill="none" stroke="#a0c8e8" stroke-width="0.96" stroke-linecap="round" stroke-linejoin="round" opacity="0.5"/>
<path d="M553.9,710.8 Q555.6,711.7 557.2,712.7 Q560.6,712.3 563.6,710.5" fill="none" stroke="#8ab4d4" stroke-width="0.75" stroke-linecap="round" stroke-linejoin="round" opacity="0.5"/>
<path d="M546.3,741.3 Q545.1,744.2 544.5,747.3" fill="none" stroke="#8ab4d4" stroke-width="0.87" stroke-linecap="round" stroke-linejoin="round" opacity="0.5"/>
<path d="M523.6,780.8 Q523.2,779.4 523.5,777.8" fill="none" stroke="#a0c8e8" stroke-width="0.68" stroke-linecap="round" stroke-linejoin="round" opacity="0.5"/>
<path d="M448.5,763.2 Q450.7,762.5 453.0,762.3 Q454.2,760.9 455.9,760.2 Q457.7,759.9 459.3,759.0" fill="none" stroke="#c0d8e8" stroke-width="0.78" stroke-linecap="round" stroke-linejoin="round" opacity="0.5"/>
<path d="M564.9,688.9 Q563.3,686.2 560.6,684.4 Q559.8,682.7 559.7,680.8" fill="none" stroke="#a0c8e8" stroke-width="0.73" stroke-linecap="round" stroke-linejoin="round" opacity="0.5"/>
<path d="M478.5,682.5 Q475.3,683.8 471.9,684.5 Q470.0,686.1 467.9,687.3 Q465.8,688.8 464.0,690.7" fill="none" stroke="#70a0c8" stroke-width="0.91" stroke-linecap="round" stroke-linejoin="round" opacity="0.5"/>
<path d="M464.3,762.7 Q465.7,765.8 467.2,768.7 Q470.0,769.8 473.0,769.8 Q474.5,771.5 475.5,773.4" fill="none" stroke="#a0c8e8" stroke-width="0.91" stroke-linecap="round" stroke-linejoin="round" opacity="0.5"/>
<path d="M440.8,753.0 Q442.9,751.9 445.2,751.6 Q446.2,750.0 447.6,748.6 Q448.4,747.0 449.4,745.4" fill="none" stroke="#c0d8e8" stroke-width="0.78" stroke-linecap="round" stroke-linejoin="round" opacity="0.5"/>
<path d="M492.5,776.9 Q491.9,774.1 492.4,771.3" fill="none" stroke="#c0d8e8" stroke-width="0.86" stroke-linecap="round" stroke-linejoin="round" opacity="0.5"/>
<path d="M452.3,717.5 Q454.4,717.6 456.5,717.6" fill="none" stroke="#8ab4d4" stroke-width="0.63" stroke-linecap="round" stroke-linejoin="round" opacity="0.5"/>
<path d="M522.1,672.3 Q525.3,673.7 528.3,675.4" fill="none" stroke="#a0c8e8" stroke-width="0.75" stroke-linecap="round" stroke-linejoin="round" opacity="0.5"/>
<path d="M500.1,724.3 Q501.1,721.2 502.9,718.5 Q505.8,718.1 508.7,717.5 Q510.3,716.5 511.9,715.5" fill="none" stroke="#c0d8e8" stroke-width="0.77" stroke-linecap="round" stroke-linejoin="round" opacity="0.5"/>
<path d="M459.1,757.7 Q459.4,754.9 458.6,752.1 Q456.3,750.0 453.3,749.0 Q452.3,747.4 451.4,745.8" fill="none" stroke="#8ab4d4" stroke-width="0.72" stroke-linecap="round" stroke-linejoin="round" opacity="0.5"/>
<path d="M540.7,741.2 Q541.5,742.6 542.7,743.7" fill="none" stroke="#8ab4d4" stroke-width="0.85" stroke-linecap="round" stroke-linejoin="round" opacity="0.5"/>
<path d="M481.8,746.9 Q482.7,745.8 483.8,744.7" fill="none" stroke="#c0d8e8" stroke-width="0.81" stroke-linecap="round" stroke-linejoin="round" opacity="0.5"/>
<path d="M544.7,702.2 Q544.0,700.2 542.5,698.6 Q540.8,697.0 539.6,695.0 Q539.7,691.9 538.5,689.1" fill="none" stroke="#8ab4d4" stroke-width="0.88" stroke-linecap="round" stroke-linejoin="round" opacity="0.5"/>
<path d="M493.1,678.2 Q492.2,679.5 491.0,680.3 Q490.6,683.8 490.3,687.3" fill="none" stroke="#c0d8e8" stroke-width="0.80" stroke-linecap="round" stroke-linejoin="round" opacity="0.5"/>
<path d="M495.5,679.5 Q493.4,681.7 491.2,683.8 Q490.8,685.7 490.1,687.5 Q488.0,690.1 485.4,692.1" fill="none" stroke="#70a0c8" stroke-width="0.71" stroke-linecap="round" stroke-linejoin="round" opacity="0.5"/>
<path d="M550.4,782.2 Q553.1,781.1 555.9,780.6" fill="none" stroke="#a0c8e8" stroke-width="1.00" stroke-linecap="round" stroke-linejoin="round" opacity="0.5"/>
<path d="M522.2,740.4 Q521.3,743.2 519.5,745.5 Q516.9,745.7 514.5,746.4" fill="none" stroke="#c0d8e8" stroke-width="0.75" stroke-linecap="round" stroke-linejoin="round" opacity="0.5"/>
<path d="M563.3,703.2 Q560.4,703.9 558.1,705.7 Q555.3,705.6 552.5,705.4 Q549.4,704.9 546.3,704.6" fill="none" stroke="#8ab4d4" stroke-width="0.73" stroke-linecap="round" stroke-linejoin="round" opacity="0.5"/>
<path d="M524.0,739.2 Q521.5,739.1 519.0,739.4 Q517.3,740.9 515.2,741.8 Q512.6,743.9 510.5,746.5" fill="none" stroke="#70a0c8" stroke-width="0.88" stroke-linecap="round" stroke-linejoin="round" opacity="0.5"/>
<path d="M452.9,777.0 Q454.6,774.7 457.1,773.3 Q460.3,772.6 463.5,772.0" fill="none" stroke="#70a0c8" stroke-width="0.92" stroke-linecap="round" stroke-linejoin="round" opacity="0.5"/>
<path d="M504.9,694.2 Q503.5,692.7 502.4,691.1 Q499.5,690.7 496.8,689.8" fill="none" stroke="#a0c8e8" stroke-width="0.85" stroke-linecap="round" stroke-linejoin="round" opacity="0.5"/>
<path d="M446.6,690.4 Q443.7,691.9 441.5,694.4" fill="none" stroke="#c0d8e8" stroke-width="0.67" stroke-linecap="round" stroke-linejoin="round" opacity="0.5"/>
<path d="M495.8,671.9 Q493.5,671.0 491.1,670.6 Q488.9,669.7 486.7,668.6" fill="none" stroke="#a0c8e8" stroke-width="0.97" stroke-linecap="round" stroke-linejoin="round" opacity="0.5"/>
<path d="M531.0,764.2 Q529.4,762.9 528.6,761.1 Q527.2,758.4 525.3,756.1 Q522.3,755.5 519.6,754.0" fill="none" stroke="#8ab4d4" stroke-width="0.89" stroke-linecap="round" stroke-linejoin="round" opacity="0.5"/>
<path d="M433.8,718.7 Q436.6,716.9 439.5,715.5 Q440.4,712.8 440.3,710.0 Q439.0,707.9 438.7,705.4" fill="none" stroke="#8ab4d4" stroke-width="0.62" stroke-linecap="round" stroke-linejoin="round" opacity="0.5"/>
<path d="M511.9,702.8 Q510.3,704.2 509.0,705.8 Q506.5,707.2 503.6,707.7" fill="none" stroke="#a0c8e8" stroke-width="0.65" stroke-linecap="round" stroke-linejoin="round" opacity="0.5"/>
<path d="M517.9,720.7 Q516.2,721.6 514.7,722.8 Q512.7,723.3 510.8,724.0 Q508.8,725.3 506.7,726.4" fill="none" stroke="#70a0c8" stroke-width="0.99" stroke-linecap="round" stroke-linejoin="round" opacity="0.5"/>
<path d="M443.6,767.8 Q445.8,766.0 448.0,764.1 Q450.6,764.5 453.0,765.4 Q454.6,764.8 456.3,764.6" fill="none" stroke="#8ab4d4" stroke-width="0.92" stroke-linecap="round" stroke-linejoin="round" opacity="0.5"/>
<path d="M555.0,731.0 Q557.6,732.5 560.6,733.0 Q562.4,732.4 564.2,732.6" fill="none" stroke="#70a0c8" stroke-width="0.75" stroke-linecap="round" stroke-linejoin="round" opacity="0.5"/>
<path d="M441.8,688.0 Q443.5,689.8 444.5,692.1 Q447.0,692.9 449.6,693.3 Q451.7,692.5 453.3,690.8" fill="none" stroke="#8ab4d4" stroke-width="0.74" stroke-linecap="round" stroke-linejoin="round" opacity="0.5"/>
<path d="M477.4,796.2 Q475.2,794.4 473.4,792.1" fill="none" stroke="#a0c8e8" stroke-width="0.93" stroke-linecap="round" stroke-linejoin="round" opacity="0.5"/>
<path d="M510.4,757.5 Q509.2,756.3 507.7,755.3" fill="none" stroke="#c0d8e8" stroke-width="0.87" stroke-linecap="round" stroke-linejoin="round" opacity="0.5"/>
<path d="M442.8,688.3 Q444.5,688.7 446.3,688.7 Q448.0,688.8 449.7,688.6" fill="none" stroke="#70a0c8" stroke-width="0.71" stroke-linecap="round" stroke-linejoin="round" opacity="0.5"/>
<path d="M482.5,738.0 Q482.1,741.3 482.4,744.7 Q482.1,746.5 482.4,748.2" fill="none" stroke="#70a0c8" stroke-width="0.85" stroke-linecap="round" stroke-linejoin="round" opacity="0.5"/>
<path d="M440,678 Q445,688 444,700" stroke="#b8d8f0" stroke-width="1.4" stroke-linecap="round" fill="none" opacity="0.85"/>
<path d="M436,716 L444,712" stroke="#70c8f0" stroke-width="2.6" stroke-linecap="round" fill="none" opacity="0.85"/>
<path d="M442,700 Q446,706 451,711" stroke="#90c0e0" stroke-width="1.3" stroke-linecap="round" fill="none" opacity="0.85"/>
<path d="M470,698 L477,692" stroke="#a0d0f0" stroke-width="1.2" stroke-linecap="round" fill="none" opacity="0.85"/>
<path d="M483,711 L497,700" stroke="#90c0e0" stroke-width="1.3" stroke-linecap="round" fill="none" opacity="0.85"/>
<path d="M480,723 Q482,730 483,735" stroke="#70c0f0" stroke-width="2.2" stroke-linecap="round" fill="none" opacity="0.85"/>
<path d="M519,672 L527,682" stroke="#a0c8e8" stroke-width="1.2" stroke-linecap="round" fill="none" opacity="0.85"/>
<path d="M529,736 L535,743" stroke="#80d0f0" stroke-width="2.0" stroke-linecap="round" fill="none" opacity="0.85"/>
<path d="M552,680 Q556,688 558,695" stroke="#a0c8e8" stroke-width="1.2" stroke-linecap="round" fill="none" opacity="0.85"/>
<path d="M556,694 L564,695" stroke="#80c8f0" stroke-width="1.4" stroke-linecap="round" fill="none" opacity="0.85"/>
<path d="M531,723 L541,715" stroke="#90c0e0" stroke-width="1.2" stroke-linecap="round" fill="none" opacity="0.85"/>
<path d="M545,731 L550,739" stroke="#90c8e8" stroke-width="1.3" stroke-linecap="round" fill="none" opacity="0.85"/>
<path d="M541,754 L548,753" stroke="#a0c8e8" stroke-width="1.2" stroke-linecap="round" fill="none" opacity="0.85"/>
<path d="M438,780 L446,773" stroke="#80d0f0" stroke-width="2.2" stroke-linecap="round" fill="none" opacity="0.85"/>
<path d="M460,786 L469,779" stroke="#90c0e0" stroke-width="1.3" stroke-linecap="round" fill="none" opacity="0.85"/>
<path d="M499,790 L513,783" stroke="#a0c8e8" stroke-width="1.3" stroke-linecap="round" fill="none" opacity="0.85"/>
<path d="M541,782 L552,775" stroke="#8080d0" stroke-width="1.4" stroke-linecap="round" fill="none" opacity="0.85"/>
<path d="M501,755 L509,763" stroke="#a0d0f0" stroke-width="1.4" stroke-linecap="round" fill="none" opacity="0.85"/>
<path d="M441,680 Q444,700 448,715" stroke="#7a2414" stroke-width="2.2" stroke-linecap="round" fill="none" opacity="0.85"/>
<path d="M452,748 L457,760" stroke="#6a1c10" stroke-width="2.0" stroke-linecap="round" fill="none" opacity="0.85"/>
<path d="M480,737 L490,744" stroke="#7a2414" stroke-width="2.2" stroke-linecap="round" fill="none" opacity="0.85"/>
<path d="M470,712 L481,714" stroke="#6a1c10" stroke-width="1.8" stroke-linecap="round" fill="none" opacity="0.85"/>
<path d="M530,746 L538,748" stroke="#7a2414" stroke-width="2.0" stroke-linecap="round" fill="none" opacity="0.85"/>
<path d="M553,690 L557,692" stroke="#7a2414" stroke-width="2.0" stroke-linecap="round" fill="none" opacity="0.85"/>
<path d="M510,683 Q515,680 519,686" stroke="#5a2010" stroke-width="3.0" stroke-linecap="round" fill="none" opacity="0.85"/>
<circle cx="461.6" cy="679.7" r="1.5" fill="#70d0f0" opacity="0.9"/>
<circle cx="475.4" cy="747" r="1.5" fill="#70d0f0" opacity="0.9"/>
<circle cx="511" cy="680" r="1.5" fill="#70d0f0" opacity="0.9"/>
<circle cx="500" cy="725" r="1.5" fill="#70d0f0" opacity="0.9"/>
<circle cx="489" cy="705" r="1.5" fill="#70d0f0" opacity="0.9"/>
<circle cx="463" cy="733" r="1.5" fill="#70d0f0" opacity="0.9"/>
<circle cx="520" cy="760" r="1.5" fill="#70d0f0" opacity="0.9"/>
<circle cx="455" cy="700" r="1.5" fill="#70d0f0" opacity="0.9"/>
<circle cx="519.0" cy="746.2" r="0.95" fill="#3a90e0" opacity="0.75"/>
<circle cx="488.0" cy="733.4" r="1.23" fill="#3a90e0" opacity="0.75"/>
<circle cx="481.8" cy="751.0" r="1.14" fill="#80d8f8" opacity="0.75"/>
<circle cx="458.3" cy="680.3" r="0.62" fill="#3a90e0" opacity="0.75"/>
<circle cx="547.0" cy="754.0" r="0.87" fill="#80d8f8" opacity="0.75"/>
<circle cx="521.1" cy="697.7" r="1.26" fill="#3a90e0" opacity="0.75"/>
<circle cx="500.2" cy="699.9" r="1.21" fill="#80d8f8" opacity="0.75"/>
<circle cx="484.7" cy="764.7" r="0.82" fill="#5ac8f0" opacity="0.75"/>
<circle cx="447.9" cy="690.1" r="1.10" fill="#80d8f8" opacity="0.75"/>
<circle cx="489.9" cy="787.0" r="0.83" fill="#80d8f8" opacity="0.75"/>
<circle cx="531.8" cy="742.3" r="0.96" fill="#3a90e0" opacity="0.75"/>
<circle cx="550.8" cy="667.7" r="0.94" fill="#3a90e0" opacity="0.75"/>
<circle cx="490.8" cy="734.7" r="0.86" fill="#5ac8f0" opacity="0.75"/>
<circle cx="439.4" cy="668.7" r="1.15" fill="#5ac8f0" opacity="0.75"/>
<circle cx="522.1" cy="709.5" r="0.66" fill="#80d8f8" opacity="0.75"/>
<circle cx="547.0" cy="791.8" r="1.13" fill="#5ac8f0" opacity="0.75"/>
<circle cx="532.0" cy="701.3" r="1.21" fill="#5ac8f0" opacity="0.75"/>
<circle cx="496.8" cy="726.3" r="0.83" fill="#5ac8f0" opacity="0.75"/>
<circle cx="492.6" cy="715.8" r="0.80" fill="#5ac8f0" opacity="0.75"/>
<circle cx="444.9" cy="772.8" r="0.73" fill="#80d8f8" opacity="0.75"/>
<circle cx="460.1" cy="780.8" r="0.90" fill="#80d8f8" opacity="0.75"/>
<circle cx="453.3" cy="785.1" r="0.95" fill="#80d8f8" opacity="0.75"/>
<circle cx="500.1" cy="706.4" r="0.98" fill="#80d8f8" opacity="0.75"/>
<circle cx="436.0" cy="688.0" r="0.94" fill="#5ac8f0" opacity="0.75"/>
</g>
<g clip-path="url(#cpTR)">
<g filter="url(#bl4)">
<circle cx="623.0" cy="694.9" r="4.8" fill="#5a1a0c" opacity="0.7"/>
<circle cx="694.6" cy="741.4" r="7.5" fill="#5a1a0c" opacity="0.7"/>
<circle cx="646.1" cy="715.4" r="7.7" fill="#5a1a0c" opacity="0.7"/>
<circle cx="649.3" cy="768.7" r="7.3" fill="#5a1a0c" opacity="0.7"/>
<circle cx="684.6" cy="722.9" r="4.8" fill="#5a1a0c" opacity="0.7"/>
<circle cx="591.9" cy="760.9" r="4.8" fill="#5a1a0c" opacity="0.7"/>
<circle cx="659.8" cy="747.2" r="4.3" fill="#5a1a0c" opacity="0.7"/>
<circle cx="677.2" cy="668.4" r="8.3" fill="#5a1a0c" opacity="0.7"/>
<circle cx="684.8" cy="692.9" r="7.6" fill="#5a1a0c" opacity="0.7"/>
<circle cx="670.2" cy="680.8" r="7.3" fill="#5a1a0c" opacity="0.7"/>
<circle cx="588.4" cy="786.4" r="7.4" fill="#5a1a0c" opacity="0.7"/>
<circle cx="703.5" cy="671.2" r="5.6" fill="#5a1a0c" opacity="0.7"/>
<circle cx="655.1" cy="745.5" r="4.9" fill="#5a1a0c" opacity="0.7"/>
<circle cx="691.1" cy="777.4" r="5.5" fill="#5a1a0c" opacity="0.7"/>
<circle cx="591.4" cy="753.5" r="6.0" fill="#5a1a0c" opacity="0.7"/>
<circle cx="661.0" cy="730.1" r="6.0" fill="#5a1a0c" opacity="0.7"/>
<circle cx="574.7" cy="682.1" r="6.3" fill="#5a1a0c" opacity="0.7"/>
<circle cx="669.7" cy="721.0" r="7.7" fill="#5a1a0c" opacity="0.7"/>
<circle cx="644.3" cy="782.0" r="7.3" fill="#5a1a0c" opacity="0.7"/>
<circle cx="615.1" cy="682.6" r="4.3" fill="#5a1a0c" opacity="0.7"/>
<circle cx="577.1" cy="779.6" r="8.4" fill="#5a1a0c" opacity="0.7"/>
<circle cx="672.8" cy="678.7" r="7.3" fill="#5a1a0c" opacity="0.7"/>
<circle cx="589.0" cy="783.1" r="7.3" fill="#5a1a0c" opacity="0.7"/>
<circle cx="672.5" cy="745.6" r="6.1" fill="#5a1a0c" opacity="0.7"/>
<circle cx="685.8" cy="792.9" r="5.2" fill="#5a1a0c" opacity="0.7"/>
<circle cx="630.6" cy="762.3" r="7.4" fill="#5a1a0c" opacity="0.7"/>
<circle cx="627.0" cy="724.3" r="8.8" fill="#5a1a0c" opacity="0.7"/>
<circle cx="608.9" cy="692.3" r="7.4" fill="#5a1a0c" opacity="0.7"/>
<circle cx="609.0" cy="784.3" r="5.6" fill="#5a1a0c" opacity="0.7"/>
<circle cx="696.1" cy="714.9" r="8.4" fill="#5a1a0c" opacity="0.7"/>
<circle cx="672.8" cy="762.1" r="5.1" fill="#5a1a0c" opacity="0.7"/>
<circle cx="593.9" cy="668.2" r="4.9" fill="#5a1a0c" opacity="0.7"/>
<circle cx="661.4" cy="672.6" r="5.2" fill="#5a1a0c" opacity="0.7"/>
<circle cx="648.0" cy="684.8" r="5.6" fill="#5a1a0c" opacity="0.7"/>
<circle cx="602.5" cy="754.6" r="4.6" fill="#5a1a0c" opacity="0.7"/>
<circle cx="705.9" cy="744.2" r="7.6" fill="#5a1a0c" opacity="0.7"/>
<circle cx="646.1" cy="730.7" r="8.9" fill="#5a1a0c" opacity="0.7"/>
<circle cx="691.9" cy="774.1" r="4.1" fill="#5a1a0c" opacity="0.7"/>
<circle cx="651.0" cy="790.2" r="7.2" fill="#5a1a0c" opacity="0.7"/>
<circle cx="640.7" cy="751.1" r="4.9" fill="#5a1a0c" opacity="0.7"/>
</g>
<path d="M657.7,667.4 Q658.8,669.3 659.4,671.4 Q660.0,674.5 661.8,677.1 Q664.2,677.7 666.6,678.5" fill="none" stroke="#80240f" stroke-width="1.32" stroke-linecap="round" stroke-linejoin="round" opacity="0.7"/>
<path d="M601.4,743.0 Q603.2,741.4 604.8,739.7 Q605.6,737.5 607.0,735.5" fill="none" stroke="#80240f" stroke-width="0.81" stroke-linecap="round" stroke-linejoin="round" opacity="0.7"/>
<path d="M584.8,777.6 Q583.3,774.9 583.1,771.8 Q582.2,768.8 582.1,765.7" fill="none" stroke="#b84420" stroke-width="1.38" stroke-linecap="round" stroke-linejoin="round" opacity="0.7"/>
<path d="M649.4,758.4 Q652.2,761.2 654.0,764.7 Q653.5,767.5 653.1,770.2 Q651.5,771.9 650.2,773.8" fill="none" stroke="#a83818" stroke-width="1.44" stroke-linecap="round" stroke-linejoin="round" opacity="0.7"/>
<path d="M653.7,686.9 Q653.2,684.4 653.6,681.9 Q654.8,679.8 655.7,677.6 Q657.3,676.2 659.2,675.3" fill="none" stroke="#80240f" stroke-width="1.59" stroke-linecap="round" stroke-linejoin="round" opacity="0.7"/>
<path d="M607.8,692.3 Q609.7,690.0 612.3,688.5 Q614.5,687.8 616.4,686.6 Q619.4,686.1 622.5,686.3 Q625.7,686.1 628.8,685.5" fill="none" stroke="#983014" stroke-width="1.80" stroke-linecap="round" stroke-linejoin="round" opacity="0.7"/>
<path d="M640.3,676.2 Q642.5,675.4 644.8,675.0 Q647.5,675.1 650.3,675.3" fill="none" stroke="#b84420" stroke-width="1.21" stroke-linecap="round" stroke-linejoin="round" opacity="0.7"/>
<path d="M702.3,779.3 Q705.1,780.5 708.2,781.1 Q710.2,782.1 712.2,782.9" fill="none" stroke="#b84420" stroke-width="1.20" stroke-linecap="round" stroke-linejoin="round" opacity="0.7"/>
<path d="M702.4,766.1 Q700.5,764.4 698.7,762.5 Q697.6,760.5 696.9,758.3" fill="none" stroke="#a83818" stroke-width="1.29" stroke-linecap="round" stroke-linejoin="round" opacity="0.7"/>
<path d="M652.3,729.5 Q653.0,733.1 654.3,736.5 Q657.7,738.0 660.3,740.8 Q663.2,741.0 666.1,740.1 Q669.5,740.6 673.0,740.0" fill="none" stroke="#983014" stroke-width="1.22" stroke-linecap="round" stroke-linejoin="round" opacity="0.7"/>
<path d="M607.4,780.9 Q604.1,779.9 600.9,778.3 Q599.1,776.3 597.5,773.9 Q594.8,771.3 592.0,768.7" fill="none" stroke="#a83818" stroke-width="0.97" stroke-linecap="round" stroke-linejoin="round" opacity="0.7"/>
<path d="M617.2,742.8 Q620.1,744.6 623.5,745.2 Q625.2,744.0 626.7,742.6 Q628.6,740.8 630.4,739.1" fill="none" stroke="#80240f" stroke-width="1.29" stroke-linecap="round" stroke-linejoin="round" opacity="0.7"/>
<path d="M604.5,727.4 Q603.7,730.1 603.2,733.0 Q602.7,736.4 601.7,739.7" fill="none" stroke="#a83818" stroke-width="1.78" stroke-linecap="round" stroke-linejoin="round" opacity="0.7"/>
<path d="M579.9,761.6 Q579.6,759.2 579.2,756.9 Q578.4,754.5 577.1,752.3" fill="none" stroke="#80240f" stroke-width="1.72" stroke-linecap="round" stroke-linejoin="round" opacity="0.7"/>
<path d="M680.4,778.7 Q680.8,782.5 680.1,786.3 Q681.2,789.0 683.0,791.4" fill="none" stroke="#a83818" stroke-width="1.14" stroke-linecap="round" stroke-linejoin="round" opacity="0.7"/>
<path d="M593.9,664.3 Q592.3,667.3 590.1,669.9 Q587.0,671.0 583.9,672.2 Q582.4,674.2 581.9,676.5 Q580.5,678.2 579.5,680.1 Q580.4,682.9 580.2,685.8" fill="none" stroke="#a83818" stroke-width="1.28" stroke-linecap="round" stroke-linejoin="round" opacity="0.7"/>
<path d="M700.9,674.7 Q701.1,677.2 702.2,679.4 Q701.5,681.8 700.6,684.2" fill="none" stroke="#80240f" stroke-width="1.38" stroke-linecap="round" stroke-linejoin="round" opacity="0.7"/>
<path d="M660.2,739.7 Q660.5,743.1 661.7,746.4 Q663.4,749.2 665.6,751.8 Q668.7,753.5 672.1,754.0 Q676.1,754.2 679.6,756.2" fill="none" stroke="#983014" stroke-width="0.78" stroke-linecap="round" stroke-linejoin="round" opacity="0.7"/>
<path d="M639.8,681.7 Q637.1,682.5 634.8,684.0 Q631.4,683.9 628.1,683.4" fill="none" stroke="#a83818" stroke-width="1.79" stroke-linecap="round" stroke-linejoin="round" opacity="0.7"/>
<path d="M661.6,738.3 Q663.7,739.1 666.0,739.2 Q668.3,737.2 670.3,734.7" fill="none" stroke="#b84420" stroke-width="1.37" stroke-linecap="round" stroke-linejoin="round" opacity="0.7"/>
<path d="M599.2,749.0 Q600.5,752.6 603.1,755.3 Q605.0,758.5 607.9,760.7 Q610.0,761.4 611.7,763.0 Q614.5,763.4 617.2,764.4 Q619.2,765.4 620.7,767.1" fill="none" stroke="#983014" stroke-width="1.46" stroke-linecap="round" stroke-linejoin="round" opacity="0.7"/>
<path d="M645.1,775.8 Q643.2,775.0 641.2,774.5 Q639.2,771.1 636.1,768.7 Q632.9,767.5 630.0,765.8" fill="none" stroke="#80240f" stroke-width="1.09" stroke-linecap="round" stroke-linejoin="round" opacity="0.7"/>
<path d="M702.7,764.4 Q706.6,765.2 710.1,767.0 Q710.9,768.8 711.3,770.8 Q713.2,774.2 714.1,778.0" fill="none" stroke="#983014" stroke-width="1.65" stroke-linecap="round" stroke-linejoin="round" opacity="0.7"/>
<path d="M607.7,769.5 Q608.3,771.9 608.2,774.3 Q608.2,776.9 607.6,779.5" fill="none" stroke="#a83818" stroke-width="0.95" stroke-linecap="round" stroke-linejoin="round" opacity="0.7"/>
<path d="M660.5,717.4 Q658.3,718.7 656.0,719.8 Q652.7,722.0 649.4,724.2" fill="none" stroke="#a83818" stroke-width="1.73" stroke-linecap="round" stroke-linejoin="round" opacity="0.7"/>
<path d="M689.7,699.0 Q686.6,700.0 683.8,701.4 Q680.9,701.3 678.4,700.0 Q674.7,700.7 671.3,702.5 Q670.5,705.3 669.7,708.0" fill="none" stroke="#983014" stroke-width="1.59" stroke-linecap="round" stroke-linejoin="round" opacity="0.7"/>
<path d="M620.8,673.4 Q619.7,670.2 617.7,667.6 Q617.9,664.6 618.5,661.6 Q618.2,658.2 618.0,654.9 Q616.1,652.1 614.0,649.6" fill="none" stroke="#983014" stroke-width="1.52" stroke-linecap="round" stroke-linejoin="round" opacity="0.7"/>
<path d="M654.5,704.3 Q652.1,704.5 649.7,704.0 Q647.3,702.9 644.8,702.0" fill="none" stroke="#80240f" stroke-width="1.44" stroke-linecap="round" stroke-linejoin="round" opacity="0.7"/>
<path d="M678.5,792.6 Q676.9,789.7 675.7,786.6 Q672.3,784.8 668.5,783.9" fill="none" stroke="#983014" stroke-width="1.04" stroke-linecap="round" stroke-linejoin="round" opacity="0.7"/>
<path d="M591.6,670.2 Q595.3,669.5 599.1,669.1 Q601.7,669.9 604.4,670.4" fill="none" stroke="#a83818" stroke-width="0.86" stroke-linecap="round" stroke-linejoin="round" opacity="0.7"/>
<path d="M691.8,779.3 Q693.0,775.9 694.8,772.8 Q696.2,770.0 698.5,767.9 Q698.8,765.6 699.1,763.4 Q699.6,760.3 699.7,757.2 Q701.0,754.6 703.0,752.5" fill="none" stroke="#80240f" stroke-width="1.68" stroke-linecap="round" stroke-linejoin="round" opacity="0.7"/>
<path d="M683.4,737.4 Q686.0,735.1 689.2,733.6 Q691.6,731.0 694.0,728.3 Q694.7,725.5 696.0,722.9 Q695.9,720.3 696.7,717.7 Q695.8,715.6 694.6,713.7" fill="none" stroke="#983014" stroke-width="0.87" stroke-linecap="round" stroke-linejoin="round" opacity="0.7"/>
<path d="M580.4,718.6 Q577.3,720.4 574.3,722.6 Q570.4,723.1 567.1,725.2 Q564.0,724.8 560.9,724.5 Q559.2,722.5 557.4,720.6 Q557.2,717.0 557.0,713.3" fill="none" stroke="#983014" stroke-width="1.51" stroke-linecap="round" stroke-linejoin="round" opacity="0.7"/>
<path d="M637.4,700.6 Q634.3,701.8 631.3,703.4 Q629.9,705.9 629.4,708.8 Q628.7,710.7 628.1,712.7 Q627.3,714.6 626.3,716.4 Q626.6,719.3 628.1,721.8" fill="none" stroke="#983014" stroke-width="1.12" stroke-linecap="round" stroke-linejoin="round" opacity="0.7"/>
<path d="M632.9,709.2 Q636.4,708.1 639.6,706.3 Q640.2,704.3 640.8,702.4 Q643.4,701.5 646.0,700.9 Q649.2,701.9 652.0,703.6" fill="none" stroke="#983014" stroke-width="1.74" stroke-linecap="round" stroke-linejoin="round" opacity="0.7"/>
<path d="M684.6,747.3 Q683.9,750.3 683.9,753.4 Q682.8,756.8 682.6,760.3 Q681.8,763.7 682.2,767.2 Q680.5,770.7 680.1,774.6 Q681.8,776.5 683.3,778.7" fill="none" stroke="#80240f" stroke-width="1.75" stroke-linecap="round" stroke-linejoin="round" opacity="0.7"/>
<path d="M698.3,690.6 Q694.8,691.1 691.3,690.4 Q689.2,689.7 687.7,688.1 Q686.9,685.5 686.1,682.9" fill="none" stroke="#b84420" stroke-width="1.11" stroke-linecap="round" stroke-linejoin="round" opacity="0.7"/>
<path d="M573.5,720.3 Q571.1,718.0 569.6,715.2 Q569.2,712.3 569.4,709.4 Q571.4,707.9 573.8,707.0 Q576.6,706.1 579.4,705.0 Q581.9,705.1 584.3,706.0" fill="none" stroke="#a83818" stroke-width="1.61" stroke-linecap="round" stroke-linejoin="round" opacity="0.7"/>
<path d="M609.3,724.4 Q608.4,721.5 607.1,718.9 Q605.9,716.4 604.2,714.3 Q601.4,712.9 599.2,710.5 Q597.4,708.1 595.0,706.2 Q592.2,705.7 589.5,705.1" fill="none" stroke="#80240f" stroke-width="0.96" stroke-linecap="round" stroke-linejoin="round" opacity="0.7"/>
<path d="M658.6,729.8 Q658.3,727.0 657.4,724.3 Q657.3,721.6 657.3,718.8" fill="none" stroke="#b84420" stroke-width="1.08" stroke-linecap="round" stroke-linejoin="round" opacity="0.7"/>
<path d="M619.1,724.8 Q619.8,727.1 621.3,728.9 Q623.3,731.8 626.1,734.1 Q629.0,734.6 631.8,735.6" fill="none" stroke="#b84420" stroke-width="1.77" stroke-linecap="round" stroke-linejoin="round" opacity="0.7"/>
<path d="M703.6,775.6 Q704.2,777.5 704.7,779.5 Q707.1,782.6 709.4,785.8 Q709.9,788.0 709.8,790.2 Q709.6,794.0 709.1,797.7" fill="none" stroke="#80240f" stroke-width="1.22" stroke-linecap="round" stroke-linejoin="round" opacity="0.7"/>
<path d="M617.6,793.4 Q618.9,795.0 620.3,796.7 Q622.0,799.6 624.6,801.8 Q625.8,805.5 628.2,808.5 Q631.0,809.9 633.9,811.0 Q636.7,812.6 639.0,814.9" fill="none" stroke="#80240f" stroke-width="1.12" stroke-linecap="round" stroke-linejoin="round" opacity="0.7"/>
<path d="M611.8,742.9 Q608.4,743.7 605.0,743.2 Q602.7,744.1 600.3,744.6" fill="none" stroke="#983014" stroke-width="0.87" stroke-linecap="round" stroke-linejoin="round" opacity="0.7"/>
<path d="M646.0,685.0 Q644.6,687.0 642.8,688.7 Q640.1,689.8 637.3,690.5 Q634.2,688.7 631.3,686.5 Q629.0,683.4 626.5,680.4 Q624.6,677.8 623.8,674.6" fill="none" stroke="#a83818" stroke-width="1.61" stroke-linecap="round" stroke-linejoin="round" opacity="0.7"/>
<path d="M579.8,770.2 Q577.2,768.8 574.4,767.9 Q571.9,767.6 569.4,767.2 Q566.2,767.0 563.3,765.7 Q561.1,763.3 558.2,762.1" fill="none" stroke="#a83818" stroke-width="0.95" stroke-linecap="round" stroke-linejoin="round" opacity="0.7"/>
<path d="M706.1,754.1 Q704.8,756.0 703.5,758.0 Q702.2,760.2 700.1,761.7" fill="none" stroke="#80240f" stroke-width="1.18" stroke-linecap="round" stroke-linejoin="round" opacity="0.7"/>
<path d="M702.0,727.0 Q698.5,728.0 695.1,729.5 Q692.5,729.7 690.1,728.9 Q688.1,726.4 686.1,724.1 Q683.8,722.8 682.2,720.7" fill="none" stroke="#a83818" stroke-width="1.14" stroke-linecap="round" stroke-linejoin="round" opacity="0.7"/>
<path d="M660.2,736.7 Q657.4,738.3 654.5,739.9 Q652.8,741.1 651.4,742.7 Q651.2,745.2 650.1,747.6" fill="none" stroke="#a83818" stroke-width="1.23" stroke-linecap="round" stroke-linejoin="round" opacity="0.7"/>
<path d="M702.6,745.6 Q703.4,747.4 704.4,749.2 Q707.4,751.3 711.0,752.1 Q712.7,755.0 715.1,757.2" fill="none" stroke="#b84420" stroke-width="1.73" stroke-linecap="round" stroke-linejoin="round" opacity="0.7"/>
<path d="M640.2,700.6 Q640.4,697.5 640.3,694.4 Q642.3,692.2 645.0,690.7 Q647.5,691.1 649.8,692.1 Q653.6,693.1 657.3,694.1 Q659.0,696.1 661.0,697.6" fill="none" stroke="#80240f" stroke-width="1.35" stroke-linecap="round" stroke-linejoin="round" opacity="0.7"/>
<path d="M688.1,723.8 Q685.0,723.9 681.9,724.0 Q679.7,724.8 677.4,725.3 Q674.9,725.4 672.5,725.0 Q669.7,727.0 666.5,728.5" fill="none" stroke="#80240f" stroke-width="1.59" stroke-linecap="round" stroke-linejoin="round" opacity="0.7"/>
<path d="M704.6,770.2 Q703.4,768.5 702.2,766.8 Q700.6,763.5 700.1,759.7 Q699.4,756.8 698.6,753.8" fill="none" stroke="#80240f" stroke-width="1.49" stroke-linecap="round" stroke-linejoin="round" opacity="0.7"/>
<path d="M688.9,794.0 Q692.2,794.6 695.4,795.6 Q697.6,798.6 698.7,802.2 Q700.0,804.5 700.8,807.0 Q700.2,810.7 701.2,814.3" fill="none" stroke="#b84420" stroke-width="0.78" stroke-linecap="round" stroke-linejoin="round" opacity="0.7"/>
<path d="M705.9,764.1 Q702.5,763.9 699.2,764.9 Q697.6,767.0 697.0,769.5" fill="none" stroke="#a83818" stroke-width="1.06" stroke-linecap="round" stroke-linejoin="round" opacity="0.7"/>
<path d="M611.2,714.2 Q613.1,717.3 615.7,719.7 Q619.5,719.6 623.2,720.0 Q626.7,718.5 629.7,716.1 Q631.5,714.3 632.8,712.2 Q631.8,708.8 632.0,705.2" fill="none" stroke="#983014" stroke-width="1.45" stroke-linecap="round" stroke-linejoin="round" opacity="0.7"/>
<path d="M581.7,790.7 Q584.5,791.2 587.4,791.0 Q589.4,792.3 591.5,793.4 Q593.8,794.4 596.0,795.6 Q599.2,798.0 602.8,799.7" fill="none" stroke="#80240f" stroke-width="1.78" stroke-linecap="round" stroke-linejoin="round" opacity="0.7"/>
<path d="M608.7,739.8 Q609.8,736.5 611.9,733.7 Q615.4,733.0 618.6,731.4" fill="none" stroke="#983014" stroke-width="1.58" stroke-linecap="round" stroke-linejoin="round" opacity="0.7"/>
<path d="M657.4,747.2 Q656.5,743.5 656.2,739.7 Q655.0,737.1 653.9,734.4 Q654.1,732.2 653.8,730.1" fill="none" stroke="#983014" stroke-width="1.52" stroke-linecap="round" stroke-linejoin="round" opacity="0.7"/>
<path d="M598.8,769.4 Q601.7,766.9 605.2,765.3 Q607.5,762.5 609.9,759.7 Q613.2,758.6 616.3,757.0 Q617.8,753.4 618.2,749.5" fill="none" stroke="#80240f" stroke-width="1.76" stroke-linecap="round" stroke-linejoin="round" opacity="0.7"/>
<path d="M701.8,771.8 Q702.3,774.9 702.8,777.9 Q702.4,781.2 701.8,784.5 Q699.0,787.2 697.4,790.8 Q697.5,792.8 696.9,794.8 Q695.4,798.3 694.8,802.1" fill="none" stroke="#80240f" stroke-width="0.77" stroke-linecap="round" stroke-linejoin="round" opacity="0.7"/>
<path d="M694.0,704.5 Q693.7,706.5 692.4,708.2 Q692.6,710.7 692.7,713.2 Q693.3,715.8 692.9,718.5" fill="none" stroke="#80240f" stroke-width="1.47" stroke-linecap="round" stroke-linejoin="round" opacity="0.7"/>
<path d="M650.7,761.4 Q653.9,761.0 657.1,761.9 Q660.4,761.5 663.6,760.2" fill="none" stroke="#983014" stroke-width="1.19" stroke-linecap="round" stroke-linejoin="round" opacity="0.7"/>
<path d="M686.8,677.3 Q684.4,676.4 682.6,674.6 Q682.7,670.9 681.5,667.5 Q679.1,665.3 677.7,662.3 Q675.2,661.4 673.3,659.6" fill="none" stroke="#983014" stroke-width="1.57" stroke-linecap="round" stroke-linejoin="round" opacity="0.7"/>
<path d="M581.0,766.5 Q580.3,768.9 579.0,771.0 Q576.2,772.6 573.8,774.6 Q569.9,774.0 566.0,773.2" fill="none" stroke="#a83818" stroke-width="1.58" stroke-linecap="round" stroke-linejoin="round" opacity="0.7"/>
<path d="M660.6,667.5 Q662.6,668.0 664.6,668.0 Q666.9,666.4 668.5,664.0 Q668.0,661.2 667.1,658.4" fill="none" stroke="#80240f" stroke-width="1.35" stroke-linecap="round" stroke-linejoin="round" opacity="0.7"/>
<path d="M639.5,790.7 Q643.4,791.5 647.2,790.7 Q649.9,790.0 652.7,789.8 Q656.5,789.5 660.0,787.8 Q661.0,784.7 660.9,781.5" fill="none" stroke="#b84420" stroke-width="1.00" stroke-linecap="round" stroke-linejoin="round" opacity="0.7"/>
<path d="M623.0,744.1 Q624.4,747.1 624.9,750.5 Q624.3,754.0 623.1,757.3 Q623.6,760.2 624.7,762.9 Q626.6,765.1 628.7,767.2 Q631.5,767.4 634.3,768.0" fill="none" stroke="#983014" stroke-width="1.11" stroke-linecap="round" stroke-linejoin="round" opacity="0.7"/>
<path d="M664.1,727.6 Q666.3,727.2 668.5,727.3 Q671.0,729.1 673.4,731.1" fill="none" stroke="#b84420" stroke-width="1.32" stroke-linecap="round" stroke-linejoin="round" opacity="0.7"/>
<path d="M661.8,719.0 Q665.3,718.6 668.6,719.6 Q671.0,720.8 673.3,722.2 Q676.6,722.3 679.8,721.5 Q682.0,718.6 683.9,715.4 Q686.5,713.7 689.5,712.7" fill="none" stroke="#a83818" stroke-width="1.63" stroke-linecap="round" stroke-linejoin="round" opacity="0.7"/>
<path d="M653.6,752.1 Q650.9,750.1 647.9,748.6 Q645.9,748.2 644.1,747.2" fill="none" stroke="#80240f" stroke-width="1.32" stroke-linecap="round" stroke-linejoin="round" opacity="0.7"/>
<path d="M581.2,763.3 Q583.5,763.9 585.9,764.4 Q588.6,764.1 591.3,764.4" fill="none" stroke="#a83818" stroke-width="1.55" stroke-linecap="round" stroke-linejoin="round" opacity="0.7"/>
<path d="M690.5,684.8 Q691.4,682.5 692.6,680.2 Q693.8,677.6 694.6,674.8" fill="none" stroke="#a83818" stroke-width="1.53" stroke-linecap="round" stroke-linejoin="round" opacity="0.7"/>
<path d="M618.2,678.9 Q617.2,676.5 615.6,674.4 Q616.0,672.3 615.9,670.2 Q618.3,667.6 621.3,665.7 Q622.6,663.9 623.9,662.0 Q624.9,660.0 626.0,658.1" fill="none" stroke="#b84420" stroke-width="0.95" stroke-linecap="round" stroke-linejoin="round" opacity="0.7"/>
<path d="M581.5,779.5 Q583.6,779.9 585.8,779.9 Q588.6,779.7 591.4,779.7" fill="none" stroke="#80240f" stroke-width="1.02" stroke-linecap="round" stroke-linejoin="round" opacity="0.7"/>
<path d="M574.6,707.5 Q577.7,705.2 579.7,701.9 Q582.0,700.9 584.3,700.2 Q587.0,699.4 589.5,698.2 Q591.5,696.4 592.8,694.1 Q594.0,692.2 595.2,690.3" fill="none" stroke="#b84420" stroke-width="1.70" stroke-linecap="round" stroke-linejoin="round" opacity="0.7"/>
<path d="M619.0,792.4 Q616.9,791.4 614.7,791.0 Q611.3,789.8 608.2,788.2 Q604.7,788.5 601.2,788.8" fill="none" stroke="#80240f" stroke-width="1.53" stroke-linecap="round" stroke-linejoin="round" opacity="0.7"/>
<path d="M663.3,782.2 Q663.3,778.9 662.2,775.9 Q659.7,774.6 656.9,773.8 Q654.8,774.0 652.7,774.3 Q650.1,775.5 648.2,777.7" fill="none" stroke="#a83818" stroke-width="1.61" stroke-linecap="round" stroke-linejoin="round" opacity="0.7"/>
<path d="M658.4,795.0 Q661.2,796.5 663.4,798.6 Q663.7,801.5 663.2,804.3 Q662.0,806.7 660.9,809.1 Q661.3,811.2 662.4,813.0 Q662.0,815.7 661.0,818.2" fill="none" stroke="#983014" stroke-width="1.26" stroke-linecap="round" stroke-linejoin="round" opacity="0.7"/>
<path d="M577.1,758.8 Q580.7,757.7 584.3,756.2 Q587.6,756.5 590.8,755.5 Q593.5,755.2 596.1,754.6" fill="none" stroke="#80240f" stroke-width="1.31" stroke-linecap="round" stroke-linejoin="round" opacity="0.7"/>
<path d="M610.0,761.0 Q607.5,759.0 604.6,757.9 Q600.7,757.5 596.9,756.5 Q593.7,756.2 590.8,754.8" fill="none" stroke="#80240f" stroke-width="1.04" stroke-linecap="round" stroke-linejoin="round" opacity="0.7"/>
<path d="M658.3,708.0 Q659.7,710.5 661.3,712.8 Q663.2,714.3 665.3,715.3" fill="none" stroke="#80240f" stroke-width="1.74" stroke-linecap="round" stroke-linejoin="round" opacity="0.7"/>
<path d="M597.6,798.0 Q597.6,800.2 597.0,802.3 Q594.1,804.8 592.4,808.1 Q591.9,811.6 592.5,815.1 Q593.4,817.3 593.6,819.6" fill="none" stroke="#983014" stroke-width="1.55" stroke-linecap="round" stroke-linejoin="round" opacity="0.7"/>
<path d="M668.7,669.9 Q665.5,669.9 662.4,669.2 Q660.5,667.5 658.4,666.4 Q657.5,662.9 658.0,659.3" fill="none" stroke="#80240f" stroke-width="0.91" stroke-linecap="round" stroke-linejoin="round" opacity="0.7"/>
<path d="M633.8,701.8 Q630.2,701.4 626.8,700.1 Q624.4,700.8 622.0,701.2 Q619.3,699.6 616.2,699.1 Q613.6,696.5 610.5,694.5 Q609.3,692.3 608.9,689.7" fill="none" stroke="#80240f" stroke-width="0.86" stroke-linecap="round" stroke-linejoin="round" opacity="0.7"/>
<path d="M584.1,786.0 Q586.8,785.0 589.3,783.7 Q591.4,781.9 592.7,779.5 Q592.7,776.8 591.8,774.4 Q591.9,771.7 591.1,769.1" fill="none" stroke="#80240f" stroke-width="0.74" stroke-linecap="round" stroke-linejoin="round" opacity="0.7"/>
<path d="M665.4,682.6 Q665.1,678.8 663.2,675.5 Q661.3,674.2 659.9,672.4 Q658.8,669.8 658.3,667.0 Q656.9,665.2 655.2,663.8 Q653.3,661.2 650.5,659.5" fill="none" stroke="#80240f" stroke-width="1.62" stroke-linecap="round" stroke-linejoin="round" opacity="0.7"/>
<path d="M652.0,666.2 Q649.7,665.0 647.1,664.9 Q644.1,665.6 641.3,667.1 Q638.3,667.7 635.5,668.7" fill="none" stroke="#a83818" stroke-width="1.75" stroke-linecap="round" stroke-linejoin="round" opacity="0.7"/>
<path d="M624.3,727.0 Q622.4,726.2 620.8,724.9 Q617.6,723.6 614.6,721.9 Q612.7,719.0 610.4,716.4 Q607.3,716.4 604.3,715.4" fill="none" stroke="#80240f" stroke-width="0.89" stroke-linecap="round" stroke-linejoin="round" opacity="0.7"/>
<path d="M703.6,728.1 Q706.9,729.4 710.3,730.5 Q712.4,730.4 714.4,729.7 Q716.0,726.2 717.6,722.7" fill="none" stroke="#80240f" stroke-width="1.79" stroke-linecap="round" stroke-linejoin="round" opacity="0.7"/>
<path d="M605.8,764.9 Q605.3,767.0 604.4,768.9 Q604.4,772.5 604.5,776.1 Q605.1,778.9 604.6,781.7 Q604.8,784.1 604.7,786.4" fill="none" stroke="#b84420" stroke-width="1.10" stroke-linecap="round" stroke-linejoin="round" opacity="0.7"/>
<path d="M679.5,761.4 Q681.7,762.9 684.3,763.4 Q686.6,764.6 688.8,766.1 Q691.8,767.5 695.0,768.6" fill="none" stroke="#b84420" stroke-width="0.75" stroke-linecap="round" stroke-linejoin="round" opacity="0.7"/>
<path d="M654.4,722.3 Q651.2,721.9 647.9,722.0 Q645.0,720.3 643.0,717.5" fill="none" stroke="#80240f" stroke-width="0.86" stroke-linecap="round" stroke-linejoin="round" opacity="0.7"/>
<path d="M576.5,673.0 Q576.2,669.1 574.4,665.7 Q571.8,664.4 569.0,663.4 Q566.9,662.9 564.8,663.1 Q562.3,663.9 560.0,665.3" fill="none" stroke="#a83818" stroke-width="1.76" stroke-linecap="round" stroke-linejoin="round" opacity="0.7"/>
<path d="M670.7,730.9 Q669.6,733.2 668.7,735.5 Q666.2,736.2 663.7,736.0" fill="none" stroke="#a83818" stroke-width="1.24" stroke-linecap="round" stroke-linejoin="round" opacity="0.7"/>
<path d="M590.0,673.9 Q588.6,677.2 585.9,679.7 Q582.6,679.2 579.5,678.2 Q577.1,677.1 574.6,676.5 Q571.4,677.8 568.1,678.5 Q566.1,680.4 564.8,682.8" fill="none" stroke="#983014" stroke-width="1.78" stroke-linecap="round" stroke-linejoin="round" opacity="0.7"/>
<path d="M603.6,730.2 Q601.3,733.4 600.1,737.2 Q598.3,738.3 596.6,739.6 Q593.8,740.4 591.0,741.5 Q588.2,743.0 586.2,745.4" fill="none" stroke="#a83818" stroke-width="1.05" stroke-linecap="round" stroke-linejoin="round" opacity="0.7"/>
<path d="M632.3,755.1 Q630.3,756.2 628.3,757.3 Q624.7,756.7 621.1,756.0 Q618.8,756.4 616.5,755.8" fill="none" stroke="#b84420" stroke-width="0.95" stroke-linecap="round" stroke-linejoin="round" opacity="0.7"/>
<path d="M685.5,697.6 Q682.9,697.1 680.4,696.6 Q678.1,696.1 676.2,694.8 Q672.9,694.8 669.6,694.2 Q666.2,692.9 662.8,691.4" fill="none" stroke="#a83818" stroke-width="1.61" stroke-linecap="round" stroke-linejoin="round" opacity="0.7"/>
<path d="M582.7,791.1 Q584.1,787.9 585.2,784.5 Q586.9,782.0 588.8,779.7 Q590.0,776.0 591.2,772.2 Q593.7,770.0 595.8,767.4" fill="none" stroke="#a83818" stroke-width="0.78" stroke-linecap="round" stroke-linejoin="round" opacity="0.7"/>
<path d="M593.0,719.7 Q590.4,719.8 587.8,719.3 Q584.7,717.3 582.8,714.1 Q580.2,713.2 577.7,712.1 Q574.8,711.9 571.8,712.2" fill="none" stroke="#a83818" stroke-width="0.97" stroke-linecap="round" stroke-linejoin="round" opacity="0.7"/>
<path d="M578.6,790.7 Q579.6,787.1 579.4,783.4 Q578.3,780.4 576.8,777.7 Q576.6,774.7 576.5,771.7 Q576.4,769.1 575.2,766.7 Q576.2,763.9 578.3,761.7" fill="none" stroke="#b84420" stroke-width="0.94" stroke-linecap="round" stroke-linejoin="round" opacity="0.7"/>
<path d="M578.3,701.7 Q576.4,701.2 574.4,701.5 Q572.6,703.3 571.0,705.3 Q570.0,707.1 569.9,709.2 Q569.3,711.9 569.3,714.6 Q569.9,717.4 570.3,720.3" fill="none" stroke="#a83818" stroke-width="1.61" stroke-linecap="round" stroke-linejoin="round" opacity="0.7"/>
<path d="M589.1,677.0 Q587.0,678.7 585.5,681.0 Q583.6,683.1 582.7,685.7 Q584.4,688.7 585.2,692.1 Q585.6,694.3 585.2,696.6" fill="none" stroke="#b84420" stroke-width="0.85" stroke-linecap="round" stroke-linejoin="round" opacity="0.7"/>
<path d="M593.6,796.7 Q593.9,793.7 594.3,790.7 Q594.6,787.6 594.8,784.5 Q592.9,782.7 590.4,781.6 Q587.9,780.9 585.8,779.3" fill="none" stroke="#a83818" stroke-width="1.66" stroke-linecap="round" stroke-linejoin="round" opacity="0.7"/>
<path d="M652.0,699.6 Q651.4,696.5 649.9,693.7 Q649.1,690.5 649.2,687.3 Q647.4,684.5 644.5,682.7" fill="none" stroke="#a83818" stroke-width="1.74" stroke-linecap="round" stroke-linejoin="round" opacity="0.7"/>
<path d="M597.4,723.1 Q594.7,723.6 591.8,723.3 Q589.3,720.6 587.5,717.3 Q585.3,716.7 583.0,716.7 Q579.8,717.8 576.7,718.7 Q574.8,720.1 572.5,720.7" fill="none" stroke="#b84420" stroke-width="1.08" stroke-linecap="round" stroke-linejoin="round" opacity="0.7"/>
<path d="M662.6,780.3 Q662.1,777.9 661.0,775.8 Q660.1,773.5 660.3,771.1 Q659.5,768.6 658.2,766.4 Q657.7,763.9 656.8,761.4" fill="none" stroke="#b84420" stroke-width="1.73" stroke-linecap="round" stroke-linejoin="round" opacity="0.7"/>
<path d="M610.5,740.8 Q607.9,737.9 606.2,734.4 Q604.3,732.7 602.7,730.6 Q600.5,728.8 597.8,727.6 Q595.6,726.7 593.5,725.7 Q592.3,722.5 590.1,719.8" fill="none" stroke="#983014" stroke-width="1.38" stroke-linecap="round" stroke-linejoin="round" opacity="0.7"/>
<path d="M604.4,753.8 Q602.1,755.4 599.5,756.5 Q598.0,759.7 598.0,763.3 Q597.7,767.1 597.7,771.0" fill="none" stroke="#80240f" stroke-width="1.73" stroke-linecap="round" stroke-linejoin="round" opacity="0.7"/>
<path d="M636.0,690.7 Q637.7,689.5 639.7,688.7 Q642.1,688.5 644.6,688.8 Q646.1,690.2 647.0,692.1 Q649.0,695.1 649.8,698.7" fill="none" stroke="#80240f" stroke-width="0.74" stroke-linecap="round" stroke-linejoin="round" opacity="0.7"/>
<path d="M677.7,689.0 Q679.0,687.4 680.3,685.9 Q680.4,681.9 679.8,678.0 Q681.8,675.7 683.8,673.3 Q687.5,673.1 691.1,672.7" fill="none" stroke="#a83818" stroke-width="0.91" stroke-linecap="round" stroke-linejoin="round" opacity="0.7"/>
<path d="M616.2,762.0 Q613.6,761.8 610.9,762.2 Q608.6,761.7 606.3,761.0 Q603.9,759.6 601.4,758.3" fill="none" stroke="#80240f" stroke-width="1.06" stroke-linecap="round" stroke-linejoin="round" opacity="0.7"/>
<path d="M661.7,688.8 Q661.6,690.8 661.6,692.8 Q661.8,695.3 662.5,697.7 Q662.8,700.9 663.8,703.9 Q665.2,705.9 666.2,708.2" fill="none" stroke="#983014" stroke-width="1.21" stroke-linecap="round" stroke-linejoin="round" opacity="0.7"/>
<path d="M626.3,731.3 Q629.4,730.3 632.7,730.6 Q635.1,730.2 637.4,730.8 Q640.3,731.4 642.6,733.2 Q645.7,734.6 648.1,737.0" fill="none" stroke="#983014" stroke-width="1.53" stroke-linecap="round" stroke-linejoin="round" opacity="0.7"/>
<path d="M674.2,755.2 Q671.8,753.3 669.1,751.8 Q668.5,749.7 668.5,747.4" fill="none" stroke="#983014" stroke-width="1.69" stroke-linecap="round" stroke-linejoin="round" opacity="0.7"/>
<path d="M648.8,684.1 Q649.2,686.4 649.6,688.8 Q651.8,690.8 653.5,693.3 Q655.4,695.7 657.3,698.0 Q660.3,698.2 663.0,699.2 Q665.1,701.1 666.5,703.5" fill="none" stroke="#a83818" stroke-width="1.52" stroke-linecap="round" stroke-linejoin="round" opacity="0.7"/>
<path d="M577.9,710.2 Q578.7,712.1 578.7,714.3 Q580.8,716.2 582.4,718.5" fill="none" stroke="#80240f" stroke-width="1.54" stroke-linecap="round" stroke-linejoin="round" opacity="0.7"/>
<path d="M622.1,783.4 Q619.3,785.2 616.2,786.5 Q613.0,787.6 610.1,789.1 Q608.5,791.7 606.9,794.4 Q604.9,795.8 603.7,797.9 Q604.6,800.3 605.1,802.9" fill="none" stroke="#80240f" stroke-width="1.30" stroke-linecap="round" stroke-linejoin="round" opacity="0.7"/>
<path d="M682.5,697.2 Q682.3,700.9 681.3,704.5 Q683.0,707.3 684.5,710.3 Q683.3,713.9 682.9,717.6 Q684.9,720.1 687.0,722.5" fill="none" stroke="#a83818" stroke-width="1.44" stroke-linecap="round" stroke-linejoin="round" opacity="0.7"/>
<path d="M604.7,669.9 Q601.1,669.7 597.7,670.5 Q595.7,669.1 594.4,667.0 Q593.1,664.1 592.6,661.0" fill="none" stroke="#983014" stroke-width="1.60" stroke-linecap="round" stroke-linejoin="round" opacity="0.7"/>
<path d="M612.4,683.2 Q610.7,681.3 609.1,679.3 Q607.4,676.2 604.9,673.8 Q603.5,671.0 601.1,669.1" fill="none" stroke="#80240f" stroke-width="1.08" stroke-linecap="round" stroke-linejoin="round" opacity="0.7"/>
<path d="M677.4,706.7 Q675.9,708.5 674.4,710.3 Q673.7,712.7 672.4,714.8 Q672.6,717.7 673.9,720.3" fill="none" stroke="#80240f" stroke-width="1.15" stroke-linecap="round" stroke-linejoin="round" opacity="0.7"/>
<path d="M646.7,682.0 Q647.4,684.0 648.3,686.0 Q650.1,688.5 651.1,691.4 Q653.6,692.5 656.0,693.9" fill="none" stroke="#a83818" stroke-width="0.74" stroke-linecap="round" stroke-linejoin="round" opacity="0.7"/>
<path d="M597.1,766.1 Q596.4,762.4 595.1,758.9 Q596.0,757.1 597.5,755.8 Q599.8,756.1 601.6,757.3" fill="none" stroke="#983014" stroke-width="1.23" stroke-linecap="round" stroke-linejoin="round" opacity="0.7"/>
<path d="M665.3,758.3 Q662.3,760.2 659.5,762.4 Q657.2,763.9 655.4,765.9 Q653.3,768.0 652.1,770.8" fill="none" stroke="#80240f" stroke-width="1.78" stroke-linecap="round" stroke-linejoin="round" opacity="0.7"/>
<path d="M674.2,706.9 Q675.5,709.7 677.5,712.1 Q680.0,712.7 682.0,714.2 Q684.1,716.1 686.6,717.4 Q689.4,717.8 691.8,719.0" fill="none" stroke="#b84420" stroke-width="1.25" stroke-linecap="round" stroke-linejoin="round" opacity="0.7"/>
<path d="M606.4,774.1 Q609.7,773.1 612.9,771.7 Q614.4,769.0 615.1,766.0 Q618.3,763.6 622.1,762.7 Q625.7,762.0 628.8,760.0 Q630.9,760.0 632.8,759.1" fill="none" stroke="#983014" stroke-width="0.85" stroke-linecap="round" stroke-linejoin="round" opacity="0.7"/>
<path d="M580.9,684.2 Q582.3,687.2 583.1,690.3 Q583.3,693.3 583.6,696.2 Q586.1,698.0 589.2,698.5 Q591.7,699.1 593.7,700.6 Q597.2,699.8 600.8,699.6" fill="none" stroke="#983014" stroke-width="1.59" stroke-linecap="round" stroke-linejoin="round" opacity="0.7"/>
<path d="M586.2,676.9 Q587.2,679.2 588.5,681.3 Q588.6,683.5 587.7,685.5 Q586.9,687.8 585.8,690.0" fill="none" stroke="#a83818" stroke-width="1.03" stroke-linecap="round" stroke-linejoin="round" opacity="0.7"/>
<path d="M659.7,779.0 Q659.4,776.3 659.0,773.5 Q659.4,770.1 658.5,766.9" fill="none" stroke="#b84420" stroke-width="1.63" stroke-linecap="round" stroke-linejoin="round" opacity="0.7"/>
<path d="M647.9,779.0 Q651.6,779.4 655.3,780.5 Q657.6,781.5 659.4,783.3" fill="none" stroke="#b84420" stroke-width="1.45" stroke-linecap="round" stroke-linejoin="round" opacity="0.7"/>
<path d="M692.7,739.5 Q694.6,738.0 695.9,736.0 Q699.2,734.6 702.9,734.5 Q705.8,733.3 708.8,732.3 Q712.0,733.3 715.1,734.5" fill="none" stroke="#983014" stroke-width="1.12" stroke-linecap="round" stroke-linejoin="round" opacity="0.7"/>
<path d="M678.0,756.4 Q680.8,755.5 683.7,755.5 Q687.0,754.5 690.6,754.9 Q694.1,754.6 697.2,752.9 Q699.7,749.8 702.1,746.7" fill="none" stroke="#80240f" stroke-width="1.09" stroke-linecap="round" stroke-linejoin="round" opacity="0.7"/>
<path d="M629.8,755.1 Q629.7,752.5 628.9,750.0 Q626.7,748.8 624.3,747.8" fill="none" stroke="#983014" stroke-width="1.56" stroke-linecap="round" stroke-linejoin="round" opacity="0.7"/>
<path d="M671.2,706.4 Q671.5,709.3 671.1,712.2 Q672.3,714.0 673.6,715.7" fill="none" stroke="#80240f" stroke-width="1.31" stroke-linecap="round" stroke-linejoin="round" opacity="0.7"/>
<path d="M585.7,676.0 Q584.6,674.3 583.4,672.7 Q582.8,669.3 582.5,665.9 Q584.3,664.1 586.1,662.4 Q588.2,661.4 590.1,660.0" fill="none" stroke="#983014" stroke-width="1.00" stroke-linecap="round" stroke-linejoin="round" opacity="0.7"/>
<path d="M580.3,722.2 Q577.6,722.2 575.1,721.1 Q573.0,719.0 571.2,716.6 Q569.7,714.9 567.6,714.0 Q564.0,713.3 560.3,712.9 Q558.2,710.9 556.0,709.1" fill="none" stroke="#983014" stroke-width="1.61" stroke-linecap="round" stroke-linejoin="round" opacity="0.7"/>
<path d="M612.2,744.8 Q609.7,741.8 608.7,738.0 Q606.7,735.2 604.7,732.5 Q603.5,730.3 602.1,728.3 Q601.9,725.5 600.9,723.0 Q600.0,719.9 599.2,716.8" fill="none" stroke="#a83818" stroke-width="1.45" stroke-linecap="round" stroke-linejoin="round" opacity="0.7"/>
<path d="M699.9,725.9 Q700.9,722.3 700.5,718.7 Q702.2,715.6 704.4,712.7 Q704.5,710.1 704.0,707.6 Q701.9,705.7 699.6,704.0 Q696.8,702.3 694.2,700.5" fill="none" stroke="#80240f" stroke-width="1.29" stroke-linecap="round" stroke-linejoin="round" opacity="0.7"/>
<path d="M644.9,770.0 Q644.9,772.5 644.6,774.9 Q646.0,777.8 647.3,780.8" fill="none" stroke="#80240f" stroke-width="1.41" stroke-linecap="round" stroke-linejoin="round" opacity="0.7"/>
<path d="M701.7,708.4 Q700.3,706.3 699.0,704.2 Q697.3,701.5 695.9,698.7" fill="none" stroke="#80240f" stroke-width="1.19" stroke-linecap="round" stroke-linejoin="round" opacity="0.7"/>
<path d="M634.0,755.1 Q632.8,753.4 631.1,752.3 Q627.5,750.8 623.5,750.5 Q622.0,748.8 620.3,747.3" fill="none" stroke="#983014" stroke-width="1.20" stroke-linecap="round" stroke-linejoin="round" opacity="0.7"/>
<path d="M641.8,710.7 Q644.3,711.4 646.5,712.8 Q650.2,712.3 653.9,712.4 Q656.1,713.1 657.8,714.7 Q660.0,715.4 662.4,715.4 Q666.3,715.8 670.2,715.3" fill="none" stroke="#983014" stroke-width="1.15" stroke-linecap="round" stroke-linejoin="round" opacity="0.7"/>
<path d="M596.9,752.1 Q594.8,754.0 593.7,756.7 Q594.0,759.2 593.9,761.8 Q592.2,764.4 589.8,766.5" fill="none" stroke="#b84420" stroke-width="1.29" stroke-linecap="round" stroke-linejoin="round" opacity="0.7"/>
<path d="M615.6,725.3 Q615.2,728.6 614.5,731.8 Q613.2,734.7 612.3,737.7 Q609.8,739.7 606.8,741.0 Q604.2,741.0 601.6,740.8 Q599.8,742.2 598.6,744.1" fill="none" stroke="#983014" stroke-width="1.04" stroke-linecap="round" stroke-linejoin="round" opacity="0.7"/>
<path d="M622.0,682.9 Q619.6,684.5 617.2,686.0 Q613.8,687.9 610.0,688.4 Q608.3,689.9 606.8,691.7" fill="none" stroke="#80240f" stroke-width="0.91" stroke-linecap="round" stroke-linejoin="round" opacity="0.7"/>
<path d="M655.0,780.0 Q657.1,777.0 660.3,775.1 Q662.8,773.6 665.6,772.6 Q668.8,770.8 672.0,768.9 Q672.6,766.9 673.7,765.2 Q674.0,762.6 674.5,760.1" fill="none" stroke="#80240f" stroke-width="0.89" stroke-linecap="round" stroke-linejoin="round" opacity="0.7"/>
<path d="M647.8,767.5 Q645.3,767.3 642.8,766.9 Q641.2,764.3 640.2,761.3" fill="none" stroke="#80240f" stroke-width="1.54" stroke-linecap="round" stroke-linejoin="round" opacity="0.7"/>
<path d="M645.2,796.6 Q649.1,797.7 653.0,798.7 Q656.6,798.5 660.2,798.2 Q662.7,800.7 665.7,802.6" fill="none" stroke="#b84420" stroke-width="1.59" stroke-linecap="round" stroke-linejoin="round" opacity="0.7"/>
<path d="M687.5,745.8 Q683.9,745.6 680.5,744.4 Q677.7,743.0 675.1,741.4 Q671.2,741.6 667.3,742.5" fill="none" stroke="#a83818" stroke-width="1.33" stroke-linecap="round" stroke-linejoin="round" opacity="0.7"/>
<path d="M590.0,764.5 Q586.5,763.3 582.8,763.3 Q580.8,761.8 579.1,759.9" fill="none" stroke="#80240f" stroke-width="1.61" stroke-linecap="round" stroke-linejoin="round" opacity="0.7"/>
<path d="M637.6,741.4 Q637.8,743.5 637.5,745.6 Q635.8,747.9 633.7,749.7 Q630.1,751.0 626.7,752.4 Q623.8,753.7 620.6,754.0 Q618.7,752.9 617.5,751.1" fill="none" stroke="#b84420" stroke-width="1.40" stroke-linecap="round" stroke-linejoin="round" opacity="0.7"/>
<path d="M686.1,770.6 Q683.1,770.8 680.2,771.4 Q677.6,773.2 675.8,775.7 Q672.4,776.8 668.8,776.6 Q667.0,775.6 665.3,774.3 Q664.6,772.4 664.8,770.4" fill="none" stroke="#80240f" stroke-width="0.87" stroke-linecap="round" stroke-linejoin="round" opacity="0.7"/>
<path d="M571.9,792.4 Q570.9,794.8 569.2,796.7 Q567.0,797.1 564.9,797.7 Q563.3,800.6 561.2,803.2" fill="none" stroke="#b84420" stroke-width="0.76" stroke-linecap="round" stroke-linejoin="round" opacity="0.7"/>
<path d="M669.4,765.2 Q667.4,765.4 665.4,765.6 Q663.6,767.2 661.6,768.6" fill="none" stroke="#b84420" stroke-width="0.71" stroke-linecap="round" stroke-linejoin="round" opacity="0.7"/>
<path d="M681.6,796.4 Q679.5,797.7 678.0,799.6 Q675.9,800.3 673.9,801.3 Q672.0,803.4 669.7,804.8" fill="none" stroke="#983014" stroke-width="1.66" stroke-linecap="round" stroke-linejoin="round" opacity="0.7"/>
<path d="M581.0,739.5 Q578.1,737.6 575.5,735.4 Q572.7,735.2 569.9,734.5 Q568.6,732.8 566.7,731.7" fill="none" stroke="#80240f" stroke-width="1.53" stroke-linecap="round" stroke-linejoin="round" opacity="0.7"/>
<path d="M619.0,721.5 Q618.7,719.4 618.5,717.2 Q618.8,714.0 619.9,711.0 Q622.2,708.1 624.9,705.6" fill="none" stroke="#983014" stroke-width="1.03" stroke-linecap="round" stroke-linejoin="round" opacity="0.7"/>
<path d="M672.3,703.6 Q674.4,704.3 676.5,705.1 Q679.2,706.5 681.0,709.0 Q680.1,712.7 680.5,716.6" fill="none" stroke="#80240f" stroke-width="1.65" stroke-linecap="round" stroke-linejoin="round" opacity="0.7"/>
<path d="M620.9,755.5 Q619.4,754.0 617.6,752.9 Q615.5,753.4 613.4,753.4" fill="none" stroke="#80240f" stroke-width="1.26" stroke-linecap="round" stroke-linejoin="round" opacity="0.7"/>
<path d="M628.7,717.9 Q626.4,716.7 624.1,715.5 Q620.5,715.6 616.9,715.6 Q613.7,716.3 610.4,716.0" fill="none" stroke="#a83818" stroke-width="1.45" stroke-linecap="round" stroke-linejoin="round" opacity="0.7"/>
<path d="M613.5,722.6 Q614.5,720.7 615.4,718.7 Q616.5,715.7 617.0,712.5 Q619.0,709.6 619.9,706.3" fill="none" stroke="#a83818" stroke-width="1.48" stroke-linecap="round" stroke-linejoin="round" opacity="0.7"/>
<path d="M593.8,791.7 Q591.8,792.7 589.6,793.1 Q586.5,795.3 583.0,796.7 Q581.8,800.1 581.2,803.7 Q583.3,806.4 585.1,809.3" fill="none" stroke="#80240f" stroke-width="0.78" stroke-linecap="round" stroke-linejoin="round" opacity="0.7"/>
<path d="M640.4,671.4 Q641.5,669.2 641.8,666.7 Q642.5,663.3 642.5,659.9 Q642.5,657.8 643.1,655.8" fill="none" stroke="#80240f" stroke-width="0.97" stroke-linecap="round" stroke-linejoin="round" opacity="0.7"/>
<path d="M577.0,757.3 Q579.0,758.9 581.4,759.6 Q583.5,760.8 585.7,761.9" fill="none" stroke="#e0c0c0" stroke-width="0.73" stroke-linecap="round" stroke-linejoin="round" opacity="0.55"/>
<path d="M686.3,737.3 Q686.1,735.7 685.3,734.3 Q683.7,733.7 682.0,733.6" fill="none" stroke="#d8a060" stroke-width="0.83" stroke-linecap="round" stroke-linejoin="round" opacity="0.55"/>
<path d="M675.6,744.0 Q674.2,744.8 672.8,745.5 Q672.0,746.9 671.6,748.4 Q671.8,750.0 671.9,751.7" fill="none" stroke="#e0c0c0" stroke-width="0.90" stroke-linecap="round" stroke-linejoin="round" opacity="0.55"/>
<path d="M659.7,751.1 Q662.1,751.8 664.2,753.0 Q666.7,753.5 669.1,753.9 Q670.5,753.1 671.8,752.0" fill="none" stroke="#a0b0d0" stroke-width="0.85" stroke-linecap="round" stroke-linejoin="round" opacity="0.55"/>
<path d="M621.3,688.9 Q620.1,687.3 619.6,685.5 Q619.9,683.4 620.1,681.4 Q620.2,679.3 620.8,677.3" fill="none" stroke="#b0d0e8" stroke-width="0.64" stroke-linecap="round" stroke-linejoin="round" opacity="0.55"/>
<path d="M583.4,753.1 Q585.6,753.7 587.9,754.2 Q589.1,753.3 590.5,752.9" fill="none" stroke="#e07040" stroke-width="0.89" stroke-linecap="round" stroke-linejoin="round" opacity="0.55"/>
<path d="M588.7,666.3 Q587.6,664.3 586.0,662.7 Q585.3,660.6 584.4,658.6" fill="none" stroke="#e07040" stroke-width="0.88" stroke-linecap="round" stroke-linejoin="round" opacity="0.55"/>
<path d="M667.5,676.5 Q668.6,678.7 669.6,681.1 Q671.3,682.7 672.3,684.9 Q673.7,686.4 675.4,687.4" fill="none" stroke="#d8a060" stroke-width="0.57" stroke-linecap="round" stroke-linejoin="round" opacity="0.55"/>
<path d="M666.7,793.3 Q665.2,792.4 663.5,791.8 Q660.5,791.5 657.6,791.9" fill="none" stroke="#e07040" stroke-width="0.68" stroke-linecap="round" stroke-linejoin="round" opacity="0.55"/>
<path d="M584.7,667.2 Q586.9,666.8 589.1,666.4 Q590.4,664.9 591.3,663.0 Q592.1,661.1 592.3,659.0" fill="none" stroke="#d8a060" stroke-width="0.54" stroke-linecap="round" stroke-linejoin="round" opacity="0.55"/>
<path d="M588.5,747.4 Q590.1,748.3 591.8,748.7 Q594.1,748.4 596.4,748.2" fill="none" stroke="#d8a060" stroke-width="0.56" stroke-linecap="round" stroke-linejoin="round" opacity="0.55"/>
<path d="M598.6,669.9 Q596.5,671.6 594.0,672.7 Q592.1,673.5 590.5,674.7 Q590.3,676.5 589.4,678.1" fill="none" stroke="#e0c0c0" stroke-width="0.56" stroke-linecap="round" stroke-linejoin="round" opacity="0.55"/>
<path d="M661.6,704.1 Q659.0,705.4 656.1,706.1 Q653.9,706.7 651.7,707.5" fill="none" stroke="#e0c0c0" stroke-width="0.67" stroke-linecap="round" stroke-linejoin="round" opacity="0.55"/>
<path d="M581.3,746.3 Q581.9,743.9 581.5,741.6 Q579.3,739.8 577.5,737.6 Q577.6,734.7 577.0,732.0" fill="none" stroke="#e0c0c0" stroke-width="0.89" stroke-linecap="round" stroke-linejoin="round" opacity="0.55"/>
<path d="M678.5,772.5 Q680.5,773.3 682.7,773.7" fill="none" stroke="#7090d0" stroke-width="0.64" stroke-linecap="round" stroke-linejoin="round" opacity="0.55"/>
<path d="M665.1,730.8 Q666.9,731.7 668.4,733.1 Q669.5,735.0 670.8,736.7" fill="none" stroke="#d8a060" stroke-width="0.82" stroke-linecap="round" stroke-linejoin="round" opacity="0.55"/>
<path d="M678.1,688.4 Q678.5,690.8 678.8,693.1 Q680.2,694.2 681.2,695.7" fill="none" stroke="#d8a060" stroke-width="0.82" stroke-linecap="round" stroke-linejoin="round" opacity="0.55"/>
<path d="M590.6,756.1 Q589.8,753.4 588.4,750.9 Q587.0,748.4 585.0,746.4 Q582.4,745.4 580.1,743.7" fill="none" stroke="#d8a060" stroke-width="0.71" stroke-linecap="round" stroke-linejoin="round" opacity="0.55"/>
<path d="M585.7,722.4 Q583.9,723.9 582.1,725.5 Q582.0,727.8 581.6,730.1" fill="none" stroke="#e0c0c0" stroke-width="0.72" stroke-linecap="round" stroke-linejoin="round" opacity="0.55"/>
<path d="M658.9,678.3 Q658.2,676.9 656.9,675.8 Q656.0,673.9 654.4,672.4" fill="none" stroke="#7090d0" stroke-width="0.77" stroke-linecap="round" stroke-linejoin="round" opacity="0.55"/>
<path d="M636.2,791.4 Q635.5,794.1 635.8,797.0" fill="none" stroke="#a0b0d0" stroke-width="0.72" stroke-linecap="round" stroke-linejoin="round" opacity="0.55"/>
<path d="M596.7,748.2 Q597.4,749.7 597.9,751.2" fill="none" stroke="#e07040" stroke-width="0.53" stroke-linecap="round" stroke-linejoin="round" opacity="0.55"/>
<path d="M696.6,746.3 Q697.8,747.4 699.3,748.2 Q702.0,747.5 704.8,747.3" fill="none" stroke="#b0d0e8" stroke-width="0.82" stroke-linecap="round" stroke-linejoin="round" opacity="0.55"/>
<path d="M662.8,698.7 Q660.4,699.0 658.0,699.7" fill="none" stroke="#7090d0" stroke-width="0.82" stroke-linecap="round" stroke-linejoin="round" opacity="0.55"/>
<path d="M699.1,758.6 Q697.2,760.0 695.8,762.0 Q694.4,764.3 693.0,766.7" fill="none" stroke="#d8a060" stroke-width="0.51" stroke-linecap="round" stroke-linejoin="round" opacity="0.55"/>
<path d="M631.0,785.1 Q632.5,785.6 634.1,785.6" fill="none" stroke="#a0b0d0" stroke-width="0.51" stroke-linecap="round" stroke-linejoin="round" opacity="0.55"/>
<path d="M701.9,751.8 Q701.7,749.2 700.4,746.9 Q699.1,745.8 697.6,745.3" fill="none" stroke="#e0c0c0" stroke-width="0.50" stroke-linecap="round" stroke-linejoin="round" opacity="0.55"/>
<path d="M652.3,751.9 Q653.9,751.0 655.6,750.4" fill="none" stroke="#7090d0" stroke-width="0.72" stroke-linecap="round" stroke-linejoin="round" opacity="0.55"/>
<path d="M680.7,796.9 Q680.0,798.7 679.5,800.5 Q680.9,802.7 683.0,804.2 Q684.1,805.4 685.2,806.5" fill="none" stroke="#e0c0c0" stroke-width="0.60" stroke-linecap="round" stroke-linejoin="round" opacity="0.55"/>
<path d="M611.9,711.8 Q610.0,712.6 607.9,713.0" fill="none" stroke="#e07040" stroke-width="0.80" stroke-linecap="round" stroke-linejoin="round" opacity="0.55"/>
<path d="M619.2,770.3 Q620.0,772.2 620.8,774.1" fill="none" stroke="#7090d0" stroke-width="0.87" stroke-linecap="round" stroke-linejoin="round" opacity="0.55"/>
<path d="M619.8,792.7 Q621.4,791.2 622.5,789.2 Q623.7,787.8 625.0,786.4" fill="none" stroke="#a0b0d0" stroke-width="0.66" stroke-linecap="round" stroke-linejoin="round" opacity="0.55"/>
<path d="M614.9,678.5 Q616.9,677.9 619.0,677.4 Q620.8,676.9 622.7,676.9 Q624.5,678.1 626.3,679.0" fill="none" stroke="#e07040" stroke-width="0.87" stroke-linecap="round" stroke-linejoin="round" opacity="0.55"/>
<path d="M656.6,666.0 Q656.7,668.4 657.1,670.8 Q657.4,673.0 656.9,675.2 Q656.2,677.0 655.3,678.7" fill="none" stroke="#a0b0d0" stroke-width="0.72" stroke-linecap="round" stroke-linejoin="round" opacity="0.55"/>
<path d="M654.3,759.0 Q653.6,757.6 653.1,756.1 Q650.7,754.4 648.1,752.8 Q647.1,751.2 646.3,749.5" fill="none" stroke="#e07040" stroke-width="0.51" stroke-linecap="round" stroke-linejoin="round" opacity="0.55"/>
<path d="M607.6,687.1 Q604.8,686.3 601.9,686.5 Q599.6,687.6 597.2,688.5 Q594.8,689.2 592.4,689.4" fill="none" stroke="#e0c0c0" stroke-width="0.53" stroke-linecap="round" stroke-linejoin="round" opacity="0.55"/>
<path d="M631.9,712.2 Q634.0,713.8 636.5,714.7 Q638.3,715.4 640.2,715.6" fill="none" stroke="#b0d0e8" stroke-width="0.66" stroke-linecap="round" stroke-linejoin="round" opacity="0.55"/>
<path d="M705.4,743.6 Q706.5,740.8 707.8,738.1 Q709.6,737.4 711.6,737.5 Q713.3,737.8 715.0,737.8" fill="none" stroke="#b0d0e8" stroke-width="0.57" stroke-linecap="round" stroke-linejoin="round" opacity="0.55"/>
<path d="M617.1,761.3 Q618.3,760.3 619.2,759.1 Q619.8,757.5 620.0,755.8" fill="none" stroke="#e0c0c0" stroke-width="0.72" stroke-linecap="round" stroke-linejoin="round" opacity="0.55"/>
<path d="M622.4,708.0 Q619.7,707.1 616.9,706.7 Q615.2,704.5 613.9,702.0" fill="none" stroke="#e07040" stroke-width="0.55" stroke-linecap="round" stroke-linejoin="round" opacity="0.55"/>
<path d="M575.9,796.6 Q577.1,799.1 577.7,801.9" fill="none" stroke="#e07040" stroke-width="0.63" stroke-linecap="round" stroke-linejoin="round" opacity="0.55"/>
<path d="M576.1,717.5 Q577.7,717.7 579.2,718.1 Q580.8,719.6 582.5,720.9 Q582.6,722.8 582.2,724.6" fill="none" stroke="#7090d0" stroke-width="0.82" stroke-linecap="round" stroke-linejoin="round" opacity="0.55"/>
<path d="M584.7,694.5 Q584.3,692.4 583.9,690.3 Q584.1,687.6 584.7,684.9 Q586.1,684.1 587.7,683.9" fill="none" stroke="#a0b0d0" stroke-width="0.60" stroke-linecap="round" stroke-linejoin="round" opacity="0.55"/>
<path d="M654.1,726.9 Q655.5,726.0 656.4,724.8 Q657.0,722.7 658.2,720.9 Q660.5,719.7 663.0,719.0" fill="none" stroke="#e07040" stroke-width="0.70" stroke-linecap="round" stroke-linejoin="round" opacity="0.55"/>
<path d="M692.2,788.8 Q693.4,789.6 694.8,790.2 Q697.0,790.4 699.2,790.0" fill="none" stroke="#e07040" stroke-width="0.72" stroke-linecap="round" stroke-linejoin="round" opacity="0.55"/>
<path d="M633.0,750.4 Q634.3,752.5 635.6,754.6" fill="none" stroke="#7090d0" stroke-width="0.75" stroke-linecap="round" stroke-linejoin="round" opacity="0.55"/>
<path d="M608.1,771.6 Q606.2,772.4 604.2,773.1 Q602.2,773.4 600.3,772.8" fill="none" stroke="#7090d0" stroke-width="0.84" stroke-linecap="round" stroke-linejoin="round" opacity="0.55"/>
<path d="M585.4,797.9 Q584.5,799.8 583.1,801.3 Q580.9,801.4 578.7,800.9" fill="none" stroke="#d8a060" stroke-width="0.90" stroke-linecap="round" stroke-linejoin="round" opacity="0.55"/>
<path d="M663.4,737.9 Q664.9,737.4 666.3,736.4 Q666.5,733.5 666.5,730.7 Q666.4,729.0 667.1,727.4" fill="none" stroke="#d8a060" stroke-width="0.68" stroke-linecap="round" stroke-linejoin="round" opacity="0.55"/>
<path d="M584.0,696.6 Q582.7,697.8 581.0,698.3" fill="none" stroke="#7090d0" stroke-width="0.61" stroke-linecap="round" stroke-linejoin="round" opacity="0.55"/>
<path d="M613.4,665.7 Q613.4,667.4 613.0,669.0 Q611.3,671.4 609.2,673.4" fill="none" stroke="#e0c0c0" stroke-width="0.59" stroke-linecap="round" stroke-linejoin="round" opacity="0.55"/>
<path d="M574.0,780.9 Q575.0,779.6 575.7,778.0" fill="none" stroke="#e0c0c0" stroke-width="0.83" stroke-linecap="round" stroke-linejoin="round" opacity="0.55"/>
<path d="M702.5,690.2 Q703.6,691.4 704.4,692.8 Q706.1,693.9 707.7,695.1" fill="none" stroke="#7090d0" stroke-width="0.61" stroke-linecap="round" stroke-linejoin="round" opacity="0.55"/>
<path d="M669.4,745.5 Q670.4,747.1 671.9,748.3 Q672.9,749.5 674.0,750.6" fill="none" stroke="#d8a060" stroke-width="0.58" stroke-linecap="round" stroke-linejoin="round" opacity="0.55"/>
<path d="M626.1,775.7 Q624.9,773.5 623.9,771.3 Q623.3,769.3 622.2,767.6 Q620.6,767.3 619.2,766.5" fill="none" stroke="#b0d0e8" stroke-width="0.65" stroke-linecap="round" stroke-linejoin="round" opacity="0.55"/>
<path d="M578.2,666.1 Q580.1,663.9 582.7,662.5 Q583.7,660.2 584.4,657.7 Q584.4,656.1 584.3,654.6" fill="none" stroke="#b0d0e8" stroke-width="0.64" stroke-linecap="round" stroke-linejoin="round" opacity="0.55"/>
<path d="M683.9,751.2 Q685.8,751.1 687.6,751.0 Q688.9,749.3 689.4,747.1" fill="none" stroke="#b0d0e8" stroke-width="0.58" stroke-linecap="round" stroke-linejoin="round" opacity="0.55"/>
<path d="M702.1,779.0 Q702.7,781.7 703.2,784.4 Q702.9,786.1 702.8,787.7 Q702.8,790.1 703.6,792.4" fill="none" stroke="#d8a060" stroke-width="0.80" stroke-linecap="round" stroke-linejoin="round" opacity="0.55"/>
<path d="M704.6,783.1 Q704.6,784.6 704.7,786.2 Q704.0,788.3 703.9,790.5" fill="none" stroke="#a0b0d0" stroke-width="0.87" stroke-linecap="round" stroke-linejoin="round" opacity="0.55"/>
<path d="M672.8,715.4 Q670.6,715.3 668.4,714.9 Q666.4,713.6 664.4,712.4" fill="none" stroke="#e0c0c0" stroke-width="0.83" stroke-linecap="round" stroke-linejoin="round" opacity="0.55"/>
<path d="M579.4,664.1 Q578.4,665.7 578.1,667.5 Q576.5,668.8 574.7,669.5" fill="none" stroke="#e07040" stroke-width="0.77" stroke-linecap="round" stroke-linejoin="round" opacity="0.55"/>
<path d="M667.3,784.3 Q665.0,786.2 662.5,787.6 Q660.0,787.8 657.5,788.3" fill="none" stroke="#e07040" stroke-width="0.51" stroke-linecap="round" stroke-linejoin="round" opacity="0.55"/>
<path d="M584.8,758.2 Q582.9,756.0 581.8,753.3" fill="none" stroke="#b0d0e8" stroke-width="0.74" stroke-linecap="round" stroke-linejoin="round" opacity="0.55"/>
<path d="M641.5,776.7 Q642.9,777.4 644.2,778.1 Q645.8,778.8 647.2,780.0 Q649.7,779.7 652.1,778.9" fill="none" stroke="#7090d0" stroke-width="0.53" stroke-linecap="round" stroke-linejoin="round" opacity="0.55"/>
<path d="M622.8,664.9 Q621.2,664.3 619.6,664.3" fill="none" stroke="#e07040" stroke-width="0.52" stroke-linecap="round" stroke-linejoin="round" opacity="0.55"/>
<path d="M655.2,771.0 Q654.4,769.0 652.9,767.4" fill="none" stroke="#a0b0d0" stroke-width="0.76" stroke-linecap="round" stroke-linejoin="round" opacity="0.55"/>
<path d="M641.4,707.5 Q642.4,709.7 642.5,712.0" fill="none" stroke="#d8a060" stroke-width="0.71" stroke-linecap="round" stroke-linejoin="round" opacity="0.55"/>
<path d="M656.2,753.1 Q658.2,755.0 660.5,756.5 Q660.8,758.3 661.5,760.0" fill="none" stroke="#b0d0e8" stroke-width="0.75" stroke-linecap="round" stroke-linejoin="round" opacity="0.55"/>
<path d="M625.4,701.2 Q626.2,703.1 627.6,704.6" fill="none" stroke="#a0b0d0" stroke-width="0.62" stroke-linecap="round" stroke-linejoin="round" opacity="0.55"/>
<path d="M689.2,724.9 Q687.4,723.6 685.3,723.1" fill="none" stroke="#a0b0d0" stroke-width="0.72" stroke-linecap="round" stroke-linejoin="round" opacity="0.55"/>
<path d="M597.1,721.0 Q594.7,719.3 592.2,717.6 Q589.8,716.8 588.0,715.1 Q586.2,715.3 584.6,716.0" fill="none" stroke="#7090d0" stroke-width="0.73" stroke-linecap="round" stroke-linejoin="round" opacity="0.55"/>
<path d="M616.9,773.9 Q617.9,775.0 619.3,775.6" fill="none" stroke="#b0d0e8" stroke-width="0.51" stroke-linecap="round" stroke-linejoin="round" opacity="0.55"/>
<path d="M646.8,686.0 Q648.2,687.1 649.8,687.9 Q650.6,689.6 651.1,691.4" fill="none" stroke="#d8a060" stroke-width="0.53" stroke-linecap="round" stroke-linejoin="round" opacity="0.55"/>
<path d="M576.8,701.0 Q578.3,700.4 579.9,700.3 Q581.8,699.5 583.8,699.1 Q585.9,699.4 588.1,699.2" fill="none" stroke="#b0d0e8" stroke-width="0.68" stroke-linecap="round" stroke-linejoin="round" opacity="0.55"/>
<path d="M653.6,699.9 Q653.3,702.8 654.3,705.6 Q656.3,707.6 657.9,709.9 Q659.5,710.4 661.3,710.8" fill="none" stroke="#e0c0c0" stroke-width="0.70" stroke-linecap="round" stroke-linejoin="round" opacity="0.55"/>
<path d="M614.7,792.3 Q614.0,794.6 612.8,796.9" fill="none" stroke="#a0b0d0" stroke-width="0.82" stroke-linecap="round" stroke-linejoin="round" opacity="0.55"/>
<path d="M588.6,762.6 Q586.1,762.9 583.7,763.5 Q582.1,764.2 580.4,764.4" fill="none" stroke="#d8a060" stroke-width="0.60" stroke-linecap="round" stroke-linejoin="round" opacity="0.55"/>
<path d="M630.9,744.3 Q628.8,743.4 626.9,742.2 Q625.5,741.5 624.0,740.7 Q622.7,739.9 621.2,739.7" fill="none" stroke="#a0b0d0" stroke-width="0.89" stroke-linecap="round" stroke-linejoin="round" opacity="0.55"/>
<path d="M702.2,694.9 Q700.6,692.7 699.0,690.5" fill="none" stroke="#b0d0e8" stroke-width="0.80" stroke-linecap="round" stroke-linejoin="round" opacity="0.55"/>
<path d="M605.4,692.5 Q603.6,693.7 601.8,695.0 Q601.4,697.2 600.9,699.3" fill="none" stroke="#b0d0e8" stroke-width="0.84" stroke-linecap="round" stroke-linejoin="round" opacity="0.55"/>
<path d="M652.0,705.1 Q651.3,707.7 649.6,709.7" fill="none" stroke="#d8a060" stroke-width="0.54" stroke-linecap="round" stroke-linejoin="round" opacity="0.55"/>
<path d="M643.3,788.4 Q641.5,787.5 639.9,786.1 Q638.8,784.1 638.0,782.0 Q638.7,780.4 638.9,778.7" fill="none" stroke="#a0b0d0" stroke-width="0.62" stroke-linecap="round" stroke-linejoin="round" opacity="0.55"/>
<path d="M673.8,699.9 Q674.0,696.9 673.4,694.1 Q673.6,692.3 674.5,690.7 Q676.8,689.8 679.3,689.3" fill="none" stroke="#e07040" stroke-width="0.63" stroke-linecap="round" stroke-linejoin="round" opacity="0.55"/>
<path d="M576.1,783.4 Q576.3,786.1 577.1,788.6 Q579.4,789.9 581.0,791.9" fill="none" stroke="#7090d0" stroke-width="0.78" stroke-linecap="round" stroke-linejoin="round" opacity="0.55"/>
<path d="M655.4,778.0 Q657.3,775.8 659.0,773.5" fill="none" stroke="#d8a060" stroke-width="0.75" stroke-linecap="round" stroke-linejoin="round" opacity="0.55"/>
<path d="M614.6,727.8 Q615.5,726.5 616.6,725.4 Q619.5,725.6 622.3,726.2 Q625.2,727.0 628.1,727.5" fill="none" stroke="#a0b0d0" stroke-width="0.82" stroke-linecap="round" stroke-linejoin="round" opacity="0.55"/>
<path d="M618.5,783.0 Q620.6,782.8 622.7,783.2 Q625.3,783.5 627.8,783.6 Q629.2,782.2 630.8,781.3" fill="none" stroke="#b0d0e8" stroke-width="0.66" stroke-linecap="round" stroke-linejoin="round" opacity="0.55"/>
<path d="M620.4,766.3 Q622.1,767.9 624.2,769.1" fill="none" stroke="#b0d0e8" stroke-width="0.66" stroke-linecap="round" stroke-linejoin="round" opacity="0.55"/>
<path d="M672.2,764.8 Q673.0,762.9 673.3,760.8 Q672.1,758.5 670.8,756.2 Q670.9,754.4 671.8,752.8" fill="none" stroke="#e07040" stroke-width="0.53" stroke-linecap="round" stroke-linejoin="round" opacity="0.55"/>
<path d="M683.5,777.0 Q683.0,778.8 681.8,780.2 Q679.5,780.3 677.3,780.4" fill="none" stroke="#e0c0c0" stroke-width="0.66" stroke-linecap="round" stroke-linejoin="round" opacity="0.55"/>
<path d="M653.3,726.0 Q654.6,727.5 655.6,729.2 Q656.2,730.7 657.3,731.9 Q659.8,732.1 662.3,731.7" fill="none" stroke="#e0c0c0" stroke-width="0.82" stroke-linecap="round" stroke-linejoin="round" opacity="0.55"/>
<path d="M695.8,735.3 Q697.0,737.3 698.0,739.5 Q699.8,740.1 701.8,740.6 Q704.6,741.4 707.5,741.9" fill="none" stroke="#a0b0d0" stroke-width="0.89" stroke-linecap="round" stroke-linejoin="round" opacity="0.55"/>
<path d="M655.7,755.5 Q654.0,756.7 652.1,757.4" fill="none" stroke="#b0d0e8" stroke-width="0.51" stroke-linecap="round" stroke-linejoin="round" opacity="0.55"/>
<path d="M622.3,742.2 Q622.9,744.3 623.3,746.6 Q624.0,748.8 625.3,750.8 Q625.7,752.3 626.4,753.7" fill="none" stroke="#e07040" stroke-width="0.67" stroke-linecap="round" stroke-linejoin="round" opacity="0.55"/>
<path d="M662.0,781.2 Q664.5,780.2 667.1,779.4" fill="none" stroke="#e0c0c0" stroke-width="0.80" stroke-linecap="round" stroke-linejoin="round" opacity="0.55"/>
<path d="M638.5,772.1 Q640.0,772.6 641.2,773.7 Q642.9,775.3 644.7,776.8 Q646.7,778.0 648.4,779.5" fill="none" stroke="#b0d0e8" stroke-width="0.76" stroke-linecap="round" stroke-linejoin="round" opacity="0.55"/>
<path d="M587.7,748.8 Q585.8,747.3 583.5,746.6" fill="none" stroke="#d8a060" stroke-width="0.87" stroke-linecap="round" stroke-linejoin="round" opacity="0.55"/>
<path d="M594.1,764.9 Q595.1,766.1 596.4,766.8" fill="none" stroke="#d8a060" stroke-width="0.81" stroke-linecap="round" stroke-linejoin="round" opacity="0.55"/>
<path d="M584.1,728.1 Q585.5,725.9 586.5,723.5 Q588.1,722.9 589.7,722.5" fill="none" stroke="#a0b0d0" stroke-width="0.67" stroke-linecap="round" stroke-linejoin="round" opacity="0.55"/>
<path d="M591.3,734.5 Q591.7,732.7 591.9,730.8 Q592.2,728.7 592.3,726.7 Q591.6,724.7 590.0,723.1" fill="none" stroke="#e0c0c0" stroke-width="0.78" stroke-linecap="round" stroke-linejoin="round" opacity="0.55"/>
<path d="M645.0,731.2 Q647.0,731.9 648.8,733.0" fill="none" stroke="#b0d0e8" stroke-width="0.59" stroke-linecap="round" stroke-linejoin="round" opacity="0.55"/>
<path d="M637.9,745.1 Q635.9,747.0 633.4,747.9" fill="none" stroke="#e07040" stroke-width="0.69" stroke-linecap="round" stroke-linejoin="round" opacity="0.55"/>
<path d="M694.7,797.2 Q692.9,797.9 691.1,798.5 Q688.9,799.5 686.7,800.4 Q684.6,801.1 682.4,801.2" fill="none" stroke="#7090d0" stroke-width="0.85" stroke-linecap="round" stroke-linejoin="round" opacity="0.55"/>
<path d="M704.1,679.8 Q704.8,682.6 706.2,685.0 Q708.1,686.6 709.4,688.6" fill="none" stroke="#b0d0e8" stroke-width="0.56" stroke-linecap="round" stroke-linejoin="round" opacity="0.55"/>
<path d="M599.5,727.0 Q598.0,729.2 596.7,731.7" fill="none" stroke="#d8a060" stroke-width="0.87" stroke-linecap="round" stroke-linejoin="round" opacity="0.55"/>
<path d="M685.3,713.3 Q684.1,711.0 682.6,709.0" fill="none" stroke="#e0c0c0" stroke-width="0.62" stroke-linecap="round" stroke-linejoin="round" opacity="0.55"/>
<path d="M622.4,720.1 Q624.2,719.9 626.0,719.1 Q627.8,717.1 629.0,714.8" fill="none" stroke="#e0c0c0" stroke-width="0.72" stroke-linecap="round" stroke-linejoin="round" opacity="0.55"/>
<path d="M663.7,689.0 Q663.3,691.7 663.8,694.4 Q663.9,696.7 663.7,699.0 Q663.2,701.1 662.8,703.1" fill="none" stroke="#e0c0c0" stroke-width="0.81" stroke-linecap="round" stroke-linejoin="round" opacity="0.55"/>
<path d="M633.4,693.7 Q631.5,695.8 630.1,698.2 Q628.4,698.8 627.1,699.9" fill="none" stroke="#7090d0" stroke-width="0.63" stroke-linecap="round" stroke-linejoin="round" opacity="0.55"/>
<path d="M705.1,777.9 Q707.2,777.9 709.1,777.2 Q710.4,776.0 712.1,775.4 Q714.4,774.9 716.4,773.8" fill="none" stroke="#e07040" stroke-width="0.85" stroke-linecap="round" stroke-linejoin="round" opacity="0.55"/>
<path d="M579,772 L584,759 Q590,757 594,762 L593,774 Q586,776 579,772 Z" fill="#c04a24" opacity="0.75" filter="url(#bl05)"/>
<ellipse cx="669.1" cy="768.4" rx="1.46" ry="0.90" transform="rotate(13 669.1 768.4)" fill="#60c0e0" opacity="0.85"/>
<ellipse cx="601.1" cy="717.7" rx="1.86" ry="0.74" transform="rotate(168 601.1 717.7)" fill="#60c0e0" opacity="0.85"/>
<ellipse cx="685.9" cy="745.8" rx="1.78" ry="0.74" transform="rotate(149 685.9 745.8)" fill="#70a8f0" opacity="0.85"/>
<ellipse cx="628.0" cy="718.2" rx="1.77" ry="0.65" transform="rotate(88 628.0 718.2)" fill="#8090e0" opacity="0.85"/>
<ellipse cx="651.5" cy="695.8" rx="1.43" ry="0.64" transform="rotate(33 651.5 695.8)" fill="#8090e0" opacity="0.85"/>
<ellipse cx="635.2" cy="740.1" rx="1.55" ry="1.10" transform="rotate(68 635.2 740.1)" fill="#70a8f0" opacity="0.85"/>
<ellipse cx="576.3" cy="765.3" rx="1.72" ry="0.76" transform="rotate(35 576.3 765.3)" fill="#60c0e0" opacity="0.85"/>
<ellipse cx="649.6" cy="721.5" rx="1.15" ry="0.91" transform="rotate(3 649.6 721.5)" fill="#8090e0" opacity="0.85"/>
<ellipse cx="592.5" cy="751.5" rx="1.02" ry="1.01" transform="rotate(96 592.5 751.5)" fill="#60c0e0" opacity="0.85"/>
<ellipse cx="655.2" cy="738.5" rx="1.22" ry="0.96" transform="rotate(95 655.2 738.5)" fill="#4a78e0" opacity="0.85"/>
<ellipse cx="642.6" cy="742.4" rx="1.44" ry="0.88" transform="rotate(124 642.6 742.4)" fill="#4a78e0" opacity="0.85"/>
<ellipse cx="597.9" cy="688.8" rx="1.68" ry="1.00" transform="rotate(87 597.9 688.8)" fill="#8090e0" opacity="0.85"/>
<ellipse cx="575.0" cy="706.0" rx="1.73" ry="0.87" transform="rotate(55 575.0 706.0)" fill="#60c0e0" opacity="0.85"/>
<ellipse cx="661.5" cy="764.3" rx="1.72" ry="0.64" transform="rotate(67 661.5 764.3)" fill="#60c0e0" opacity="0.85"/>
<ellipse cx="624.3" cy="686.2" rx="1.24" ry="1.06" transform="rotate(82 624.3 686.2)" fill="#4a78e0" opacity="0.85"/>
<ellipse cx="684.4" cy="706.6" rx="1.28" ry="1.02" transform="rotate(163 684.4 706.6)" fill="#5a90f0" opacity="0.85"/>
<ellipse cx="579.8" cy="720.9" rx="1.75" ry="0.66" transform="rotate(148 579.8 720.9)" fill="#4a78e0" opacity="0.85"/>
<ellipse cx="693.9" cy="792.2" rx="1.76" ry="0.99" transform="rotate(50 693.9 792.2)" fill="#60c0e0" opacity="0.85"/>
<ellipse cx="702.5" cy="764.4" rx="1.69" ry="0.99" transform="rotate(157 702.5 764.4)" fill="#8090e0" opacity="0.85"/>
<ellipse cx="636.9" cy="698.3" rx="1.48" ry="0.74" transform="rotate(123 636.9 698.3)" fill="#5a90f0" opacity="0.85"/>
<ellipse cx="692.5" cy="697.5" rx="1.68" ry="0.86" transform="rotate(146 692.5 697.5)" fill="#5a90f0" opacity="0.85"/>
<ellipse cx="682.9" cy="707.4" rx="1.83" ry="0.75" transform="rotate(51 682.9 707.4)" fill="#60c0e0" opacity="0.85"/>
<ellipse cx="585.0" cy="776.6" rx="1.27" ry="0.80" transform="rotate(179 585.0 776.6)" fill="#70a8f0" opacity="0.85"/>
<ellipse cx="645.3" cy="759.9" rx="1.86" ry="0.79" transform="rotate(67 645.3 759.9)" fill="#8090e0" opacity="0.85"/>
<ellipse cx="652.2" cy="752.7" rx="1.20" ry="1.01" transform="rotate(76 652.2 752.7)" fill="#4a78e0" opacity="0.85"/>
<ellipse cx="612.0" cy="713.7" rx="1.38" ry="0.64" transform="rotate(31 612.0 713.7)" fill="#70a8f0" opacity="0.85"/>
<ellipse cx="647.1" cy="727.3" rx="1.04" ry="1.02" transform="rotate(144 647.1 727.3)" fill="#4a78e0" opacity="0.85"/>
<ellipse cx="656.8" cy="725.4" rx="1.80" ry="1.05" transform="rotate(15 656.8 725.4)" fill="#4a78e0" opacity="0.85"/>
<ellipse cx="680.4" cy="791.5" rx="1.69" ry="0.61" transform="rotate(175 680.4 791.5)" fill="#70a8f0" opacity="0.85"/>
<ellipse cx="609.1" cy="793.0" rx="1.81" ry="0.68" transform="rotate(70 609.1 793.0)" fill="#70a8f0" opacity="0.85"/>
<ellipse cx="658.0" cy="787.2" rx="1.70" ry="1.07" transform="rotate(147 658.0 787.2)" fill="#8090e0" opacity="0.85"/>
<ellipse cx="623.8" cy="727.1" rx="1.86" ry="1.06" transform="rotate(67 623.8 727.1)" fill="#70a8f0" opacity="0.85"/>
<ellipse cx="664.9" cy="686.0" rx="1.19" ry="1.07" transform="rotate(125 664.9 686.0)" fill="#60c0e0" opacity="0.85"/>
<ellipse cx="678.5" cy="729.1" rx="1.22" ry="0.71" transform="rotate(132 678.5 729.1)" fill="#4a78e0" opacity="0.85"/>
<ellipse cx="682.6" cy="675.8" rx="1.24" ry="0.99" transform="rotate(144 682.6 675.8)" fill="#5a90f0" opacity="0.85"/>
<ellipse cx="699.3" cy="688.0" rx="1.13" ry="0.78" transform="rotate(177 699.3 688.0)" fill="#4a78e0" opacity="0.85"/>
<ellipse cx="676.4" cy="675.7" rx="1.63" ry="0.66" transform="rotate(13 676.4 675.7)" fill="#60c0e0" opacity="0.85"/>
<ellipse cx="658.6" cy="677.0" rx="1.33" ry="1.07" transform="rotate(178 658.6 677.0)" fill="#5a90f0" opacity="0.85"/>
<ellipse cx="689.5" cy="676.0" rx="1.06" ry="0.96" transform="rotate(29 689.5 676.0)" fill="#5a90f0" opacity="0.85"/>
<ellipse cx="644.6" cy="698.2" rx="1.08" ry="0.85" transform="rotate(39 644.6 698.2)" fill="#8090e0" opacity="0.85"/>
<ellipse cx="638.6" cy="723.8" rx="1.70" ry="0.91" transform="rotate(164 638.6 723.8)" fill="#60c0e0" opacity="0.85"/>
<ellipse cx="592.4" cy="677.6" rx="1.26" ry="0.84" transform="rotate(80 592.4 677.6)" fill="#5a90f0" opacity="0.85"/>
<ellipse cx="698.1" cy="772.8" rx="1.21" ry="0.77" transform="rotate(166 698.1 772.8)" fill="#4a78e0" opacity="0.85"/>
<ellipse cx="644.4" cy="703.0" rx="1.88" ry="0.71" transform="rotate(154 644.4 703.0)" fill="#4a78e0" opacity="0.85"/>
<ellipse cx="641.0" cy="783.8" rx="1.67" ry="0.94" transform="rotate(95 641.0 783.8)" fill="#70a8f0" opacity="0.85"/>
<ellipse cx="629.1" cy="674.1" rx="1.42" ry="0.97" transform="rotate(126 629.1 674.1)" fill="#70a8f0" opacity="0.85"/>
<ellipse cx="629.6" cy="718.6" rx="1.86" ry="0.61" transform="rotate(23 629.6 718.6)" fill="#8090e0" opacity="0.85"/>
<ellipse cx="651.4" cy="690.7" rx="1.31" ry="1.01" transform="rotate(172 651.4 690.7)" fill="#5a90f0" opacity="0.85"/>
<ellipse cx="667.1" cy="782.8" rx="1.36" ry="0.82" transform="rotate(52 667.1 782.8)" fill="#60c0e0" opacity="0.85"/>
<ellipse cx="599.4" cy="710.6" rx="1.54" ry="0.69" transform="rotate(152 599.4 710.6)" fill="#60c0e0" opacity="0.85"/>
<ellipse cx="649.0" cy="790.9" rx="1.78" ry="0.62" transform="rotate(126 649.0 790.9)" fill="#70a8f0" opacity="0.85"/>
<ellipse cx="635.0" cy="720.6" rx="1.60" ry="0.82" transform="rotate(169 635.0 720.6)" fill="#8090e0" opacity="0.85"/>
<ellipse cx="629.9" cy="680.1" rx="1.45" ry="0.61" transform="rotate(145 629.9 680.1)" fill="#5a90f0" opacity="0.85"/>
<ellipse cx="592.4" cy="671.7" rx="1.72" ry="0.93" transform="rotate(121 592.4 671.7)" fill="#70a8f0" opacity="0.85"/>
<ellipse cx="641.8" cy="743.4" rx="1.86" ry="1.01" transform="rotate(179 641.8 743.4)" fill="#60c0e0" opacity="0.85"/>
<ellipse cx="622.0" cy="695.0" rx="1.51" ry="0.61" transform="rotate(13 622.0 695.0)" fill="#8090e0" opacity="0.85"/>
<ellipse cx="645.1" cy="667.0" rx="1.86" ry="0.66" transform="rotate(15 645.1 667.0)" fill="#70a8f0" opacity="0.85"/>
<ellipse cx="667.0" cy="760.5" rx="1.89" ry="0.85" transform="rotate(115 667.0 760.5)" fill="#8090e0" opacity="0.85"/>
<ellipse cx="579.4" cy="748.3" rx="1.87" ry="0.83" transform="rotate(17 579.4 748.3)" fill="#5a90f0" opacity="0.85"/>
<ellipse cx="653.8" cy="755.4" rx="1.64" ry="1.07" transform="rotate(33 653.8 755.4)" fill="#8090e0" opacity="0.85"/>
<ellipse cx="674.1" cy="685.8" rx="1.16" ry="1.09" transform="rotate(139 674.1 685.8)" fill="#4a78e0" opacity="0.85"/>
<ellipse cx="644.0" cy="680.9" rx="1.50" ry="0.73" transform="rotate(60 644.0 680.9)" fill="#60c0e0" opacity="0.85"/>
<ellipse cx="580.1" cy="689.5" rx="1.41" ry="0.83" transform="rotate(50 580.1 689.5)" fill="#8090e0" opacity="0.85"/>
<ellipse cx="618.7" cy="703.7" rx="1.06" ry="0.82" transform="rotate(179 618.7 703.7)" fill="#70a8f0" opacity="0.85"/>
<ellipse cx="685.3" cy="732.2" rx="1.18" ry="1.06" transform="rotate(75 685.3 732.2)" fill="#70a8f0" opacity="0.85"/>
<ellipse cx="607.8" cy="764.8" rx="1.58" ry="0.83" transform="rotate(124 607.8 764.8)" fill="#5a90f0" opacity="0.85"/>
<ellipse cx="695.4" cy="765.1" rx="1.40" ry="0.92" transform="rotate(33 695.4 765.1)" fill="#5a90f0" opacity="0.85"/>
<ellipse cx="639.7" cy="728.6" rx="1.06" ry="0.73" transform="rotate(12 639.7 728.6)" fill="#5a90f0" opacity="0.85"/>
<ellipse cx="632.2" cy="678.5" rx="1.61" ry="0.71" transform="rotate(47 632.2 678.5)" fill="#4a78e0" opacity="0.85"/>
<ellipse cx="634.3" cy="687.7" rx="1.58" ry="0.90" transform="rotate(151 634.3 687.7)" fill="#8090e0" opacity="0.85"/>
<ellipse cx="679.5" cy="705.0" rx="1.67" ry="1.08" transform="rotate(140 679.5 705.0)" fill="#8090e0" opacity="0.85"/>
<ellipse cx="579.5" cy="721.2" rx="1.71" ry="0.94" transform="rotate(40 579.5 721.2)" fill="#70a8f0" opacity="0.85"/>
<ellipse cx="668.3" cy="792.0" rx="1.61" ry="0.99" transform="rotate(174 668.3 792.0)" fill="#70a8f0" opacity="0.85"/>
<ellipse cx="649.7" cy="736.4" rx="1.78" ry="0.83" transform="rotate(3 649.7 736.4)" fill="#60c0e0" opacity="0.85"/>
<ellipse cx="670.1" cy="707.7" rx="1.80" ry="0.96" transform="rotate(108 670.1 707.7)" fill="#60c0e0" opacity="0.85"/>
<ellipse cx="583.5" cy="711.8" rx="1.17" ry="0.63" transform="rotate(180 583.5 711.8)" fill="#5a90f0" opacity="0.85"/>
<ellipse cx="683.6" cy="770.2" rx="1.68" ry="0.98" transform="rotate(70 683.6 770.2)" fill="#60c0e0" opacity="0.85"/>
<ellipse cx="601.3" cy="795.2" rx="1.82" ry="0.86" transform="rotate(104 601.3 795.2)" fill="#70a8f0" opacity="0.85"/>
<ellipse cx="583.9" cy="723.5" rx="1.65" ry="0.61" transform="rotate(94 583.9 723.5)" fill="#8090e0" opacity="0.85"/>
<ellipse cx="669.7" cy="769.0" rx="1.64" ry="0.92" transform="rotate(95 669.7 769.0)" fill="#8090e0" opacity="0.85"/>
<ellipse cx="643.0" cy="743.6" rx="1.07" ry="1.06" transform="rotate(148 643.0 743.6)" fill="#70a8f0" opacity="0.85"/>
<ellipse cx="579.3" cy="751.0" rx="1.57" ry="1.10" transform="rotate(53 579.3 751.0)" fill="#60c0e0" opacity="0.85"/>
<ellipse cx="698.9" cy="784.9" rx="1.84" ry="0.70" transform="rotate(113 698.9 784.9)" fill="#8090e0" opacity="0.85"/>
<ellipse cx="631.9" cy="699.7" rx="1.82" ry="0.71" transform="rotate(162 631.9 699.7)" fill="#5a90f0" opacity="0.85"/>
<ellipse cx="628.2" cy="711.2" rx="1.34" ry="0.87" transform="rotate(34 628.2 711.2)" fill="#4a78e0" opacity="0.85"/>
<ellipse cx="686.4" cy="790.1" rx="1.20" ry="0.96" transform="rotate(169 686.4 790.1)" fill="#4a78e0" opacity="0.85"/>
<ellipse cx="625.6" cy="713.4" rx="1.63" ry="1.02" transform="rotate(167 625.6 713.4)" fill="#60c0e0" opacity="0.85"/>
<ellipse cx="674.0" cy="665.0" rx="1.03" ry="1.05" transform="rotate(14 674.0 665.0)" fill="#5a90f0" opacity="0.85"/>
<ellipse cx="680.1" cy="710.5" rx="1.81" ry="0.88" transform="rotate(118 680.1 710.5)" fill="#5a90f0" opacity="0.85"/>
<ellipse cx="678.8" cy="779.6" rx="1.51" ry="1.09" transform="rotate(154 678.8 779.6)" fill="#8090e0" opacity="0.85"/>
<ellipse cx="666.1" cy="720.8" rx="1.39" ry="0.97" transform="rotate(54 666.1 720.8)" fill="#4a78e0" opacity="0.85"/>
<ellipse cx="602.6" cy="722.1" rx="1.09" ry="0.79" transform="rotate(69 602.6 722.1)" fill="#8090e0" opacity="0.85"/>
<ellipse cx="689.1" cy="740.9" rx="1.34" ry="1.08" transform="rotate(160 689.1 740.9)" fill="#70a8f0" opacity="0.85"/>
<ellipse cx="655.1" cy="675.3" rx="1.72" ry="0.90" transform="rotate(152 655.1 675.3)" fill="#70a8f0" opacity="0.85"/>
<ellipse cx="680.3" cy="682.5" rx="1.63" ry="0.65" transform="rotate(131 680.3 682.5)" fill="#5a90f0" opacity="0.85"/>
<ellipse cx="698.5" cy="709.3" rx="1.37" ry="0.72" transform="rotate(95 698.5 709.3)" fill="#5a90f0" opacity="0.85"/>
<ellipse cx="683.0" cy="746.8" rx="1.41" ry="0.81" transform="rotate(178 683.0 746.8)" fill="#70a8f0" opacity="0.85"/>
<ellipse cx="607.9" cy="779.6" rx="1.02" ry="0.76" transform="rotate(53 607.9 779.6)" fill="#8090e0" opacity="0.85"/>
<ellipse cx="603.7" cy="790.9" rx="1.60" ry="0.96" transform="rotate(129 603.7 790.9)" fill="#5a90f0" opacity="0.85"/>
<ellipse cx="583.2" cy="780.7" rx="1.71" ry="1.09" transform="rotate(23 583.2 780.7)" fill="#8090e0" opacity="0.85"/>
<ellipse cx="596.2" cy="788.0" rx="1.73" ry="1.03" transform="rotate(32 596.2 788.0)" fill="#4a78e0" opacity="0.85"/>
<ellipse cx="622.2" cy="734.3" rx="1.54" ry="0.67" transform="rotate(85 622.2 734.3)" fill="#70a8f0" opacity="0.85"/>
<ellipse cx="673.1" cy="668.9" rx="1.83" ry="0.97" transform="rotate(52 673.1 668.9)" fill="#5a90f0" opacity="0.85"/>
<ellipse cx="693.5" cy="747.0" rx="1.63" ry="0.71" transform="rotate(69 693.5 747.0)" fill="#8090e0" opacity="0.85"/>
<ellipse cx="648.6" cy="787.5" rx="1.36" ry="0.74" transform="rotate(163 648.6 787.5)" fill="#70a8f0" opacity="0.85"/>
<ellipse cx="638.7" cy="744.3" rx="1.88" ry="0.86" transform="rotate(130 638.7 744.3)" fill="#8090e0" opacity="0.85"/>
<ellipse cx="632.6" cy="675.8" rx="1.41" ry="0.70" transform="rotate(128 632.6 675.8)" fill="#4a78e0" opacity="0.85"/>
<ellipse cx="681.7" cy="721.2" rx="1.11" ry="1.05" transform="rotate(37 681.7 721.2)" fill="#70a8f0" opacity="0.85"/>
<ellipse cx="626.8" cy="727.3" rx="1.10" ry="0.72" transform="rotate(17 626.8 727.3)" fill="#70a8f0" opacity="0.85"/>
<ellipse cx="677.1" cy="672.2" rx="1.62" ry="0.68" transform="rotate(16 677.1 672.2)" fill="#5a90f0" opacity="0.85"/>
<ellipse cx="616.2" cy="706.2" rx="1.34" ry="0.97" transform="rotate(95 616.2 706.2)" fill="#8090e0" opacity="0.85"/>
<ellipse cx="692.2" cy="702.4" rx="1.59" ry="0.74" transform="rotate(66 692.2 702.4)" fill="#5a90f0" opacity="0.85"/>
<ellipse cx="661.8" cy="767.6" rx="1.58" ry="0.85" transform="rotate(109 661.8 767.6)" fill="#60c0e0" opacity="0.85"/>
<ellipse cx="583.3" cy="667.8" rx="1.62" ry="1.00" transform="rotate(84 583.3 667.8)" fill="#60c0e0" opacity="0.85"/>
<ellipse cx="584.3" cy="751.9" rx="1.49" ry="0.71" transform="rotate(9 584.3 751.9)" fill="#4a78e0" opacity="0.85"/>
<ellipse cx="605.6" cy="671.3" rx="1.24" ry="1.00" transform="rotate(94 605.6 671.3)" fill="#4a78e0" opacity="0.85"/>
<ellipse cx="677.9" cy="755.5" rx="1.18" ry="0.99" transform="rotate(75 677.9 755.5)" fill="#70a8f0" opacity="0.85"/>
<ellipse cx="587.6" cy="688.3" rx="1.30" ry="0.74" transform="rotate(107 587.6 688.3)" fill="#4a78e0" opacity="0.85"/>
<ellipse cx="675.9" cy="703.9" rx="1.74" ry="0.63" transform="rotate(125 675.9 703.9)" fill="#4a78e0" opacity="0.85"/>
<ellipse cx="635.7" cy="781.4" rx="1.33" ry="0.64" transform="rotate(135 635.7 781.4)" fill="#8090e0" opacity="0.85"/>
<ellipse cx="611.0" cy="782.3" rx="1.61" ry="0.63" transform="rotate(6 611.0 782.3)" fill="#60c0e0" opacity="0.85"/>
<ellipse cx="588.1" cy="738.8" rx="1.04" ry="0.65" transform="rotate(61 588.1 738.8)" fill="#8090e0" opacity="0.85"/>
<ellipse cx="657.8" cy="781.9" rx="1.77" ry="0.73" transform="rotate(15 657.8 781.9)" fill="#4a78e0" opacity="0.85"/>
<ellipse cx="578.3" cy="702.8" rx="1.85" ry="0.69" transform="rotate(58 578.3 702.8)" fill="#4a78e0" opacity="0.85"/>
<ellipse cx="639.3" cy="771.4" rx="1.86" ry="1.08" transform="rotate(100 639.3 771.4)" fill="#70a8f0" opacity="0.85"/>
<ellipse cx="583.1" cy="672.5" rx="1.31" ry="0.98" transform="rotate(149 583.1 672.5)" fill="#4a78e0" opacity="0.85"/>
<ellipse cx="628.0" cy="736.3" rx="1.66" ry="1.07" transform="rotate(171 628.0 736.3)" fill="#5a90f0" opacity="0.85"/>
<ellipse cx="605.4" cy="670.6" rx="1.13" ry="0.93" transform="rotate(126 605.4 670.6)" fill="#4a78e0" opacity="0.85"/>
<ellipse cx="644.3" cy="797.0" rx="1.39" ry="0.93" transform="rotate(134 644.3 797.0)" fill="#8090e0" opacity="0.85"/>
<ellipse cx="602.0" cy="730.0" rx="1.35" ry="0.71" transform="rotate(75 602.0 730.0)" fill="#5a90f0" opacity="0.85"/>
<ellipse cx="689.6" cy="736.7" rx="1.16" ry="0.83" transform="rotate(35 689.6 736.7)" fill="#60c0e0" opacity="0.85"/>
<ellipse cx="664.4" cy="771.3" rx="1.15" ry="0.69" transform="rotate(97 664.4 771.3)" fill="#8090e0" opacity="0.85"/>
<ellipse cx="608.3" cy="754.9" rx="1.37" ry="1.03" transform="rotate(161 608.3 754.9)" fill="#70a8f0" opacity="0.85"/>
<ellipse cx="696.2" cy="681.3" rx="1.39" ry="0.93" transform="rotate(136 696.2 681.3)" fill="#60c0e0" opacity="0.85"/>
<ellipse cx="654.1" cy="701.1" rx="1.46" ry="0.86" transform="rotate(61 654.1 701.1)" fill="#70a8f0" opacity="0.85"/>
<ellipse cx="655.5" cy="704.9" rx="1.65" ry="0.83" transform="rotate(133 655.5 704.9)" fill="#4a78e0" opacity="0.85"/>
<ellipse cx="703.5" cy="752.8" rx="1.63" ry="0.77" transform="rotate(38 703.5 752.8)" fill="#60c0e0" opacity="0.85"/>
<ellipse cx="613.8" cy="696.5" rx="1.59" ry="0.75" transform="rotate(49 613.8 696.5)" fill="#4a78e0" opacity="0.85"/>
<ellipse cx="612.3" cy="716.2" rx="1.38" ry="1.02" transform="rotate(37 612.3 716.2)" fill="#5a90f0" opacity="0.85"/>
<ellipse cx="684.4" cy="749.9" rx="1.43" ry="0.67" transform="rotate(77 684.4 749.9)" fill="#60c0e0" opacity="0.85"/>
<ellipse cx="612.8" cy="720.5" rx="1.03" ry="1.03" transform="rotate(28 612.8 720.5)" fill="#5a90f0" opacity="0.85"/>
<ellipse cx="680.3" cy="674.8" rx="1.27" ry="0.80" transform="rotate(136 680.3 674.8)" fill="#8090e0" opacity="0.85"/>
<ellipse cx="597.6" cy="725.1" rx="1.17" ry="1.00" transform="rotate(38 597.6 725.1)" fill="#4a78e0" opacity="0.85"/>
<ellipse cx="616.2" cy="773.7" rx="1.48" ry="0.75" transform="rotate(116 616.2 773.7)" fill="#8090e0" opacity="0.85"/>
<ellipse cx="594.8" cy="785.2" rx="1.62" ry="0.93" transform="rotate(56 594.8 785.2)" fill="#4a78e0" opacity="0.85"/>
<ellipse cx="580.2" cy="695.0" rx="1.06" ry="1.07" transform="rotate(137 580.2 695.0)" fill="#8090e0" opacity="0.85"/>
<ellipse cx="644.7" cy="787.9" rx="1.46" ry="0.72" transform="rotate(12 644.7 787.9)" fill="#4a78e0" opacity="0.85"/>
<ellipse cx="651.5" cy="684.8" rx="1.23" ry="0.89" transform="rotate(14 651.5 684.8)" fill="#4a78e0" opacity="0.85"/>
<ellipse cx="674.2" cy="687.5" rx="1.33" ry="0.65" transform="rotate(114 674.2 687.5)" fill="#4a78e0" opacity="0.85"/>
<ellipse cx="600.0" cy="764.2" rx="1.67" ry="0.67" transform="rotate(112 600.0 764.2)" fill="#8090e0" opacity="0.85"/>
<ellipse cx="590.4" cy="705.3" rx="1.79" ry="0.85" transform="rotate(47 590.4 705.3)" fill="#4a78e0" opacity="0.85"/>
<ellipse cx="620.7" cy="698.0" rx="1.27" ry="0.82" transform="rotate(91 620.7 698.0)" fill="#70a8f0" opacity="0.85"/>
<ellipse cx="683.3" cy="757.6" rx="1.37" ry="0.82" transform="rotate(178 683.3 757.6)" fill="#60c0e0" opacity="0.85"/>
<ellipse cx="588.2" cy="725.2" rx="1.35" ry="0.75" transform="rotate(157 588.2 725.2)" fill="#70a8f0" opacity="0.85"/>
<ellipse cx="701.0" cy="788.5" rx="1.62" ry="0.68" transform="rotate(173 701.0 788.5)" fill="#5a90f0" opacity="0.85"/>
<ellipse cx="668.9" cy="729.3" rx="1.76" ry="0.75" transform="rotate(106 668.9 729.3)" fill="#4a78e0" opacity="0.85"/>
<ellipse cx="654.5" cy="793.5" rx="1.57" ry="1.03" transform="rotate(74 654.5 793.5)" fill="#4a78e0" opacity="0.85"/>
<ellipse cx="614.2" cy="780.9" rx="1.27" ry="0.63" transform="rotate(91 614.2 780.9)" fill="#60c0e0" opacity="0.85"/>
<ellipse cx="681.3" cy="734.8" rx="1.46" ry="0.97" transform="rotate(138 681.3 734.8)" fill="#8090e0" opacity="0.85"/>
<ellipse cx="632.2" cy="754.1" rx="1.46" ry="0.87" transform="rotate(8 632.2 754.1)" fill="#70a8f0" opacity="0.85"/>
<ellipse cx="604.5" cy="729.8" rx="1.26" ry="0.66" transform="rotate(37 604.5 729.8)" fill="#70a8f0" opacity="0.85"/>
<ellipse cx="641.5" cy="665.4" rx="1.19" ry="1.08" transform="rotate(95 641.5 665.4)" fill="#8090e0" opacity="0.85"/>
<ellipse cx="697.5" cy="780.2" rx="1.48" ry="0.94" transform="rotate(151 697.5 780.2)" fill="#60c0e0" opacity="0.85"/>
<ellipse cx="697.8" cy="762.7" rx="1.89" ry="0.90" transform="rotate(155 697.8 762.7)" fill="#60c0e0" opacity="0.85"/>
<ellipse cx="663.9" cy="773.7" rx="1.79" ry="1.06" transform="rotate(156 663.9 773.7)" fill="#5a90f0" opacity="0.85"/>
<ellipse cx="692.5" cy="767.8" rx="1.18" ry="0.84" transform="rotate(50 692.5 767.8)" fill="#70a8f0" opacity="0.85"/>
<ellipse cx="573.5" cy="715.9" rx="1.22" ry="0.64" transform="rotate(41 573.5 715.9)" fill="#70a8f0" opacity="0.85"/>
<ellipse cx="612.3" cy="704.0" rx="1.25" ry="0.63" transform="rotate(156 612.3 704.0)" fill="#4a78e0" opacity="0.85"/>
<ellipse cx="637.9" cy="796.3" rx="1.21" ry="0.67" transform="rotate(137 637.9 796.3)" fill="#5a90f0" opacity="0.85"/>
<ellipse cx="659.4" cy="713.4" rx="1.41" ry="0.70" transform="rotate(109 659.4 713.4)" fill="#70a8f0" opacity="0.85"/>
<ellipse cx="638.7" cy="712.2" rx="1.49" ry="0.64" transform="rotate(38 638.7 712.2)" fill="#60c0e0" opacity="0.85"/>
<ellipse cx="587.2" cy="726.7" rx="1.03" ry="1.06" transform="rotate(153 587.2 726.7)" fill="#8090e0" opacity="0.85"/>
<ellipse cx="626.2" cy="723.2" rx="1.03" ry="0.63" transform="rotate(107 626.2 723.2)" fill="#70a8f0" opacity="0.85"/>
<ellipse cx="597.3" cy="684.2" rx="1.53" ry="0.79" transform="rotate(123 597.3 684.2)" fill="#60c0e0" opacity="0.85"/>
<ellipse cx="611.4" cy="762.5" rx="1.81" ry="0.62" transform="rotate(177 611.4 762.5)" fill="#60c0e0" opacity="0.85"/>
<ellipse cx="621.2" cy="692.0" rx="1.61" ry="0.93" transform="rotate(147 621.2 692.0)" fill="#4a78e0" opacity="0.85"/>
<ellipse cx="615.0" cy="690.6" rx="1.03" ry="1.07" transform="rotate(159 615.0 690.6)" fill="#60c0e0" opacity="0.85"/>
<ellipse cx="669.7" cy="749.6" rx="1.20" ry="0.91" transform="rotate(34 669.7 749.6)" fill="#4a78e0" opacity="0.85"/>
<ellipse cx="589.0" cy="725.2" rx="1.53" ry="0.84" transform="rotate(180 589.0 725.2)" fill="#60c0e0" opacity="0.85"/>
<ellipse cx="642.4" cy="777.1" rx="1.52" ry="1.06" transform="rotate(106 642.4 777.1)" fill="#70a8f0" opacity="0.85"/>
<ellipse cx="622.2" cy="703.3" rx="1.74" ry="0.86" transform="rotate(174 622.2 703.3)" fill="#4a78e0" opacity="0.85"/>
<ellipse cx="669.4" cy="734.3" rx="1.75" ry="0.96" transform="rotate(114 669.4 734.3)" fill="#70a8f0" opacity="0.85"/>
<ellipse cx="626.9" cy="718.5" rx="1.89" ry="1.03" transform="rotate(82 626.9 718.5)" fill="#4a78e0" opacity="0.85"/>
<ellipse cx="650.3" cy="766.2" rx="1.58" ry="0.84" transform="rotate(153 650.3 766.2)" fill="#4a78e0" opacity="0.85"/>
<ellipse cx="636.1" cy="780.2" rx="1.31" ry="0.66" transform="rotate(35 636.1 780.2)" fill="#4a78e0" opacity="0.85"/>
<ellipse cx="650.3" cy="701.8" rx="1.04" ry="0.92" transform="rotate(61 650.3 701.8)" fill="#5a90f0" opacity="0.85"/>
<ellipse cx="594.6" cy="680.7" rx="1.10" ry="0.62" transform="rotate(37 594.6 680.7)" fill="#5a90f0" opacity="0.85"/>
<ellipse cx="649.6" cy="681.0" rx="1.90" ry="0.85" transform="rotate(40 649.6 681.0)" fill="#70a8f0" opacity="0.85"/>
<ellipse cx="667.6" cy="782.8" rx="1.22" ry="0.69" transform="rotate(142 667.6 782.8)" fill="#60c0e0" opacity="0.85"/>
<ellipse cx="600.5" cy="727.1" rx="1.68" ry="0.68" transform="rotate(40 600.5 727.1)" fill="#70a8f0" opacity="0.85"/>
<ellipse cx="672.9" cy="770.5" rx="1.45" ry="0.61" transform="rotate(78 672.9 770.5)" fill="#8090e0" opacity="0.85"/>
<ellipse cx="618.3" cy="694.4" rx="1.51" ry="1.01" transform="rotate(99 618.3 694.4)" fill="#8090e0" opacity="0.85"/>
<ellipse cx="686.7" cy="718.2" rx="1.14" ry="0.84" transform="rotate(156 686.7 718.2)" fill="#4a78e0" opacity="0.85"/>
<ellipse cx="650.9" cy="792.2" rx="1.88" ry="0.85" transform="rotate(166 650.9 792.2)" fill="#60c0e0" opacity="0.85"/>
<ellipse cx="659.1" cy="775.3" rx="1.47" ry="0.91" transform="rotate(177 659.1 775.3)" fill="#4a78e0" opacity="0.85"/>
<ellipse cx="682.7" cy="678.4" rx="1.10" ry="0.99" transform="rotate(102 682.7 678.4)" fill="#60c0e0" opacity="0.85"/>
<ellipse cx="594.7" cy="743.0" rx="1.12" ry="0.96" transform="rotate(178 594.7 743.0)" fill="#4a78e0" opacity="0.85"/>
<ellipse cx="671.3" cy="667.1" rx="1.20" ry="0.67" transform="rotate(152 671.3 667.1)" fill="#5a90f0" opacity="0.85"/>
<ellipse cx="627.2" cy="711.4" rx="1.87" ry="0.67" transform="rotate(34 627.2 711.4)" fill="#8090e0" opacity="0.85"/>
<ellipse cx="694.4" cy="720.1" rx="1.61" ry="0.72" transform="rotate(38 694.4 720.1)" fill="#5a90f0" opacity="0.85"/>
<ellipse cx="639.1" cy="757.4" rx="1.29" ry="0.93" transform="rotate(100 639.1 757.4)" fill="#8090e0" opacity="0.85"/>
<ellipse cx="606.6" cy="707.6" rx="1.54" ry="0.68" transform="rotate(94 606.6 707.6)" fill="#4a78e0" opacity="0.85"/>
<ellipse cx="676.3" cy="738.8" rx="1.47" ry="0.65" transform="rotate(172 676.3 738.8)" fill="#5a90f0" opacity="0.85"/>
<ellipse cx="594.4" cy="715.7" rx="1.01" ry="0.67" transform="rotate(86 594.4 715.7)" fill="#5a90f0" opacity="0.85"/>
<ellipse cx="701.1" cy="720.4" rx="1.72" ry="0.62" transform="rotate(27 701.1 720.4)" fill="#5a90f0" opacity="0.85"/>
<ellipse cx="601.3" cy="702.6" rx="1.59" ry="0.67" transform="rotate(124 601.3 702.6)" fill="#60c0e0" opacity="0.85"/>
<ellipse cx="681.0" cy="686.3" rx="1.42" ry="0.97" transform="rotate(104 681.0 686.3)" fill="#5a90f0" opacity="0.85"/>
<ellipse cx="661.5" cy="676.8" rx="1.86" ry="0.90" transform="rotate(96 661.5 676.8)" fill="#70a8f0" opacity="0.85"/>
<ellipse cx="686.0" cy="721.9" rx="1.76" ry="0.95" transform="rotate(124 686.0 721.9)" fill="#8090e0" opacity="0.85"/>
<ellipse cx="681.3" cy="666.8" rx="1.82" ry="1.00" transform="rotate(42 681.3 666.8)" fill="#4a78e0" opacity="0.85"/>
<ellipse cx="700.6" cy="667.7" rx="1.36" ry="0.80" transform="rotate(125 700.6 667.7)" fill="#70a8f0" opacity="0.85"/>
<ellipse cx="680.6" cy="700.4" rx="1.54" ry="0.86" transform="rotate(76 680.6 700.4)" fill="#70a8f0" opacity="0.85"/>
<ellipse cx="624.3" cy="737.7" rx="1.59" ry="0.93" transform="rotate(15 624.3 737.7)" fill="#70a8f0" opacity="0.85"/>
<ellipse cx="632.2" cy="676.5" rx="1.33" ry="0.71" transform="rotate(73 632.2 676.5)" fill="#70a8f0" opacity="0.85"/>
<ellipse cx="681.3" cy="773.5" rx="1.02" ry="0.98" transform="rotate(1 681.3 773.5)" fill="#5a90f0" opacity="0.85"/>
<ellipse cx="634.2" cy="667.2" rx="1.87" ry="1.02" transform="rotate(129 634.2 667.2)" fill="#70a8f0" opacity="0.85"/>
<ellipse cx="663.8" cy="685.9" rx="1.75" ry="0.98" transform="rotate(33 663.8 685.9)" fill="#70a8f0" opacity="0.85"/>
<ellipse cx="616.3" cy="729.5" rx="1.30" ry="0.89" transform="rotate(141 616.3 729.5)" fill="#5a90f0" opacity="0.85"/>
<ellipse cx="647.9" cy="700.3" rx="1.18" ry="0.67" transform="rotate(132 647.9 700.3)" fill="#5a90f0" opacity="0.85"/>
<ellipse cx="664.8" cy="746.0" rx="1.14" ry="0.99" transform="rotate(84 664.8 746.0)" fill="#4a78e0" opacity="0.85"/>
<ellipse cx="628.7" cy="708.2" rx="1.76" ry="0.68" transform="rotate(128 628.7 708.2)" fill="#4a78e0" opacity="0.85"/>
<ellipse cx="672.5" cy="704.1" rx="1.60" ry="0.83" transform="rotate(82 672.5 704.1)" fill="#4a78e0" opacity="0.85"/>
<ellipse cx="662.0" cy="677.8" rx="1.20" ry="1.05" transform="rotate(149 662.0 677.8)" fill="#5a90f0" opacity="0.85"/>
<ellipse cx="662.9" cy="705.5" rx="1.46" ry="1.01" transform="rotate(170 662.9 705.5)" fill="#60c0e0" opacity="0.85"/>
<ellipse cx="665.8" cy="710.6" rx="1.32" ry="0.67" transform="rotate(17 665.8 710.6)" fill="#70a8f0" opacity="0.85"/>
<ellipse cx="677.0" cy="760.0" rx="1.37" ry="0.67" transform="rotate(53 677.0 760.0)" fill="#70a8f0" opacity="0.85"/>
<ellipse cx="612.5" cy="670.5" rx="1.53" ry="0.69" transform="rotate(9 612.5 670.5)" fill="#8090e0" opacity="0.85"/>
<ellipse cx="590.1" cy="765.4" rx="1.89" ry="0.66" transform="rotate(101 590.1 765.4)" fill="#60c0e0" opacity="0.85"/>
<ellipse cx="624.5" cy="669.8" rx="1.07" ry="0.72" transform="rotate(95 624.5 669.8)" fill="#70a8f0" opacity="0.85"/>
<ellipse cx="696.3" cy="726.7" rx="1.32" ry="0.83" transform="rotate(12 696.3 726.7)" fill="#5a90f0" opacity="0.85"/>
<circle cx="684.1" cy="666.2" r="0.55" fill="#f0e0c0" opacity="0.7"/>
<circle cx="634.7" cy="735.7" r="0.53" fill="#c0e0a0" opacity="0.7"/>
<circle cx="684.0" cy="791.2" r="0.69" fill="#f0e0c0" opacity="0.7"/>
<circle cx="674.4" cy="769.7" r="0.65" fill="#f0e0c0" opacity="0.7"/>
<circle cx="618.0" cy="679.5" r="0.64" fill="#ffffff" opacity="0.7"/>
<circle cx="643.0" cy="789.2" r="0.62" fill="#f0e0c0" opacity="0.7"/>
<circle cx="610.0" cy="756.6" r="0.93" fill="#ffffff" opacity="0.7"/>
<circle cx="684.9" cy="701.7" r="0.77" fill="#f0e0c0" opacity="0.7"/>
<circle cx="677.7" cy="712.6" r="0.65" fill="#f0e0c0" opacity="0.7"/>
<circle cx="692.1" cy="713.0" r="0.67" fill="#ffffff" opacity="0.7"/>
<circle cx="662.2" cy="677.6" r="0.98" fill="#c0e0a0" opacity="0.7"/>
<circle cx="600.6" cy="767.4" r="0.68" fill="#ffffff" opacity="0.7"/>
<circle cx="704.7" cy="682.3" r="0.90" fill="#c0e0a0" opacity="0.7"/>
<circle cx="698.0" cy="696.1" r="0.98" fill="#c0e0a0" opacity="0.7"/>
<circle cx="605.0" cy="735.3" r="0.74" fill="#f0e0c0" opacity="0.7"/>
<circle cx="623.6" cy="668.0" r="0.73" fill="#f0e0c0" opacity="0.7"/>
<circle cx="653.4" cy="793.9" r="0.82" fill="#f0e0c0" opacity="0.7"/>
<circle cx="671.0" cy="665.5" r="0.99" fill="#f0e0c0" opacity="0.7"/>
<circle cx="588.1" cy="685.2" r="0.88" fill="#f0e0c0" opacity="0.7"/>
<circle cx="662.1" cy="690.8" r="0.97" fill="#f0e0c0" opacity="0.7"/>
<circle cx="697.7" cy="707.0" r="0.82" fill="#f0e0c0" opacity="0.7"/>
<circle cx="579.9" cy="779.0" r="0.61" fill="#c0e0a0" opacity="0.7"/>
<circle cx="676.7" cy="708.6" r="0.79" fill="#c0e0a0" opacity="0.7"/>
<circle cx="618.1" cy="676.8" r="0.71" fill="#f0e0c0" opacity="0.7"/>
<circle cx="686.1" cy="758.9" r="0.89" fill="#c0e0a0" opacity="0.7"/>
<circle cx="588.8" cy="776.1" r="0.84" fill="#f0e0c0" opacity="0.7"/>
<circle cx="683.7" cy="690.4" r="0.75" fill="#c0e0a0" opacity="0.7"/>
<circle cx="673.0" cy="722.2" r="0.96" fill="#f0e0c0" opacity="0.7"/>
<circle cx="626.7" cy="686.9" r="0.99" fill="#f0e0c0" opacity="0.7"/>
<circle cx="636.9" cy="783.3" r="0.58" fill="#f0e0c0" opacity="0.7"/>
<circle cx="588.8" cy="707.8" r="0.99" fill="#c0e0a0" opacity="0.7"/>
<circle cx="672.1" cy="670.1" r="0.96" fill="#ffffff" opacity="0.7"/>
<circle cx="633.1" cy="749.0" r="0.50" fill="#f0e0c0" opacity="0.7"/>
<circle cx="606.4" cy="761.1" r="0.78" fill="#c0e0a0" opacity="0.7"/>
<circle cx="687.9" cy="718.7" r="0.63" fill="#ffffff" opacity="0.7"/>
<circle cx="704.1" cy="736.8" r="0.95" fill="#c0e0a0" opacity="0.7"/>
<circle cx="676.7" cy="682.3" r="0.87" fill="#ffffff" opacity="0.7"/>
<circle cx="624.6" cy="776.8" r="0.83" fill="#c0e0a0" opacity="0.7"/>
<circle cx="623.6" cy="692.8" r="0.86" fill="#c0e0a0" opacity="0.7"/>
<circle cx="592.7" cy="668.9" r="0.69" fill="#ffffff" opacity="0.7"/>
</g>
<text x="454.80" y="785.30" font-size="7.8" font-weight="bold" text-anchor="middle" fill="#f2f2f2" font-family="'Liberation Serif', serif" textLength="32.7" lengthAdjust="spacingAndGlyphs"  stroke="#f2f2f2" stroke-width="0.4">200μm</text>
<line x1="443.40" y1="790.10" x2="463.80" y2="790.10" stroke="#eeeeee" stroke-width="1.8"/>
<text x="684.00" y="785.30" font-size="7.8" font-weight="bold" text-anchor="middle" fill="#f2f2f2" font-family="'Liberation Serif', serif" textLength="32.6" lengthAdjust="spacingAndGlyphs"  stroke="#f2f2f2" stroke-width="0.4">200μm</text>
<line x1="677.60" y1="789.60" x2="697.80" y2="789.60" stroke="#eeeeee" stroke-width="1.8"/>
<text x="457.20" y="924.60" font-size="7.8" font-weight="bold" text-anchor="middle" fill="#e8e070" font-family="'Liberation Serif', serif" textLength="30.7" lengthAdjust="spacingAndGlyphs"  stroke="#e8e070" stroke-width="0.4">100μm</text>
<line x1="440.30" y1="927.30" x2="470.50" y2="927.30" stroke="#e8e070" stroke-width="1.8"/>
<text x="683.50" y="924.60" font-size="7.8" font-weight="bold" text-anchor="middle" fill="#e8e070" font-family="'Liberation Serif', serif" textLength="29.7" lengthAdjust="spacingAndGlyphs"  stroke="#e8e070" stroke-width="0.4">100μm</text>
<line x1="666.00" y1="927.30" x2="696.00" y2="927.30" stroke="#e8e070" stroke-width="1.8"/>
</svg>
</body></html>
